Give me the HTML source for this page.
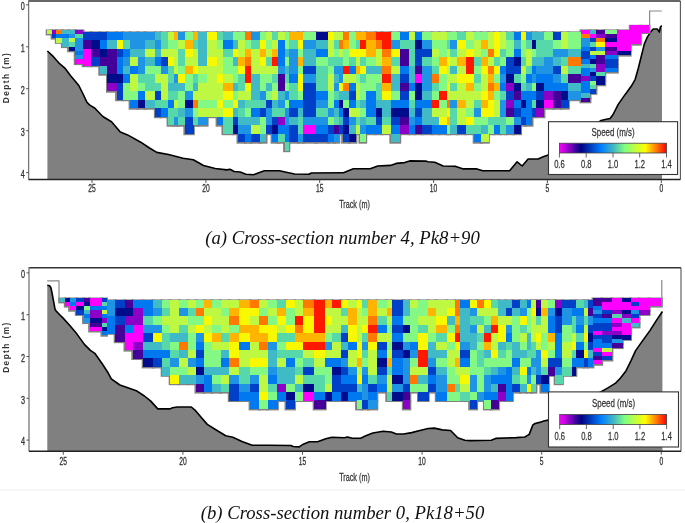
<!DOCTYPE html>
<html><head><meta charset="utf-8"><style>
html,body{margin:0;padding:0;background:#fff;}
#w{position:relative;width:685px;height:523px;overflow:hidden;background:#fff;}
svg{position:absolute;left:0;top:0;filter:blur(0.45px);}
svg text{font-family:"Liberation Sans",Arial,sans-serif;}
.cap{position:absolute;left:0;width:685px;text-align:center;font-family:"Liberation Serif","Times New Roman",serif;font-style:italic;color:#111;white-space:nowrap;filter:blur(0.3px);}
</style></head><body><div id="w">
<svg width="685" height="523" viewBox="0 0 685 523">
<path d="M47.4,179.5 L47.4,51 L53.4,56.7 L58.7,62.8 L64.8,68.1 L70.8,76.1 L78.8,85.5 L82.8,93.5 L86.9,102.2 L89.5,104.9 L94.9,108.3 L102.8,116.5 L111.5,121.8 L120.3,132 L127.6,134.9 L140.7,142.2 L149.5,148 L156.8,152.4 L168.5,154.5 L183.1,158.2 L193.3,159.7 L203.5,165.5 L215.2,168.5 L226.9,169.9 L230,169.3 L234.2,171.5 L240.1,172 L245.9,174.3 L253.5,174.7 L260.2,172.2 L264.4,170.8 L279.5,170.8 L286.2,172.2 L294.6,174 L308.9,174.3 L311.4,173 L342.5,172.7 L343.4,172.7 L353.4,168.8 L370.2,168.8 L377.8,166 L390.4,165.4 L396.2,163.4 L404.6,162.6 L409.7,160.9 L425.6,161.1 L428.1,161.8 L434.8,162.3 L443.2,166 L452.5,166.3 L455.9,166.4 L463.4,168.9 L476.9,168.9 L482.7,170.7 L509.6,170.7 L517.1,161.8 L522.2,166 L528.1,159 L538.1,159 L543.2,156.8 L548.2,155.1 L575,140 L601.1,120.5 L605.1,119.5 L610.1,118.5 L613.1,114.5 L618.2,104.4 L625.2,94.4 L631.2,86.3 L635.2,79.3 L638.3,68.2 L641.3,56.2 L644.3,44.1 L647.3,37.1 L651.3,31.1 L653.3,29 L657.3,29 L659.4,32.1 L660.4,27 L661.4,26 L662,26 L662,179.5 Z" fill="#808080"/><path d="M47.4,51 L53.4,56.7 L58.7,62.8 L64.8,68.1 L70.8,76.1 L78.8,85.5 L82.8,93.5 L86.9,102.2 L89.5,104.9 L94.9,108.3 L102.8,116.5 L111.5,121.8 L120.3,132 L127.6,134.9 L140.7,142.2 L149.5,148 L156.8,152.4 L168.5,154.5 L183.1,158.2 L193.3,159.7 L203.5,165.5 L215.2,168.5 L226.9,169.9 L230,169.3 L234.2,171.5 L240.1,172 L245.9,174.3 L253.5,174.7 L260.2,172.2 L264.4,170.8 L279.5,170.8 L286.2,172.2 L294.6,174 L308.9,174.3 L311.4,173 L342.5,172.7 L343.4,172.7 L353.4,168.8 L370.2,168.8 L377.8,166 L390.4,165.4 L396.2,163.4 L404.6,162.6 L409.7,160.9 L425.6,161.1 L428.1,161.8 L434.8,162.3 L443.2,166 L452.5,166.3 L455.9,166.4 L463.4,168.9 L476.9,168.9 L482.7,170.7 L509.6,170.7 L517.1,161.8 L522.2,166 L528.1,159 L538.1,159 L543.2,156.8 L548.2,155.1 L575,140 L601.1,120.5 L605.1,119.5 L610.1,118.5 L613.1,114.5 L618.2,104.4 L625.2,94.4 L631.2,86.3 L635.2,79.3 L638.3,68.2 L641.3,56.2 L644.3,44.1 L647.3,37.1 L651.3,31.1 L653.3,29 L657.3,29 L659.4,32.1 L660.4,27 L661.4,26 L662,26" fill="none" stroke="#000" stroke-width="1.6" stroke-linejoin="round"/>
<g fill="#808080">
<rect x="81.7" y="31.4" width="10.8" height="10.3"/>
<rect x="81.7" y="39.9" width="10.8" height="10.3"/>
<rect x="81.7" y="48.4" width="10.8" height="10.3"/>
<rect x="81.7" y="56.9" width="10.8" height="10.3"/>
<rect x="89.7" y="31.4" width="11.4" height="10.3"/>
<rect x="89.7" y="39.9" width="11.4" height="10.3"/>
<rect x="89.7" y="48.4" width="11.4" height="10.3"/>
<rect x="89.7" y="56.9" width="11.4" height="10.3"/>
<rect x="98.3" y="31.4" width="10.5" height="10.3"/>
<rect x="98.3" y="39.9" width="10.5" height="10.3"/>
<rect x="98.3" y="48.4" width="10.5" height="10.3"/>
<rect x="98.3" y="56.9" width="10.5" height="10.3"/>
<rect x="98.3" y="65.4" width="10.5" height="10.3"/>
<rect x="106.0" y="31.4" width="11.9" height="10.3"/>
<rect x="106.0" y="39.9" width="11.9" height="10.3"/>
<rect x="106.0" y="48.4" width="11.9" height="10.3"/>
<rect x="106.0" y="56.9" width="11.9" height="10.3"/>
<rect x="106.0" y="65.4" width="11.9" height="10.3"/>
<rect x="106.0" y="73.9" width="11.9" height="10.3"/>
<rect x="106.0" y="82.4" width="11.9" height="10.3"/>
<rect x="115.1" y="31.4" width="9.1" height="10.3"/>
<rect x="115.1" y="39.9" width="9.1" height="10.3"/>
<rect x="115.1" y="48.4" width="9.1" height="10.3"/>
<rect x="115.1" y="56.9" width="9.1" height="10.3"/>
<rect x="115.1" y="65.4" width="9.1" height="10.3"/>
<rect x="115.1" y="73.9" width="9.1" height="10.3"/>
<rect x="115.1" y="82.4" width="9.1" height="10.3"/>
<rect x="115.1" y="90.9" width="9.1" height="10.3"/>
<rect x="121.4" y="31.4" width="10.0" height="10.3"/>
<rect x="121.4" y="39.9" width="10.0" height="10.3"/>
<rect x="121.4" y="48.4" width="10.0" height="10.3"/>
<rect x="121.4" y="56.9" width="10.0" height="10.3"/>
<rect x="121.4" y="65.4" width="10.0" height="10.3"/>
<rect x="121.4" y="73.9" width="10.0" height="10.3"/>
<rect x="121.4" y="82.4" width="10.0" height="10.3"/>
<rect x="121.4" y="90.9" width="10.0" height="10.3"/>
<rect x="128.6" y="31.4" width="10.6" height="10.3"/>
<rect x="128.6" y="39.9" width="10.6" height="10.3"/>
<rect x="128.6" y="48.4" width="10.6" height="10.3"/>
<rect x="128.6" y="56.9" width="10.6" height="10.3"/>
<rect x="128.6" y="65.4" width="10.6" height="10.3"/>
<rect x="128.6" y="73.9" width="10.6" height="10.3"/>
<rect x="128.6" y="82.4" width="10.6" height="10.3"/>
<rect x="128.6" y="90.9" width="10.6" height="10.3"/>
<rect x="128.6" y="99.4" width="10.6" height="10.3"/>
<rect x="136.4" y="31.4" width="10.0" height="10.3"/>
<rect x="136.4" y="39.9" width="10.0" height="10.3"/>
<rect x="136.4" y="48.4" width="10.0" height="10.3"/>
<rect x="136.4" y="56.9" width="10.0" height="10.3"/>
<rect x="136.4" y="65.4" width="10.0" height="10.3"/>
<rect x="136.4" y="73.9" width="10.0" height="10.3"/>
<rect x="136.4" y="82.4" width="10.0" height="10.3"/>
<rect x="136.4" y="90.9" width="10.0" height="10.3"/>
<rect x="136.4" y="99.4" width="10.0" height="10.3"/>
<rect x="143.6" y="31.4" width="13.1" height="10.3"/>
<rect x="143.6" y="39.9" width="13.1" height="10.3"/>
<rect x="143.6" y="48.4" width="13.1" height="10.3"/>
<rect x="143.6" y="56.9" width="13.1" height="10.3"/>
<rect x="143.6" y="65.4" width="13.1" height="10.3"/>
<rect x="143.6" y="73.9" width="13.1" height="10.3"/>
<rect x="143.6" y="82.4" width="13.1" height="10.3"/>
<rect x="143.6" y="90.9" width="13.1" height="10.3"/>
<rect x="143.6" y="99.4" width="13.1" height="10.3"/>
<rect x="153.9" y="31.4" width="8.3" height="10.3"/>
<rect x="153.9" y="39.9" width="8.3" height="10.3"/>
<rect x="153.9" y="48.4" width="8.3" height="10.3"/>
<rect x="153.9" y="56.9" width="8.3" height="10.3"/>
<rect x="153.9" y="65.4" width="8.3" height="10.3"/>
<rect x="153.9" y="73.9" width="8.3" height="10.3"/>
<rect x="153.9" y="82.4" width="8.3" height="10.3"/>
<rect x="153.9" y="90.9" width="8.3" height="10.3"/>
<rect x="153.9" y="99.4" width="8.3" height="10.3"/>
<rect x="153.9" y="107.9" width="8.3" height="10.3"/>
<rect x="159.4" y="31.4" width="10.0" height="10.3"/>
<rect x="159.4" y="39.9" width="10.0" height="10.3"/>
<rect x="159.4" y="48.4" width="10.0" height="10.3"/>
<rect x="159.4" y="56.9" width="10.0" height="10.3"/>
<rect x="159.4" y="65.4" width="10.0" height="10.3"/>
<rect x="159.4" y="73.9" width="10.0" height="10.3"/>
<rect x="159.4" y="82.4" width="10.0" height="10.3"/>
<rect x="159.4" y="90.9" width="10.0" height="10.3"/>
<rect x="159.4" y="99.4" width="10.0" height="10.3"/>
<rect x="159.4" y="107.9" width="10.0" height="10.3"/>
<rect x="166.6" y="31.4" width="8.8" height="10.3"/>
<rect x="166.6" y="39.9" width="8.8" height="10.3"/>
<rect x="166.6" y="48.4" width="8.8" height="10.3"/>
<rect x="166.6" y="56.9" width="8.8" height="10.3"/>
<rect x="166.6" y="65.4" width="8.8" height="10.3"/>
<rect x="166.6" y="73.9" width="8.8" height="10.3"/>
<rect x="166.6" y="82.4" width="8.8" height="10.3"/>
<rect x="166.6" y="90.9" width="8.8" height="10.3"/>
<rect x="166.6" y="99.4" width="8.8" height="10.3"/>
<rect x="166.6" y="107.9" width="8.8" height="10.3"/>
<rect x="166.6" y="116.4" width="8.8" height="10.3"/>
<rect x="172.6" y="31.4" width="6.4" height="10.3"/>
<rect x="172.6" y="39.9" width="6.4" height="10.3"/>
<rect x="172.6" y="48.4" width="6.4" height="10.3"/>
<rect x="172.6" y="56.9" width="6.4" height="10.3"/>
<rect x="172.6" y="65.4" width="6.4" height="10.3"/>
<rect x="172.6" y="73.9" width="6.4" height="10.3"/>
<rect x="172.6" y="82.4" width="6.4" height="10.3"/>
<rect x="172.6" y="90.9" width="6.4" height="10.3"/>
<rect x="172.6" y="99.4" width="6.4" height="10.3"/>
<rect x="172.6" y="107.9" width="6.4" height="10.3"/>
<rect x="172.6" y="116.4" width="6.4" height="10.3"/>
<rect x="176.2" y="31.4" width="10.0" height="10.3"/>
<rect x="176.2" y="39.9" width="10.0" height="10.3"/>
<rect x="176.2" y="48.4" width="10.0" height="10.3"/>
<rect x="176.2" y="56.9" width="10.0" height="10.3"/>
<rect x="176.2" y="65.4" width="10.0" height="10.3"/>
<rect x="176.2" y="73.9" width="10.0" height="10.3"/>
<rect x="176.2" y="82.4" width="10.0" height="10.3"/>
<rect x="176.2" y="90.9" width="10.0" height="10.3"/>
<rect x="176.2" y="99.4" width="10.0" height="10.3"/>
<rect x="176.2" y="107.9" width="10.0" height="10.3"/>
<rect x="176.2" y="116.4" width="10.0" height="10.3"/>
<rect x="183.4" y="31.4" width="11.4" height="10.3"/>
<rect x="183.4" y="39.9" width="11.4" height="10.3"/>
<rect x="183.4" y="48.4" width="11.4" height="10.3"/>
<rect x="183.4" y="56.9" width="11.4" height="10.3"/>
<rect x="183.4" y="65.4" width="11.4" height="10.3"/>
<rect x="183.4" y="73.9" width="11.4" height="10.3"/>
<rect x="183.4" y="82.4" width="11.4" height="10.3"/>
<rect x="183.4" y="90.9" width="11.4" height="10.3"/>
<rect x="183.4" y="99.4" width="11.4" height="10.3"/>
<rect x="183.4" y="107.9" width="11.4" height="10.3"/>
<rect x="183.4" y="116.4" width="11.4" height="10.3"/>
<rect x="183.4" y="124.9" width="11.4" height="10.3"/>
<rect x="192.0" y="31.4" width="7.4" height="10.3"/>
<rect x="192.0" y="39.9" width="7.4" height="10.3"/>
<rect x="192.0" y="48.4" width="7.4" height="10.3"/>
<rect x="192.0" y="56.9" width="7.4" height="10.3"/>
<rect x="192.0" y="65.4" width="7.4" height="10.3"/>
<rect x="192.0" y="73.9" width="7.4" height="10.3"/>
<rect x="192.0" y="82.4" width="7.4" height="10.3"/>
<rect x="192.0" y="90.9" width="7.4" height="10.3"/>
<rect x="192.0" y="99.4" width="7.4" height="10.3"/>
<rect x="192.0" y="107.9" width="7.4" height="10.3"/>
<rect x="192.0" y="116.4" width="7.4" height="10.3"/>
<rect x="196.6" y="31.4" width="12.0" height="10.3"/>
<rect x="196.6" y="39.9" width="12.0" height="10.3"/>
<rect x="196.6" y="48.4" width="12.0" height="10.3"/>
<rect x="196.6" y="56.9" width="12.0" height="10.3"/>
<rect x="196.6" y="65.4" width="12.0" height="10.3"/>
<rect x="196.6" y="73.9" width="12.0" height="10.3"/>
<rect x="196.6" y="82.4" width="12.0" height="10.3"/>
<rect x="196.6" y="90.9" width="12.0" height="10.3"/>
<rect x="196.6" y="99.4" width="12.0" height="10.3"/>
<rect x="196.6" y="107.9" width="12.0" height="10.3"/>
<rect x="196.6" y="116.4" width="12.0" height="10.3"/>
<rect x="205.8" y="31.4" width="12.6" height="10.3"/>
<rect x="205.8" y="39.9" width="12.6" height="10.3"/>
<rect x="205.8" y="48.4" width="12.6" height="10.3"/>
<rect x="205.8" y="56.9" width="12.6" height="10.3"/>
<rect x="205.8" y="65.4" width="12.6" height="10.3"/>
<rect x="205.8" y="73.9" width="12.6" height="10.3"/>
<rect x="205.8" y="82.4" width="12.6" height="10.3"/>
<rect x="205.8" y="90.9" width="12.6" height="10.3"/>
<rect x="205.8" y="99.4" width="12.6" height="10.3"/>
<rect x="205.8" y="107.9" width="12.6" height="10.3"/>
<rect x="215.6" y="31.4" width="8.7" height="10.3"/>
<rect x="215.6" y="39.9" width="8.7" height="10.3"/>
<rect x="215.6" y="48.4" width="8.7" height="10.3"/>
<rect x="215.6" y="56.9" width="8.7" height="10.3"/>
<rect x="215.6" y="65.4" width="8.7" height="10.3"/>
<rect x="215.6" y="73.9" width="8.7" height="10.3"/>
<rect x="215.6" y="82.4" width="8.7" height="10.3"/>
<rect x="215.6" y="90.9" width="8.7" height="10.3"/>
<rect x="215.6" y="99.4" width="8.7" height="10.3"/>
<rect x="215.6" y="107.9" width="8.7" height="10.3"/>
<rect x="215.6" y="116.4" width="8.7" height="10.3"/>
<rect x="221.5" y="31.4" width="12.9" height="10.3"/>
<rect x="221.5" y="39.9" width="12.9" height="10.3"/>
<rect x="221.5" y="48.4" width="12.9" height="10.3"/>
<rect x="221.5" y="56.9" width="12.9" height="10.3"/>
<rect x="221.5" y="65.4" width="12.9" height="10.3"/>
<rect x="221.5" y="73.9" width="12.9" height="10.3"/>
<rect x="221.5" y="82.4" width="12.9" height="10.3"/>
<rect x="221.5" y="90.9" width="12.9" height="10.3"/>
<rect x="221.5" y="99.4" width="12.9" height="10.3"/>
<rect x="221.5" y="107.9" width="12.9" height="10.3"/>
<rect x="221.5" y="116.4" width="12.9" height="10.3"/>
<rect x="221.5" y="124.9" width="12.9" height="10.3"/>
<rect x="231.6" y="31.4" width="7.7" height="10.3"/>
<rect x="231.6" y="39.9" width="7.7" height="10.3"/>
<rect x="231.6" y="48.4" width="7.7" height="10.3"/>
<rect x="231.6" y="56.9" width="7.7" height="10.3"/>
<rect x="231.6" y="65.4" width="7.7" height="10.3"/>
<rect x="231.6" y="73.9" width="7.7" height="10.3"/>
<rect x="231.6" y="82.4" width="7.7" height="10.3"/>
<rect x="231.6" y="90.9" width="7.7" height="10.3"/>
<rect x="231.6" y="99.4" width="7.7" height="10.3"/>
<rect x="231.6" y="107.9" width="7.7" height="10.3"/>
<rect x="231.6" y="116.4" width="7.7" height="10.3"/>
<rect x="231.6" y="124.9" width="7.7" height="10.3"/>
<rect x="236.5" y="31.4" width="10.0" height="10.3"/>
<rect x="236.5" y="39.9" width="10.0" height="10.3"/>
<rect x="236.5" y="48.4" width="10.0" height="10.3"/>
<rect x="236.5" y="56.9" width="10.0" height="10.3"/>
<rect x="236.5" y="65.4" width="10.0" height="10.3"/>
<rect x="236.5" y="73.9" width="10.0" height="10.3"/>
<rect x="236.5" y="82.4" width="10.0" height="10.3"/>
<rect x="236.5" y="90.9" width="10.0" height="10.3"/>
<rect x="236.5" y="99.4" width="10.0" height="10.3"/>
<rect x="236.5" y="107.9" width="10.0" height="10.3"/>
<rect x="236.5" y="116.4" width="10.0" height="10.3"/>
<rect x="236.5" y="124.9" width="10.0" height="10.3"/>
<rect x="236.5" y="133.4" width="10.0" height="10.3"/>
<rect x="243.7" y="31.4" width="8.7" height="10.3"/>
<rect x="243.7" y="39.9" width="8.7" height="10.3"/>
<rect x="243.7" y="48.4" width="8.7" height="10.3"/>
<rect x="243.7" y="56.9" width="8.7" height="10.3"/>
<rect x="243.7" y="65.4" width="8.7" height="10.3"/>
<rect x="243.7" y="73.9" width="8.7" height="10.3"/>
<rect x="243.7" y="82.4" width="8.7" height="10.3"/>
<rect x="243.7" y="90.9" width="8.7" height="10.3"/>
<rect x="243.7" y="99.4" width="8.7" height="10.3"/>
<rect x="243.7" y="107.9" width="8.7" height="10.3"/>
<rect x="243.7" y="116.4" width="8.7" height="10.3"/>
<rect x="243.7" y="124.9" width="8.7" height="10.3"/>
<rect x="243.7" y="133.4" width="8.7" height="10.3"/>
<rect x="249.6" y="31.4" width="11.8" height="10.3"/>
<rect x="249.6" y="39.9" width="11.8" height="10.3"/>
<rect x="249.6" y="48.4" width="11.8" height="10.3"/>
<rect x="249.6" y="56.9" width="11.8" height="10.3"/>
<rect x="249.6" y="65.4" width="11.8" height="10.3"/>
<rect x="249.6" y="73.9" width="11.8" height="10.3"/>
<rect x="249.6" y="82.4" width="11.8" height="10.3"/>
<rect x="249.6" y="90.9" width="11.8" height="10.3"/>
<rect x="249.6" y="99.4" width="11.8" height="10.3"/>
<rect x="249.6" y="107.9" width="11.8" height="10.3"/>
<rect x="249.6" y="116.4" width="11.8" height="10.3"/>
<rect x="249.6" y="124.9" width="11.8" height="10.3"/>
<rect x="249.6" y="133.4" width="11.8" height="10.3"/>
<rect x="258.6" y="31.4" width="8.9" height="10.3"/>
<rect x="258.6" y="39.9" width="8.9" height="10.3"/>
<rect x="258.6" y="48.4" width="8.9" height="10.3"/>
<rect x="258.6" y="56.9" width="8.9" height="10.3"/>
<rect x="258.6" y="65.4" width="8.9" height="10.3"/>
<rect x="258.6" y="73.9" width="8.9" height="10.3"/>
<rect x="258.6" y="82.4" width="8.9" height="10.3"/>
<rect x="258.6" y="90.9" width="8.9" height="10.3"/>
<rect x="258.6" y="99.4" width="8.9" height="10.3"/>
<rect x="258.6" y="107.9" width="8.9" height="10.3"/>
<rect x="258.6" y="116.4" width="8.9" height="10.3"/>
<rect x="258.6" y="124.9" width="8.9" height="10.3"/>
<rect x="258.6" y="133.4" width="8.9" height="10.3"/>
<rect x="264.7" y="31.4" width="8.7" height="10.3"/>
<rect x="264.7" y="39.9" width="8.7" height="10.3"/>
<rect x="264.7" y="48.4" width="8.7" height="10.3"/>
<rect x="264.7" y="56.9" width="8.7" height="10.3"/>
<rect x="264.7" y="65.4" width="8.7" height="10.3"/>
<rect x="264.7" y="73.9" width="8.7" height="10.3"/>
<rect x="264.7" y="82.4" width="8.7" height="10.3"/>
<rect x="264.7" y="90.9" width="8.7" height="10.3"/>
<rect x="264.7" y="99.4" width="8.7" height="10.3"/>
<rect x="264.7" y="107.9" width="8.7" height="10.3"/>
<rect x="264.7" y="116.4" width="8.7" height="10.3"/>
<rect x="264.7" y="124.9" width="8.7" height="10.3"/>
<rect x="270.6" y="31.4" width="8.8" height="10.3"/>
<rect x="270.6" y="39.9" width="8.8" height="10.3"/>
<rect x="270.6" y="48.4" width="8.8" height="10.3"/>
<rect x="270.6" y="56.9" width="8.8" height="10.3"/>
<rect x="270.6" y="65.4" width="8.8" height="10.3"/>
<rect x="270.6" y="73.9" width="8.8" height="10.3"/>
<rect x="270.6" y="82.4" width="8.8" height="10.3"/>
<rect x="270.6" y="90.9" width="8.8" height="10.3"/>
<rect x="270.6" y="99.4" width="8.8" height="10.3"/>
<rect x="270.6" y="107.9" width="8.8" height="10.3"/>
<rect x="270.6" y="116.4" width="8.8" height="10.3"/>
<rect x="270.6" y="124.9" width="8.8" height="10.3"/>
<rect x="270.6" y="133.4" width="8.8" height="10.3"/>
<rect x="276.6" y="31.4" width="9.3" height="10.3"/>
<rect x="276.6" y="39.9" width="9.3" height="10.3"/>
<rect x="276.6" y="48.4" width="9.3" height="10.3"/>
<rect x="276.6" y="56.9" width="9.3" height="10.3"/>
<rect x="276.6" y="65.4" width="9.3" height="10.3"/>
<rect x="276.6" y="73.9" width="9.3" height="10.3"/>
<rect x="276.6" y="82.4" width="9.3" height="10.3"/>
<rect x="276.6" y="90.9" width="9.3" height="10.3"/>
<rect x="276.6" y="99.4" width="9.3" height="10.3"/>
<rect x="276.6" y="107.9" width="9.3" height="10.3"/>
<rect x="276.6" y="116.4" width="9.3" height="10.3"/>
<rect x="276.6" y="124.9" width="9.3" height="10.3"/>
<rect x="276.6" y="133.4" width="9.3" height="10.3"/>
<rect x="283.1" y="31.4" width="7.2" height="10.3"/>
<rect x="283.1" y="39.9" width="7.2" height="10.3"/>
<rect x="283.1" y="48.4" width="7.2" height="10.3"/>
<rect x="283.1" y="56.9" width="7.2" height="10.3"/>
<rect x="283.1" y="65.4" width="7.2" height="10.3"/>
<rect x="283.1" y="73.9" width="7.2" height="10.3"/>
<rect x="283.1" y="82.4" width="7.2" height="10.3"/>
<rect x="283.1" y="90.9" width="7.2" height="10.3"/>
<rect x="283.1" y="99.4" width="7.2" height="10.3"/>
<rect x="283.1" y="107.9" width="7.2" height="10.3"/>
<rect x="283.1" y="116.4" width="7.2" height="10.3"/>
<rect x="283.1" y="124.9" width="7.2" height="10.3"/>
<rect x="283.1" y="133.4" width="7.2" height="10.3"/>
<rect x="283.1" y="141.9" width="7.2" height="10.3"/>
<rect x="287.5" y="31.4" width="12.2" height="10.3"/>
<rect x="287.5" y="39.9" width="12.2" height="10.3"/>
<rect x="287.5" y="48.4" width="12.2" height="10.3"/>
<rect x="287.5" y="56.9" width="12.2" height="10.3"/>
<rect x="287.5" y="65.4" width="12.2" height="10.3"/>
<rect x="287.5" y="73.9" width="12.2" height="10.3"/>
<rect x="287.5" y="82.4" width="12.2" height="10.3"/>
<rect x="287.5" y="90.9" width="12.2" height="10.3"/>
<rect x="287.5" y="99.4" width="12.2" height="10.3"/>
<rect x="287.5" y="107.9" width="12.2" height="10.3"/>
<rect x="287.5" y="116.4" width="12.2" height="10.3"/>
<rect x="287.5" y="124.9" width="12.2" height="10.3"/>
<rect x="287.5" y="133.4" width="12.2" height="10.3"/>
<rect x="296.9" y="31.4" width="7.8" height="10.3"/>
<rect x="296.9" y="39.9" width="7.8" height="10.3"/>
<rect x="296.9" y="48.4" width="7.8" height="10.3"/>
<rect x="296.9" y="56.9" width="7.8" height="10.3"/>
<rect x="296.9" y="65.4" width="7.8" height="10.3"/>
<rect x="296.9" y="73.9" width="7.8" height="10.3"/>
<rect x="296.9" y="82.4" width="7.8" height="10.3"/>
<rect x="296.9" y="90.9" width="7.8" height="10.3"/>
<rect x="296.9" y="99.4" width="7.8" height="10.3"/>
<rect x="296.9" y="107.9" width="7.8" height="10.3"/>
<rect x="296.9" y="116.4" width="7.8" height="10.3"/>
<rect x="296.9" y="124.9" width="7.8" height="10.3"/>
<rect x="296.9" y="133.4" width="7.8" height="10.3"/>
<rect x="301.9" y="31.4" width="15.6" height="10.3"/>
<rect x="301.9" y="39.9" width="15.6" height="10.3"/>
<rect x="301.9" y="48.4" width="15.6" height="10.3"/>
<rect x="301.9" y="56.9" width="15.6" height="10.3"/>
<rect x="301.9" y="65.4" width="15.6" height="10.3"/>
<rect x="301.9" y="73.9" width="15.6" height="10.3"/>
<rect x="301.9" y="82.4" width="15.6" height="10.3"/>
<rect x="301.9" y="90.9" width="15.6" height="10.3"/>
<rect x="301.9" y="99.4" width="15.6" height="10.3"/>
<rect x="301.9" y="107.9" width="15.6" height="10.3"/>
<rect x="301.9" y="116.4" width="15.6" height="10.3"/>
<rect x="301.9" y="124.9" width="15.6" height="10.3"/>
<rect x="301.9" y="133.4" width="15.6" height="10.3"/>
<rect x="314.7" y="31.4" width="15.1" height="10.3"/>
<rect x="314.7" y="39.9" width="15.1" height="10.3"/>
<rect x="314.7" y="48.4" width="15.1" height="10.3"/>
<rect x="314.7" y="56.9" width="15.1" height="10.3"/>
<rect x="314.7" y="65.4" width="15.1" height="10.3"/>
<rect x="314.7" y="73.9" width="15.1" height="10.3"/>
<rect x="314.7" y="82.4" width="15.1" height="10.3"/>
<rect x="314.7" y="90.9" width="15.1" height="10.3"/>
<rect x="314.7" y="99.4" width="15.1" height="10.3"/>
<rect x="314.7" y="107.9" width="15.1" height="10.3"/>
<rect x="314.7" y="116.4" width="15.1" height="10.3"/>
<rect x="314.7" y="124.9" width="15.1" height="10.3"/>
<rect x="314.7" y="133.4" width="15.1" height="10.3"/>
<rect x="327.0" y="31.4" width="8.7" height="10.3"/>
<rect x="327.0" y="39.9" width="8.7" height="10.3"/>
<rect x="327.0" y="48.4" width="8.7" height="10.3"/>
<rect x="327.0" y="56.9" width="8.7" height="10.3"/>
<rect x="327.0" y="65.4" width="8.7" height="10.3"/>
<rect x="327.0" y="73.9" width="8.7" height="10.3"/>
<rect x="327.0" y="82.4" width="8.7" height="10.3"/>
<rect x="327.0" y="90.9" width="8.7" height="10.3"/>
<rect x="327.0" y="99.4" width="8.7" height="10.3"/>
<rect x="327.0" y="107.9" width="8.7" height="10.3"/>
<rect x="327.0" y="116.4" width="8.7" height="10.3"/>
<rect x="327.0" y="124.9" width="8.7" height="10.3"/>
<rect x="327.0" y="133.4" width="8.7" height="10.3"/>
<rect x="332.9" y="31.4" width="7.4" height="10.3"/>
<rect x="332.9" y="39.9" width="7.4" height="10.3"/>
<rect x="332.9" y="48.4" width="7.4" height="10.3"/>
<rect x="332.9" y="56.9" width="7.4" height="10.3"/>
<rect x="332.9" y="65.4" width="7.4" height="10.3"/>
<rect x="332.9" y="73.9" width="7.4" height="10.3"/>
<rect x="332.9" y="82.4" width="7.4" height="10.3"/>
<rect x="332.9" y="90.9" width="7.4" height="10.3"/>
<rect x="332.9" y="99.4" width="7.4" height="10.3"/>
<rect x="332.9" y="107.9" width="7.4" height="10.3"/>
<rect x="332.9" y="116.4" width="7.4" height="10.3"/>
<rect x="332.9" y="124.9" width="7.4" height="10.3"/>
<rect x="332.9" y="133.4" width="7.4" height="10.3"/>
<rect x="337.5" y="31.4" width="6.5" height="10.3"/>
<rect x="337.5" y="39.9" width="6.5" height="10.3"/>
<rect x="337.5" y="48.4" width="6.5" height="10.3"/>
<rect x="337.5" y="56.9" width="6.5" height="10.3"/>
<rect x="337.5" y="65.4" width="6.5" height="10.3"/>
<rect x="337.5" y="73.9" width="6.5" height="10.3"/>
<rect x="337.5" y="82.4" width="6.5" height="10.3"/>
<rect x="337.5" y="90.9" width="6.5" height="10.3"/>
<rect x="337.5" y="99.4" width="6.5" height="10.3"/>
<rect x="337.5" y="107.9" width="6.5" height="10.3"/>
<rect x="337.5" y="116.4" width="6.5" height="10.3"/>
<rect x="337.5" y="124.9" width="6.5" height="10.3"/>
<rect x="341.2" y="31.4" width="9.4" height="10.3"/>
<rect x="341.2" y="39.9" width="9.4" height="10.3"/>
<rect x="341.2" y="48.4" width="9.4" height="10.3"/>
<rect x="341.2" y="56.9" width="9.4" height="10.3"/>
<rect x="341.2" y="65.4" width="9.4" height="10.3"/>
<rect x="341.2" y="73.9" width="9.4" height="10.3"/>
<rect x="341.2" y="82.4" width="9.4" height="10.3"/>
<rect x="341.2" y="90.9" width="9.4" height="10.3"/>
<rect x="341.2" y="99.4" width="9.4" height="10.3"/>
<rect x="341.2" y="107.9" width="9.4" height="10.3"/>
<rect x="341.2" y="116.4" width="9.4" height="10.3"/>
<rect x="341.2" y="124.9" width="9.4" height="10.3"/>
<rect x="341.2" y="133.4" width="9.4" height="10.3"/>
<rect x="347.8" y="31.4" width="9.6" height="10.3"/>
<rect x="347.8" y="39.9" width="9.6" height="10.3"/>
<rect x="347.8" y="48.4" width="9.6" height="10.3"/>
<rect x="347.8" y="56.9" width="9.6" height="10.3"/>
<rect x="347.8" y="65.4" width="9.6" height="10.3"/>
<rect x="347.8" y="73.9" width="9.6" height="10.3"/>
<rect x="347.8" y="82.4" width="9.6" height="10.3"/>
<rect x="347.8" y="90.9" width="9.6" height="10.3"/>
<rect x="347.8" y="99.4" width="9.6" height="10.3"/>
<rect x="347.8" y="107.9" width="9.6" height="10.3"/>
<rect x="347.8" y="116.4" width="9.6" height="10.3"/>
<rect x="347.8" y="124.9" width="9.6" height="10.3"/>
<rect x="347.8" y="133.4" width="9.6" height="10.3"/>
<rect x="354.6" y="31.4" width="6.7" height="10.3"/>
<rect x="354.6" y="39.9" width="6.7" height="10.3"/>
<rect x="354.6" y="48.4" width="6.7" height="10.3"/>
<rect x="354.6" y="56.9" width="6.7" height="10.3"/>
<rect x="354.6" y="65.4" width="6.7" height="10.3"/>
<rect x="354.6" y="73.9" width="6.7" height="10.3"/>
<rect x="354.6" y="82.4" width="6.7" height="10.3"/>
<rect x="354.6" y="90.9" width="6.7" height="10.3"/>
<rect x="354.6" y="99.4" width="6.7" height="10.3"/>
<rect x="354.6" y="107.9" width="6.7" height="10.3"/>
<rect x="354.6" y="116.4" width="6.7" height="10.3"/>
<rect x="354.6" y="124.9" width="6.7" height="10.3"/>
<rect x="358.5" y="31.4" width="8.7" height="10.3"/>
<rect x="358.5" y="39.9" width="8.7" height="10.3"/>
<rect x="358.5" y="48.4" width="8.7" height="10.3"/>
<rect x="358.5" y="56.9" width="8.7" height="10.3"/>
<rect x="358.5" y="65.4" width="8.7" height="10.3"/>
<rect x="358.5" y="73.9" width="8.7" height="10.3"/>
<rect x="358.5" y="82.4" width="8.7" height="10.3"/>
<rect x="358.5" y="90.9" width="8.7" height="10.3"/>
<rect x="358.5" y="99.4" width="8.7" height="10.3"/>
<rect x="358.5" y="107.9" width="8.7" height="10.3"/>
<rect x="358.5" y="116.4" width="8.7" height="10.3"/>
<rect x="358.5" y="124.9" width="8.7" height="10.3"/>
<rect x="358.5" y="133.4" width="8.7" height="10.3"/>
<rect x="364.4" y="31.4" width="12.7" height="10.3"/>
<rect x="364.4" y="39.9" width="12.7" height="10.3"/>
<rect x="364.4" y="48.4" width="12.7" height="10.3"/>
<rect x="364.4" y="56.9" width="12.7" height="10.3"/>
<rect x="364.4" y="65.4" width="12.7" height="10.3"/>
<rect x="364.4" y="73.9" width="12.7" height="10.3"/>
<rect x="364.4" y="82.4" width="12.7" height="10.3"/>
<rect x="364.4" y="90.9" width="12.7" height="10.3"/>
<rect x="364.4" y="99.4" width="12.7" height="10.3"/>
<rect x="364.4" y="107.9" width="12.7" height="10.3"/>
<rect x="364.4" y="116.4" width="12.7" height="10.3"/>
<rect x="364.4" y="124.9" width="12.7" height="10.3"/>
<rect x="374.3" y="31.4" width="9.1" height="10.3"/>
<rect x="374.3" y="39.9" width="9.1" height="10.3"/>
<rect x="374.3" y="48.4" width="9.1" height="10.3"/>
<rect x="374.3" y="56.9" width="9.1" height="10.3"/>
<rect x="374.3" y="65.4" width="9.1" height="10.3"/>
<rect x="374.3" y="73.9" width="9.1" height="10.3"/>
<rect x="374.3" y="82.4" width="9.1" height="10.3"/>
<rect x="374.3" y="90.9" width="9.1" height="10.3"/>
<rect x="374.3" y="99.4" width="9.1" height="10.3"/>
<rect x="374.3" y="107.9" width="9.1" height="10.3"/>
<rect x="374.3" y="116.4" width="9.1" height="10.3"/>
<rect x="374.3" y="124.9" width="9.1" height="10.3"/>
<rect x="380.6" y="31.4" width="11.6" height="10.3"/>
<rect x="380.6" y="39.9" width="11.6" height="10.3"/>
<rect x="380.6" y="48.4" width="11.6" height="10.3"/>
<rect x="380.6" y="56.9" width="11.6" height="10.3"/>
<rect x="380.6" y="65.4" width="11.6" height="10.3"/>
<rect x="380.6" y="73.9" width="11.6" height="10.3"/>
<rect x="380.6" y="82.4" width="11.6" height="10.3"/>
<rect x="380.6" y="90.9" width="11.6" height="10.3"/>
<rect x="380.6" y="99.4" width="11.6" height="10.3"/>
<rect x="380.6" y="107.9" width="11.6" height="10.3"/>
<rect x="380.6" y="116.4" width="11.6" height="10.3"/>
<rect x="380.6" y="124.9" width="11.6" height="10.3"/>
<rect x="389.4" y="31.4" width="11.8" height="10.3"/>
<rect x="389.4" y="39.9" width="11.8" height="10.3"/>
<rect x="389.4" y="48.4" width="11.8" height="10.3"/>
<rect x="389.4" y="56.9" width="11.8" height="10.3"/>
<rect x="389.4" y="65.4" width="11.8" height="10.3"/>
<rect x="389.4" y="73.9" width="11.8" height="10.3"/>
<rect x="389.4" y="82.4" width="11.8" height="10.3"/>
<rect x="389.4" y="90.9" width="11.8" height="10.3"/>
<rect x="389.4" y="99.4" width="11.8" height="10.3"/>
<rect x="389.4" y="107.9" width="11.8" height="10.3"/>
<rect x="389.4" y="116.4" width="11.8" height="10.3"/>
<rect x="389.4" y="124.9" width="11.8" height="10.3"/>
<rect x="389.4" y="133.4" width="11.8" height="10.3"/>
<rect x="398.4" y="31.4" width="12.3" height="10.3"/>
<rect x="398.4" y="39.9" width="12.3" height="10.3"/>
<rect x="398.4" y="48.4" width="12.3" height="10.3"/>
<rect x="398.4" y="56.9" width="12.3" height="10.3"/>
<rect x="398.4" y="65.4" width="12.3" height="10.3"/>
<rect x="398.4" y="73.9" width="12.3" height="10.3"/>
<rect x="398.4" y="82.4" width="12.3" height="10.3"/>
<rect x="398.4" y="90.9" width="12.3" height="10.3"/>
<rect x="398.4" y="99.4" width="12.3" height="10.3"/>
<rect x="398.4" y="107.9" width="12.3" height="10.3"/>
<rect x="398.4" y="116.4" width="12.3" height="10.3"/>
<rect x="398.4" y="124.9" width="12.3" height="10.3"/>
<rect x="407.9" y="31.4" width="8.4" height="10.3"/>
<rect x="407.9" y="39.9" width="8.4" height="10.3"/>
<rect x="407.9" y="48.4" width="8.4" height="10.3"/>
<rect x="407.9" y="56.9" width="8.4" height="10.3"/>
<rect x="407.9" y="65.4" width="8.4" height="10.3"/>
<rect x="407.9" y="73.9" width="8.4" height="10.3"/>
<rect x="407.9" y="82.4" width="8.4" height="10.3"/>
<rect x="407.9" y="90.9" width="8.4" height="10.3"/>
<rect x="407.9" y="99.4" width="8.4" height="10.3"/>
<rect x="407.9" y="107.9" width="8.4" height="10.3"/>
<rect x="407.9" y="116.4" width="8.4" height="10.3"/>
<rect x="407.9" y="124.9" width="8.4" height="10.3"/>
<rect x="413.5" y="31.4" width="10.1" height="10.3"/>
<rect x="413.5" y="39.9" width="10.1" height="10.3"/>
<rect x="413.5" y="48.4" width="10.1" height="10.3"/>
<rect x="413.5" y="56.9" width="10.1" height="10.3"/>
<rect x="413.5" y="65.4" width="10.1" height="10.3"/>
<rect x="413.5" y="73.9" width="10.1" height="10.3"/>
<rect x="413.5" y="82.4" width="10.1" height="10.3"/>
<rect x="413.5" y="90.9" width="10.1" height="10.3"/>
<rect x="413.5" y="99.4" width="10.1" height="10.3"/>
<rect x="413.5" y="107.9" width="10.1" height="10.3"/>
<rect x="413.5" y="116.4" width="10.1" height="10.3"/>
<rect x="413.5" y="124.9" width="10.1" height="10.3"/>
<rect x="420.8" y="31.4" width="12.6" height="10.3"/>
<rect x="420.8" y="39.9" width="12.6" height="10.3"/>
<rect x="420.8" y="48.4" width="12.6" height="10.3"/>
<rect x="420.8" y="56.9" width="12.6" height="10.3"/>
<rect x="420.8" y="65.4" width="12.6" height="10.3"/>
<rect x="420.8" y="73.9" width="12.6" height="10.3"/>
<rect x="420.8" y="82.4" width="12.6" height="10.3"/>
<rect x="420.8" y="90.9" width="12.6" height="10.3"/>
<rect x="420.8" y="99.4" width="12.6" height="10.3"/>
<rect x="420.8" y="107.9" width="12.6" height="10.3"/>
<rect x="420.8" y="116.4" width="12.6" height="10.3"/>
<rect x="420.8" y="124.9" width="12.6" height="10.3"/>
<rect x="430.6" y="31.4" width="10.0" height="10.3"/>
<rect x="430.6" y="39.9" width="10.0" height="10.3"/>
<rect x="430.6" y="48.4" width="10.0" height="10.3"/>
<rect x="430.6" y="56.9" width="10.0" height="10.3"/>
<rect x="430.6" y="65.4" width="10.0" height="10.3"/>
<rect x="430.6" y="73.9" width="10.0" height="10.3"/>
<rect x="430.6" y="82.4" width="10.0" height="10.3"/>
<rect x="430.6" y="90.9" width="10.0" height="10.3"/>
<rect x="430.6" y="99.4" width="10.0" height="10.3"/>
<rect x="430.6" y="107.9" width="10.0" height="10.3"/>
<rect x="430.6" y="116.4" width="10.0" height="10.3"/>
<rect x="430.6" y="124.9" width="10.0" height="10.3"/>
<rect x="437.8" y="31.4" width="10.5" height="10.3"/>
<rect x="437.8" y="39.9" width="10.5" height="10.3"/>
<rect x="437.8" y="48.4" width="10.5" height="10.3"/>
<rect x="437.8" y="56.9" width="10.5" height="10.3"/>
<rect x="437.8" y="65.4" width="10.5" height="10.3"/>
<rect x="437.8" y="73.9" width="10.5" height="10.3"/>
<rect x="437.8" y="82.4" width="10.5" height="10.3"/>
<rect x="437.8" y="90.9" width="10.5" height="10.3"/>
<rect x="437.8" y="99.4" width="10.5" height="10.3"/>
<rect x="437.8" y="107.9" width="10.5" height="10.3"/>
<rect x="437.8" y="116.4" width="10.5" height="10.3"/>
<rect x="437.8" y="124.9" width="10.5" height="10.3"/>
<rect x="445.5" y="31.4" width="5.7" height="10.3"/>
<rect x="445.5" y="39.9" width="5.7" height="10.3"/>
<rect x="445.5" y="48.4" width="5.7" height="10.3"/>
<rect x="445.5" y="56.9" width="5.7" height="10.3"/>
<rect x="445.5" y="65.4" width="5.7" height="10.3"/>
<rect x="445.5" y="73.9" width="5.7" height="10.3"/>
<rect x="445.5" y="82.4" width="5.7" height="10.3"/>
<rect x="445.5" y="90.9" width="5.7" height="10.3"/>
<rect x="445.5" y="99.4" width="5.7" height="10.3"/>
<rect x="445.5" y="107.9" width="5.7" height="10.3"/>
<rect x="445.5" y="116.4" width="5.7" height="10.3"/>
<rect x="445.5" y="124.9" width="5.7" height="10.3"/>
<rect x="448.4" y="31.4" width="10.4" height="10.3"/>
<rect x="448.4" y="39.9" width="10.4" height="10.3"/>
<rect x="448.4" y="48.4" width="10.4" height="10.3"/>
<rect x="448.4" y="56.9" width="10.4" height="10.3"/>
<rect x="448.4" y="65.4" width="10.4" height="10.3"/>
<rect x="448.4" y="73.9" width="10.4" height="10.3"/>
<rect x="448.4" y="82.4" width="10.4" height="10.3"/>
<rect x="448.4" y="90.9" width="10.4" height="10.3"/>
<rect x="448.4" y="99.4" width="10.4" height="10.3"/>
<rect x="448.4" y="107.9" width="10.4" height="10.3"/>
<rect x="448.4" y="116.4" width="10.4" height="10.3"/>
<rect x="448.4" y="124.9" width="10.4" height="10.3"/>
<rect x="456.0" y="31.4" width="10.9" height="10.3"/>
<rect x="456.0" y="39.9" width="10.9" height="10.3"/>
<rect x="456.0" y="48.4" width="10.9" height="10.3"/>
<rect x="456.0" y="56.9" width="10.9" height="10.3"/>
<rect x="456.0" y="65.4" width="10.9" height="10.3"/>
<rect x="456.0" y="73.9" width="10.9" height="10.3"/>
<rect x="456.0" y="82.4" width="10.9" height="10.3"/>
<rect x="456.0" y="90.9" width="10.9" height="10.3"/>
<rect x="456.0" y="99.4" width="10.9" height="10.3"/>
<rect x="456.0" y="107.9" width="10.9" height="10.3"/>
<rect x="456.0" y="116.4" width="10.9" height="10.3"/>
<rect x="456.0" y="124.9" width="10.9" height="10.3"/>
<rect x="464.1" y="31.4" width="11.4" height="10.3"/>
<rect x="464.1" y="39.9" width="11.4" height="10.3"/>
<rect x="464.1" y="48.4" width="11.4" height="10.3"/>
<rect x="464.1" y="56.9" width="11.4" height="10.3"/>
<rect x="464.1" y="65.4" width="11.4" height="10.3"/>
<rect x="464.1" y="73.9" width="11.4" height="10.3"/>
<rect x="464.1" y="82.4" width="11.4" height="10.3"/>
<rect x="464.1" y="90.9" width="11.4" height="10.3"/>
<rect x="464.1" y="99.4" width="11.4" height="10.3"/>
<rect x="464.1" y="107.9" width="11.4" height="10.3"/>
<rect x="464.1" y="116.4" width="11.4" height="10.3"/>
<rect x="464.1" y="124.9" width="11.4" height="10.3"/>
<rect x="472.7" y="31.4" width="9.8" height="10.3"/>
<rect x="472.7" y="39.9" width="9.8" height="10.3"/>
<rect x="472.7" y="48.4" width="9.8" height="10.3"/>
<rect x="472.7" y="56.9" width="9.8" height="10.3"/>
<rect x="472.7" y="65.4" width="9.8" height="10.3"/>
<rect x="472.7" y="73.9" width="9.8" height="10.3"/>
<rect x="472.7" y="82.4" width="9.8" height="10.3"/>
<rect x="472.7" y="90.9" width="9.8" height="10.3"/>
<rect x="472.7" y="99.4" width="9.8" height="10.3"/>
<rect x="472.7" y="107.9" width="9.8" height="10.3"/>
<rect x="472.7" y="116.4" width="9.8" height="10.3"/>
<rect x="472.7" y="124.9" width="9.8" height="10.3"/>
<rect x="472.7" y="133.4" width="9.8" height="10.3"/>
<rect x="479.7" y="31.4" width="10.1" height="10.3"/>
<rect x="479.7" y="39.9" width="10.1" height="10.3"/>
<rect x="479.7" y="48.4" width="10.1" height="10.3"/>
<rect x="479.7" y="56.9" width="10.1" height="10.3"/>
<rect x="479.7" y="65.4" width="10.1" height="10.3"/>
<rect x="479.7" y="73.9" width="10.1" height="10.3"/>
<rect x="479.7" y="82.4" width="10.1" height="10.3"/>
<rect x="479.7" y="90.9" width="10.1" height="10.3"/>
<rect x="479.7" y="99.4" width="10.1" height="10.3"/>
<rect x="479.7" y="107.9" width="10.1" height="10.3"/>
<rect x="479.7" y="116.4" width="10.1" height="10.3"/>
<rect x="479.7" y="124.9" width="10.1" height="10.3"/>
<rect x="479.7" y="133.4" width="10.1" height="10.3"/>
<rect x="487.0" y="31.4" width="8.4" height="10.3"/>
<rect x="487.0" y="39.9" width="8.4" height="10.3"/>
<rect x="487.0" y="48.4" width="8.4" height="10.3"/>
<rect x="487.0" y="56.9" width="8.4" height="10.3"/>
<rect x="487.0" y="65.4" width="8.4" height="10.3"/>
<rect x="487.0" y="73.9" width="8.4" height="10.3"/>
<rect x="487.0" y="82.4" width="8.4" height="10.3"/>
<rect x="487.0" y="90.9" width="8.4" height="10.3"/>
<rect x="487.0" y="99.4" width="8.4" height="10.3"/>
<rect x="487.0" y="107.9" width="8.4" height="10.3"/>
<rect x="487.0" y="116.4" width="8.4" height="10.3"/>
<rect x="487.0" y="124.9" width="8.4" height="10.3"/>
<rect x="492.6" y="31.4" width="9.0" height="10.3"/>
<rect x="492.6" y="39.9" width="9.0" height="10.3"/>
<rect x="492.6" y="48.4" width="9.0" height="10.3"/>
<rect x="492.6" y="56.9" width="9.0" height="10.3"/>
<rect x="492.6" y="65.4" width="9.0" height="10.3"/>
<rect x="492.6" y="73.9" width="9.0" height="10.3"/>
<rect x="492.6" y="82.4" width="9.0" height="10.3"/>
<rect x="492.6" y="90.9" width="9.0" height="10.3"/>
<rect x="492.6" y="99.4" width="9.0" height="10.3"/>
<rect x="492.6" y="107.9" width="9.0" height="10.3"/>
<rect x="492.6" y="116.4" width="9.0" height="10.3"/>
<rect x="492.6" y="124.9" width="9.0" height="10.3"/>
<rect x="498.8" y="31.4" width="8.7" height="10.3"/>
<rect x="498.8" y="39.9" width="8.7" height="10.3"/>
<rect x="498.8" y="48.4" width="8.7" height="10.3"/>
<rect x="498.8" y="56.9" width="8.7" height="10.3"/>
<rect x="498.8" y="65.4" width="8.7" height="10.3"/>
<rect x="498.8" y="73.9" width="8.7" height="10.3"/>
<rect x="498.8" y="82.4" width="8.7" height="10.3"/>
<rect x="498.8" y="90.9" width="8.7" height="10.3"/>
<rect x="498.8" y="99.4" width="8.7" height="10.3"/>
<rect x="498.8" y="107.9" width="8.7" height="10.3"/>
<rect x="498.8" y="116.4" width="8.7" height="10.3"/>
<rect x="498.8" y="124.9" width="8.7" height="10.3"/>
<rect x="504.7" y="31.4" width="10.4" height="10.3"/>
<rect x="504.7" y="39.9" width="10.4" height="10.3"/>
<rect x="504.7" y="48.4" width="10.4" height="10.3"/>
<rect x="504.7" y="56.9" width="10.4" height="10.3"/>
<rect x="504.7" y="65.4" width="10.4" height="10.3"/>
<rect x="504.7" y="73.9" width="10.4" height="10.3"/>
<rect x="504.7" y="82.4" width="10.4" height="10.3"/>
<rect x="504.7" y="90.9" width="10.4" height="10.3"/>
<rect x="504.7" y="99.4" width="10.4" height="10.3"/>
<rect x="504.7" y="107.9" width="10.4" height="10.3"/>
<rect x="504.7" y="116.4" width="10.4" height="10.3"/>
<rect x="504.7" y="124.9" width="10.4" height="10.3"/>
<rect x="512.3" y="31.4" width="9.7" height="10.3"/>
<rect x="512.3" y="39.9" width="9.7" height="10.3"/>
<rect x="512.3" y="48.4" width="9.7" height="10.3"/>
<rect x="512.3" y="56.9" width="9.7" height="10.3"/>
<rect x="512.3" y="65.4" width="9.7" height="10.3"/>
<rect x="512.3" y="73.9" width="9.7" height="10.3"/>
<rect x="512.3" y="82.4" width="9.7" height="10.3"/>
<rect x="512.3" y="90.9" width="9.7" height="10.3"/>
<rect x="512.3" y="99.4" width="9.7" height="10.3"/>
<rect x="512.3" y="107.9" width="9.7" height="10.3"/>
<rect x="512.3" y="116.4" width="9.7" height="10.3"/>
<rect x="512.3" y="124.9" width="9.7" height="10.3"/>
<rect x="519.2" y="31.4" width="7.8" height="10.3"/>
<rect x="519.2" y="39.9" width="7.8" height="10.3"/>
<rect x="519.2" y="48.4" width="7.8" height="10.3"/>
<rect x="519.2" y="56.9" width="7.8" height="10.3"/>
<rect x="519.2" y="65.4" width="7.8" height="10.3"/>
<rect x="519.2" y="73.9" width="7.8" height="10.3"/>
<rect x="519.2" y="82.4" width="7.8" height="10.3"/>
<rect x="519.2" y="90.9" width="7.8" height="10.3"/>
<rect x="519.2" y="99.4" width="7.8" height="10.3"/>
<rect x="519.2" y="107.9" width="7.8" height="10.3"/>
<rect x="519.2" y="116.4" width="7.8" height="10.3"/>
<rect x="524.2" y="31.4" width="9.3" height="10.3"/>
<rect x="524.2" y="39.9" width="9.3" height="10.3"/>
<rect x="524.2" y="48.4" width="9.3" height="10.3"/>
<rect x="524.2" y="56.9" width="9.3" height="10.3"/>
<rect x="524.2" y="65.4" width="9.3" height="10.3"/>
<rect x="524.2" y="73.9" width="9.3" height="10.3"/>
<rect x="524.2" y="82.4" width="9.3" height="10.3"/>
<rect x="524.2" y="90.9" width="9.3" height="10.3"/>
<rect x="524.2" y="99.4" width="9.3" height="10.3"/>
<rect x="524.2" y="107.9" width="9.3" height="10.3"/>
<rect x="524.2" y="116.4" width="9.3" height="10.3"/>
<rect x="530.7" y="31.4" width="6.8" height="10.3"/>
<rect x="530.7" y="39.9" width="6.8" height="10.3"/>
<rect x="530.7" y="48.4" width="6.8" height="10.3"/>
<rect x="530.7" y="56.9" width="6.8" height="10.3"/>
<rect x="530.7" y="65.4" width="6.8" height="10.3"/>
<rect x="530.7" y="73.9" width="6.8" height="10.3"/>
<rect x="530.7" y="82.4" width="6.8" height="10.3"/>
<rect x="530.7" y="90.9" width="6.8" height="10.3"/>
<rect x="530.7" y="99.4" width="6.8" height="10.3"/>
<rect x="530.7" y="107.9" width="6.8" height="10.3"/>
<rect x="534.7" y="31.4" width="10.7" height="10.3"/>
<rect x="534.7" y="39.9" width="10.7" height="10.3"/>
<rect x="534.7" y="48.4" width="10.7" height="10.3"/>
<rect x="534.7" y="56.9" width="10.7" height="10.3"/>
<rect x="534.7" y="65.4" width="10.7" height="10.3"/>
<rect x="534.7" y="73.9" width="10.7" height="10.3"/>
<rect x="534.7" y="82.4" width="10.7" height="10.3"/>
<rect x="534.7" y="90.9" width="10.7" height="10.3"/>
<rect x="534.7" y="99.4" width="10.7" height="10.3"/>
<rect x="534.7" y="107.9" width="10.7" height="10.3"/>
<rect x="542.6" y="31.4" width="12.2" height="10.3"/>
<rect x="542.6" y="39.9" width="12.2" height="10.3"/>
<rect x="542.6" y="48.4" width="12.2" height="10.3"/>
<rect x="542.6" y="56.9" width="12.2" height="10.3"/>
<rect x="542.6" y="65.4" width="12.2" height="10.3"/>
<rect x="542.6" y="73.9" width="12.2" height="10.3"/>
<rect x="542.6" y="82.4" width="12.2" height="10.3"/>
<rect x="542.6" y="90.9" width="12.2" height="10.3"/>
<rect x="542.6" y="99.4" width="12.2" height="10.3"/>
<rect x="552.0" y="31.4" width="10.5" height="10.3"/>
<rect x="552.0" y="39.9" width="10.5" height="10.3"/>
<rect x="552.0" y="48.4" width="10.5" height="10.3"/>
<rect x="552.0" y="56.9" width="10.5" height="10.3"/>
<rect x="552.0" y="65.4" width="10.5" height="10.3"/>
<rect x="552.0" y="73.9" width="10.5" height="10.3"/>
<rect x="552.0" y="82.4" width="10.5" height="10.3"/>
<rect x="552.0" y="90.9" width="10.5" height="10.3"/>
<rect x="552.0" y="99.4" width="10.5" height="10.3"/>
<rect x="559.7" y="31.4" width="10.1" height="10.3"/>
<rect x="559.7" y="39.9" width="10.1" height="10.3"/>
<rect x="559.7" y="48.4" width="10.1" height="10.3"/>
<rect x="559.7" y="56.9" width="10.1" height="10.3"/>
<rect x="559.7" y="65.4" width="10.1" height="10.3"/>
<rect x="559.7" y="73.9" width="10.1" height="10.3"/>
<rect x="559.7" y="82.4" width="10.1" height="10.3"/>
<rect x="559.7" y="90.9" width="10.1" height="10.3"/>
<rect x="559.7" y="99.4" width="10.1" height="10.3"/>
<rect x="567.0" y="31.4" width="15.3" height="10.3"/>
<rect x="567.0" y="39.9" width="15.3" height="10.3"/>
<rect x="567.0" y="48.4" width="15.3" height="10.3"/>
<rect x="567.0" y="56.9" width="15.3" height="10.3"/>
<rect x="567.0" y="65.4" width="15.3" height="10.3"/>
<rect x="567.0" y="73.9" width="15.3" height="10.3"/>
<rect x="567.0" y="82.4" width="15.3" height="10.3"/>
<rect x="567.0" y="90.9" width="15.3" height="10.3"/>
<rect x="45.7" y="29.4" width="7.7" height="6.0"/>
<rect x="50.6" y="29.4" width="7.0" height="6.0"/>
<rect x="50.6" y="33.6" width="7.0" height="6.0"/>
<rect x="54.8" y="29.4" width="8.9" height="6.0"/>
<rect x="54.8" y="33.6" width="8.9" height="6.0"/>
<rect x="54.8" y="37.8" width="8.9" height="6.0"/>
<rect x="60.9" y="29.4" width="9.0" height="6.0"/>
<rect x="60.9" y="33.6" width="9.0" height="6.0"/>
<rect x="60.9" y="37.8" width="9.0" height="6.0"/>
<rect x="60.9" y="42.1" width="9.0" height="6.0"/>
<rect x="67.1" y="29.4" width="9.5" height="6.0"/>
<rect x="67.1" y="33.6" width="9.5" height="6.0"/>
<rect x="67.1" y="37.8" width="9.5" height="6.0"/>
<rect x="67.1" y="42.1" width="9.5" height="6.0"/>
<rect x="67.1" y="46.3" width="9.5" height="6.0"/>
<rect x="73.8" y="29.4" width="10.7" height="6.0"/>
<rect x="73.8" y="33.6" width="10.7" height="6.0"/>
<rect x="73.8" y="37.8" width="10.7" height="6.0"/>
<rect x="73.8" y="42.1" width="10.7" height="6.0"/>
<rect x="73.8" y="46.3" width="10.7" height="6.0"/>
<rect x="73.8" y="50.6" width="10.7" height="6.0"/>
<rect x="73.8" y="54.8" width="10.7" height="6.0"/>
<rect x="73.8" y="59.1" width="10.7" height="6.0"/>
<rect x="579.5" y="29.4" width="11.9" height="6.0"/>
<rect x="579.5" y="33.6" width="11.9" height="6.0"/>
<rect x="579.5" y="37.8" width="11.9" height="6.0"/>
<rect x="579.5" y="42.1" width="11.9" height="6.0"/>
<rect x="579.5" y="46.3" width="11.9" height="6.0"/>
<rect x="579.5" y="50.6" width="11.9" height="6.0"/>
<rect x="579.5" y="54.8" width="11.9" height="6.0"/>
<rect x="579.5" y="59.1" width="11.9" height="6.0"/>
<rect x="579.5" y="63.3" width="11.9" height="6.0"/>
<rect x="579.5" y="67.6" width="11.9" height="6.0"/>
<rect x="579.5" y="71.8" width="11.9" height="6.0"/>
<rect x="579.5" y="76.1" width="11.9" height="6.0"/>
<rect x="579.5" y="80.3" width="11.9" height="6.0"/>
<rect x="579.5" y="84.6" width="11.9" height="6.0"/>
<rect x="579.5" y="88.8" width="11.9" height="6.0"/>
<rect x="579.5" y="93.1" width="11.9" height="6.0"/>
<rect x="579.5" y="97.3" width="11.9" height="6.0"/>
<rect x="588.6" y="29.4" width="8.8" height="6.0"/>
<rect x="588.6" y="33.6" width="8.8" height="6.0"/>
<rect x="588.6" y="37.8" width="8.8" height="6.0"/>
<rect x="588.6" y="42.1" width="8.8" height="6.0"/>
<rect x="588.6" y="46.3" width="8.8" height="6.0"/>
<rect x="588.6" y="50.6" width="8.8" height="6.0"/>
<rect x="588.6" y="54.8" width="8.8" height="6.0"/>
<rect x="588.6" y="59.1" width="8.8" height="6.0"/>
<rect x="588.6" y="63.3" width="8.8" height="6.0"/>
<rect x="588.6" y="67.6" width="8.8" height="6.0"/>
<rect x="588.6" y="71.8" width="8.8" height="6.0"/>
<rect x="588.6" y="76.1" width="8.8" height="6.0"/>
<rect x="588.6" y="80.3" width="8.8" height="6.0"/>
<rect x="588.6" y="84.6" width="8.8" height="6.0"/>
<rect x="588.6" y="88.8" width="8.8" height="6.0"/>
<rect x="594.6" y="29.4" width="11.6" height="6.0"/>
<rect x="594.6" y="33.6" width="11.6" height="6.0"/>
<rect x="594.6" y="37.8" width="11.6" height="6.0"/>
<rect x="594.6" y="42.1" width="11.6" height="6.0"/>
<rect x="594.6" y="46.3" width="11.6" height="6.0"/>
<rect x="594.6" y="50.6" width="11.6" height="6.0"/>
<rect x="594.6" y="54.8" width="11.6" height="6.0"/>
<rect x="594.6" y="59.1" width="11.6" height="6.0"/>
<rect x="594.6" y="63.3" width="11.6" height="6.0"/>
<rect x="594.6" y="67.6" width="11.6" height="6.0"/>
<rect x="594.6" y="71.8" width="11.6" height="6.0"/>
<rect x="594.6" y="76.1" width="11.6" height="6.0"/>
<rect x="594.6" y="80.3" width="11.6" height="6.0"/>
<rect x="603.4" y="29.4" width="15.4" height="6.0"/>
<rect x="603.4" y="33.6" width="15.4" height="6.0"/>
<rect x="603.4" y="37.8" width="15.4" height="6.0"/>
<rect x="603.4" y="42.1" width="15.4" height="6.0"/>
<rect x="603.4" y="46.3" width="15.4" height="6.0"/>
<rect x="603.4" y="50.6" width="15.4" height="6.0"/>
<rect x="603.4" y="54.8" width="15.4" height="6.0"/>
<rect x="603.4" y="59.1" width="15.4" height="6.0"/>
<rect x="603.4" y="63.3" width="15.4" height="6.0"/>
<rect x="603.4" y="67.6" width="15.4" height="6.0"/>
<rect x="616.0" y="29.4" width="15.6" height="6.0"/>
<rect x="616.0" y="33.6" width="15.6" height="6.0"/>
<rect x="616.0" y="37.8" width="15.6" height="6.0"/>
<rect x="616.0" y="42.1" width="15.6" height="6.0"/>
<rect x="616.0" y="46.3" width="15.6" height="6.0"/>
<rect x="616.0" y="50.6" width="15.6" height="6.0"/>
<rect x="628.8" y="24.8" width="13.0" height="20.9"/>
<rect x="639.0" y="24.8" width="11.5" height="9.2"/>
</g>
<g shape-rendering="crispEdges">
<rect x="83.1" y="31.6" width="8.3" height="8.8" fill="#0040c8"/>
<rect x="83.1" y="40.1" width="8.3" height="8.8" fill="#45009a"/>
<rect x="83.1" y="48.6" width="8.3" height="8.8" fill="#ff00ff"/>
<rect x="83.1" y="57.1" width="8.3" height="8.8" fill="#ff00ff"/>
<rect x="91.1" y="31.6" width="8.9" height="8.8" fill="#0040c8"/>
<rect x="91.1" y="40.1" width="8.9" height="8.8" fill="#000c8c"/>
<rect x="91.1" y="48.6" width="8.9" height="8.8" fill="#45009a"/>
<rect x="91.1" y="57.1" width="8.9" height="8.8" fill="#0040c8"/>
<rect x="99.7" y="31.6" width="8.0" height="8.8" fill="#0040c8"/>
<rect x="99.7" y="40.1" width="8.0" height="8.8" fill="#0078f0"/>
<rect x="99.7" y="48.6" width="8.0" height="8.8" fill="#000c8c"/>
<rect x="99.7" y="57.1" width="8.0" height="8.8" fill="#45009a"/>
<rect x="99.7" y="65.6" width="8.0" height="8.8" fill="#40bac6"/>
<rect x="107.4" y="31.6" width="9.4" height="8.8" fill="#0078f0"/>
<rect x="107.4" y="40.1" width="9.4" height="8.8" fill="#40bac6"/>
<rect x="107.4" y="48.6" width="9.4" height="8.8" fill="#45009a"/>
<rect x="107.4" y="57.1" width="9.4" height="8.8" fill="#45009a"/>
<rect x="107.4" y="65.6" width="9.4" height="8.8" fill="#45009a"/>
<rect x="107.4" y="74.1" width="9.4" height="8.8" fill="#000c8c"/>
<rect x="107.4" y="82.6" width="9.4" height="8.8" fill="#8c00c8"/>
<rect x="116.5" y="31.6" width="6.6" height="8.8" fill="#0078f0"/>
<rect x="116.5" y="40.1" width="6.6" height="8.8" fill="#f8f800"/>
<rect x="116.5" y="48.6" width="6.6" height="8.8" fill="#0040c8"/>
<rect x="116.5" y="57.1" width="6.6" height="8.8" fill="#0078f0"/>
<rect x="116.5" y="65.6" width="6.6" height="8.8" fill="#0078f0"/>
<rect x="116.5" y="74.1" width="6.6" height="8.8" fill="#000c8c"/>
<rect x="116.5" y="82.6" width="6.6" height="8.8" fill="#0040c8"/>
<rect x="116.5" y="91.1" width="6.6" height="8.8" fill="#0040c8"/>
<rect x="122.8" y="31.6" width="7.5" height="8.8" fill="#2094e4"/>
<rect x="122.8" y="40.1" width="7.5" height="8.8" fill="#56d8aa"/>
<rect x="122.8" y="48.6" width="7.5" height="8.8" fill="#0078f0"/>
<rect x="122.8" y="57.1" width="7.5" height="8.8" fill="#2094e4"/>
<rect x="122.8" y="65.6" width="7.5" height="8.8" fill="#40bac6"/>
<rect x="122.8" y="74.1" width="7.5" height="8.8" fill="#0078f0"/>
<rect x="122.8" y="82.6" width="7.5" height="8.8" fill="#84f884"/>
<rect x="122.8" y="91.1" width="7.5" height="8.8" fill="#84f884"/>
<rect x="130.0" y="31.6" width="8.1" height="8.8" fill="#2094e4"/>
<rect x="130.0" y="40.1" width="8.1" height="8.8" fill="#2094e4"/>
<rect x="130.0" y="48.6" width="8.1" height="8.8" fill="#40bac6"/>
<rect x="130.0" y="57.1" width="8.1" height="8.8" fill="#bef842"/>
<rect x="130.0" y="65.6" width="8.1" height="8.8" fill="#0078f0"/>
<rect x="130.0" y="74.1" width="8.1" height="8.8" fill="#bef842"/>
<rect x="130.0" y="82.6" width="8.1" height="8.8" fill="#bef842"/>
<rect x="130.0" y="91.1" width="8.1" height="8.8" fill="#84f884"/>
<rect x="130.0" y="99.6" width="8.1" height="8.8" fill="#0078f0"/>
<rect x="137.8" y="31.6" width="7.5" height="8.8" fill="#2094e4"/>
<rect x="137.8" y="40.1" width="7.5" height="8.8" fill="#2094e4"/>
<rect x="137.8" y="48.6" width="7.5" height="8.8" fill="#40bac6"/>
<rect x="137.8" y="57.1" width="7.5" height="8.8" fill="#2094e4"/>
<rect x="137.8" y="65.6" width="7.5" height="8.8" fill="#2094e4"/>
<rect x="137.8" y="74.1" width="7.5" height="8.8" fill="#56d8aa"/>
<rect x="137.8" y="82.6" width="7.5" height="8.8" fill="#84f884"/>
<rect x="137.8" y="91.1" width="7.5" height="8.8" fill="#0078f0"/>
<rect x="137.8" y="99.6" width="7.5" height="8.8" fill="#000c8c"/>
<rect x="145.0" y="31.6" width="10.6" height="8.8" fill="#2094e4"/>
<rect x="145.0" y="40.1" width="10.6" height="8.8" fill="#40bac6"/>
<rect x="145.0" y="48.6" width="10.6" height="8.8" fill="#bef842"/>
<rect x="145.0" y="57.1" width="10.6" height="8.8" fill="#40bac6"/>
<rect x="145.0" y="65.6" width="10.6" height="8.8" fill="#84f884"/>
<rect x="145.0" y="74.1" width="10.6" height="8.8" fill="#56d8aa"/>
<rect x="145.0" y="82.6" width="10.6" height="8.8" fill="#56d8aa"/>
<rect x="145.0" y="91.1" width="10.6" height="8.8" fill="#bef842"/>
<rect x="145.0" y="99.6" width="10.6" height="8.8" fill="#40bac6"/>
<rect x="155.3" y="31.6" width="5.8" height="8.8" fill="#40bac6"/>
<rect x="155.3" y="40.1" width="5.8" height="8.8" fill="#2094e4"/>
<rect x="155.3" y="48.6" width="5.8" height="8.8" fill="#40bac6"/>
<rect x="155.3" y="57.1" width="5.8" height="8.8" fill="#0078f0"/>
<rect x="155.3" y="65.6" width="5.8" height="8.8" fill="#84f884"/>
<rect x="155.3" y="74.1" width="5.8" height="8.8" fill="#bef842"/>
<rect x="155.3" y="82.6" width="5.8" height="8.8" fill="#56d8aa"/>
<rect x="155.3" y="91.1" width="5.8" height="8.8" fill="#0040c8"/>
<rect x="155.3" y="99.6" width="5.8" height="8.8" fill="#56d8aa"/>
<rect x="155.3" y="108.1" width="5.8" height="8.8" fill="#0040c8"/>
<rect x="160.8" y="31.6" width="7.5" height="8.8" fill="#56d8aa"/>
<rect x="160.8" y="40.1" width="7.5" height="8.8" fill="#56d8aa"/>
<rect x="160.8" y="48.6" width="7.5" height="8.8" fill="#bef842"/>
<rect x="160.8" y="57.1" width="7.5" height="8.8" fill="#0040c8"/>
<rect x="160.8" y="65.6" width="7.5" height="8.8" fill="#2094e4"/>
<rect x="160.8" y="74.1" width="7.5" height="8.8" fill="#bef842"/>
<rect x="160.8" y="82.6" width="7.5" height="8.8" fill="#bef842"/>
<rect x="160.8" y="91.1" width="7.5" height="8.8" fill="#bef842"/>
<rect x="160.8" y="99.6" width="7.5" height="8.8" fill="#56d8aa"/>
<rect x="160.8" y="108.1" width="7.5" height="8.8" fill="#0078f0"/>
<rect x="168.0" y="31.6" width="6.3" height="8.8" fill="#bef842"/>
<rect x="168.0" y="40.1" width="6.3" height="8.8" fill="#84f884"/>
<rect x="168.0" y="48.6" width="6.3" height="8.8" fill="#bef842"/>
<rect x="168.0" y="57.1" width="6.3" height="8.8" fill="#f8f800"/>
<rect x="168.0" y="65.6" width="6.3" height="8.8" fill="#56d8aa"/>
<rect x="168.0" y="74.1" width="6.3" height="8.8" fill="#56d8aa"/>
<rect x="168.0" y="82.6" width="6.3" height="8.8" fill="#40bac6"/>
<rect x="168.0" y="91.1" width="6.3" height="8.8" fill="#56d8aa"/>
<rect x="168.0" y="99.6" width="6.3" height="8.8" fill="#0078f0"/>
<rect x="168.0" y="108.1" width="6.3" height="8.8" fill="#56d8aa"/>
<rect x="168.0" y="116.6" width="6.3" height="8.8" fill="#56d8aa"/>
<rect x="174.0" y="31.6" width="3.9" height="8.8" fill="#ffb400"/>
<rect x="174.0" y="40.1" width="3.9" height="8.8" fill="#84f884"/>
<rect x="174.0" y="48.6" width="3.9" height="8.8" fill="#bef842"/>
<rect x="174.0" y="57.1" width="3.9" height="8.8" fill="#bef842"/>
<rect x="174.0" y="65.6" width="3.9" height="8.8" fill="#bef842"/>
<rect x="174.0" y="74.1" width="3.9" height="8.8" fill="#2094e4"/>
<rect x="174.0" y="82.6" width="3.9" height="8.8" fill="#40bac6"/>
<rect x="174.0" y="91.1" width="3.9" height="8.8" fill="#56d8aa"/>
<rect x="174.0" y="99.6" width="3.9" height="8.8" fill="#bef842"/>
<rect x="174.0" y="108.1" width="3.9" height="8.8" fill="#56d8aa"/>
<rect x="174.0" y="116.6" width="3.9" height="8.8" fill="#2094e4"/>
<rect x="177.6" y="31.6" width="7.5" height="8.8" fill="#2094e4"/>
<rect x="177.6" y="40.1" width="7.5" height="8.8" fill="#bef842"/>
<rect x="177.6" y="48.6" width="7.5" height="8.8" fill="#56d8aa"/>
<rect x="177.6" y="57.1" width="7.5" height="8.8" fill="#56d8aa"/>
<rect x="177.6" y="65.6" width="7.5" height="8.8" fill="#84f884"/>
<rect x="177.6" y="74.1" width="7.5" height="8.8" fill="#f8f800"/>
<rect x="177.6" y="82.6" width="7.5" height="8.8" fill="#40bac6"/>
<rect x="177.6" y="91.1" width="7.5" height="8.8" fill="#84f884"/>
<rect x="177.6" y="99.6" width="7.5" height="8.8" fill="#84f884"/>
<rect x="177.6" y="108.1" width="7.5" height="8.8" fill="#40bac6"/>
<rect x="177.6" y="116.6" width="7.5" height="8.8" fill="#56d8aa"/>
<rect x="184.8" y="31.6" width="8.9" height="8.8" fill="#84f884"/>
<rect x="184.8" y="40.1" width="8.9" height="8.8" fill="#ffb400"/>
<rect x="184.8" y="48.6" width="8.9" height="8.8" fill="#f8f800"/>
<rect x="184.8" y="57.1" width="8.9" height="8.8" fill="#bef842"/>
<rect x="184.8" y="65.6" width="8.9" height="8.8" fill="#ffb400"/>
<rect x="184.8" y="74.1" width="8.9" height="8.8" fill="#84f884"/>
<rect x="184.8" y="82.6" width="8.9" height="8.8" fill="#84f884"/>
<rect x="184.8" y="91.1" width="8.9" height="8.8" fill="#2094e4"/>
<rect x="184.8" y="99.6" width="8.9" height="8.8" fill="#000c8c"/>
<rect x="184.8" y="108.1" width="8.9" height="8.8" fill="#2094e4"/>
<rect x="184.8" y="116.6" width="8.9" height="8.8" fill="#0040c8"/>
<rect x="184.8" y="125.1" width="8.9" height="8.8" fill="#0040c8"/>
<rect x="193.4" y="31.6" width="4.9" height="8.8" fill="#ffb400"/>
<rect x="193.4" y="40.1" width="4.9" height="8.8" fill="#56d8aa"/>
<rect x="193.4" y="48.6" width="4.9" height="8.8" fill="#bef842"/>
<rect x="193.4" y="57.1" width="4.9" height="8.8" fill="#bef842"/>
<rect x="193.4" y="65.6" width="4.9" height="8.8" fill="#f8f800"/>
<rect x="193.4" y="74.1" width="4.9" height="8.8" fill="#56d8aa"/>
<rect x="193.4" y="82.6" width="4.9" height="8.8" fill="#40bac6"/>
<rect x="193.4" y="91.1" width="4.9" height="8.8" fill="#bef842"/>
<rect x="193.4" y="99.6" width="4.9" height="8.8" fill="#ff7800"/>
<rect x="193.4" y="108.1" width="4.9" height="8.8" fill="#84f884"/>
<rect x="193.4" y="116.6" width="4.9" height="8.8" fill="#56d8aa"/>
<rect x="198.0" y="31.6" width="9.5" height="8.8" fill="#40bac6"/>
<rect x="198.0" y="40.1" width="9.5" height="8.8" fill="#40bac6"/>
<rect x="198.0" y="48.6" width="9.5" height="8.8" fill="#40bac6"/>
<rect x="198.0" y="57.1" width="9.5" height="8.8" fill="#40bac6"/>
<rect x="198.0" y="65.6" width="9.5" height="8.8" fill="#bef842"/>
<rect x="198.0" y="74.1" width="9.5" height="8.8" fill="#84f884"/>
<rect x="198.0" y="82.6" width="9.5" height="8.8" fill="#bef842"/>
<rect x="198.0" y="91.1" width="9.5" height="8.8" fill="#bef842"/>
<rect x="198.0" y="99.6" width="9.5" height="8.8" fill="#84f884"/>
<rect x="198.0" y="108.1" width="9.5" height="8.8" fill="#bef842"/>
<rect x="198.0" y="116.6" width="9.5" height="8.8" fill="#2094e4"/>
<rect x="207.2" y="31.6" width="10.1" height="8.8" fill="#f8f800"/>
<rect x="207.2" y="40.1" width="10.1" height="8.8" fill="#bef842"/>
<rect x="207.2" y="48.6" width="10.1" height="8.8" fill="#bef842"/>
<rect x="207.2" y="57.1" width="10.1" height="8.8" fill="#f8f800"/>
<rect x="207.2" y="65.6" width="10.1" height="8.8" fill="#bef842"/>
<rect x="207.2" y="74.1" width="10.1" height="8.8" fill="#bef842"/>
<rect x="207.2" y="82.6" width="10.1" height="8.8" fill="#bef842"/>
<rect x="207.2" y="91.1" width="10.1" height="8.8" fill="#bef842"/>
<rect x="207.2" y="99.6" width="10.1" height="8.8" fill="#84f884"/>
<rect x="207.2" y="108.1" width="10.1" height="8.8" fill="#bef842"/>
<rect x="217.0" y="31.6" width="6.2" height="8.8" fill="#56d8aa"/>
<rect x="217.0" y="40.1" width="6.2" height="8.8" fill="#84f884"/>
<rect x="217.0" y="48.6" width="6.2" height="8.8" fill="#bef842"/>
<rect x="217.0" y="57.1" width="6.2" height="8.8" fill="#bef842"/>
<rect x="217.0" y="65.6" width="6.2" height="8.8" fill="#bef842"/>
<rect x="217.0" y="74.1" width="6.2" height="8.8" fill="#f8f800"/>
<rect x="217.0" y="82.6" width="6.2" height="8.8" fill="#bef842"/>
<rect x="217.0" y="91.1" width="6.2" height="8.8" fill="#bef842"/>
<rect x="217.0" y="99.6" width="6.2" height="8.8" fill="#f8f800"/>
<rect x="217.0" y="108.1" width="6.2" height="8.8" fill="#bef842"/>
<rect x="217.0" y="116.6" width="6.2" height="8.8" fill="#0078f0"/>
<rect x="222.9" y="31.6" width="10.4" height="8.8" fill="#40bac6"/>
<rect x="222.9" y="40.1" width="10.4" height="8.8" fill="#0078f0"/>
<rect x="222.9" y="48.6" width="10.4" height="8.8" fill="#56d8aa"/>
<rect x="222.9" y="57.1" width="10.4" height="8.8" fill="#84f884"/>
<rect x="222.9" y="65.6" width="10.4" height="8.8" fill="#84f884"/>
<rect x="222.9" y="74.1" width="10.4" height="8.8" fill="#bef842"/>
<rect x="222.9" y="82.6" width="10.4" height="8.8" fill="#ffb400"/>
<rect x="222.9" y="91.1" width="10.4" height="8.8" fill="#f8f800"/>
<rect x="222.9" y="99.6" width="10.4" height="8.8" fill="#84f884"/>
<rect x="222.9" y="108.1" width="10.4" height="8.8" fill="#f8f800"/>
<rect x="222.9" y="116.6" width="10.4" height="8.8" fill="#56d8aa"/>
<rect x="222.9" y="125.1" width="10.4" height="8.8" fill="#56d8aa"/>
<rect x="233.0" y="31.6" width="5.2" height="8.8" fill="#84f884"/>
<rect x="233.0" y="40.1" width="5.2" height="8.8" fill="#40bac6"/>
<rect x="233.0" y="48.6" width="5.2" height="8.8" fill="#f8f800"/>
<rect x="233.0" y="57.1" width="5.2" height="8.8" fill="#40bac6"/>
<rect x="233.0" y="65.6" width="5.2" height="8.8" fill="#84f884"/>
<rect x="233.0" y="74.1" width="5.2" height="8.8" fill="#84f884"/>
<rect x="233.0" y="82.6" width="5.2" height="8.8" fill="#40bac6"/>
<rect x="233.0" y="91.1" width="5.2" height="8.8" fill="#84f884"/>
<rect x="233.0" y="99.6" width="5.2" height="8.8" fill="#f8f800"/>
<rect x="233.0" y="108.1" width="5.2" height="8.8" fill="#40bac6"/>
<rect x="233.0" y="116.6" width="5.2" height="8.8" fill="#0040c8"/>
<rect x="233.0" y="125.1" width="5.2" height="8.8" fill="#000c8c"/>
<rect x="237.9" y="31.6" width="7.5" height="8.8" fill="#84f884"/>
<rect x="237.9" y="40.1" width="7.5" height="8.8" fill="#bef842"/>
<rect x="237.9" y="48.6" width="7.5" height="8.8" fill="#bef842"/>
<rect x="237.9" y="57.1" width="7.5" height="8.8" fill="#ffb400"/>
<rect x="237.9" y="65.6" width="7.5" height="8.8" fill="#f8f800"/>
<rect x="237.9" y="74.1" width="7.5" height="8.8" fill="#56d8aa"/>
<rect x="237.9" y="82.6" width="7.5" height="8.8" fill="#56d8aa"/>
<rect x="237.9" y="91.1" width="7.5" height="8.8" fill="#bef842"/>
<rect x="237.9" y="99.6" width="7.5" height="8.8" fill="#40bac6"/>
<rect x="237.9" y="108.1" width="7.5" height="8.8" fill="#56d8aa"/>
<rect x="237.9" y="116.6" width="7.5" height="8.8" fill="#40bac6"/>
<rect x="237.9" y="125.1" width="7.5" height="8.8" fill="#2094e4"/>
<rect x="237.9" y="133.6" width="7.5" height="8.8" fill="#0040c8"/>
<rect x="245.1" y="31.6" width="6.2" height="8.8" fill="#ff7800"/>
<rect x="245.1" y="40.1" width="6.2" height="8.8" fill="#84f884"/>
<rect x="245.1" y="48.6" width="6.2" height="8.8" fill="#ffb400"/>
<rect x="245.1" y="57.1" width="6.2" height="8.8" fill="#ff7800"/>
<rect x="245.1" y="65.6" width="6.2" height="8.8" fill="#ff1800"/>
<rect x="245.1" y="74.1" width="6.2" height="8.8" fill="#ff1800"/>
<rect x="245.1" y="82.6" width="6.2" height="8.8" fill="#f8f800"/>
<rect x="245.1" y="91.1" width="6.2" height="8.8" fill="#bef842"/>
<rect x="245.1" y="99.6" width="6.2" height="8.8" fill="#56d8aa"/>
<rect x="245.1" y="108.1" width="6.2" height="8.8" fill="#84f884"/>
<rect x="245.1" y="116.6" width="6.2" height="8.8" fill="#40bac6"/>
<rect x="245.1" y="125.1" width="6.2" height="8.8" fill="#2094e4"/>
<rect x="245.1" y="133.6" width="6.2" height="8.8" fill="#0078f0"/>
<rect x="251.0" y="31.6" width="9.3" height="8.8" fill="#2094e4"/>
<rect x="251.0" y="40.1" width="9.3" height="8.8" fill="#56d8aa"/>
<rect x="251.0" y="48.6" width="9.3" height="8.8" fill="#bef842"/>
<rect x="251.0" y="57.1" width="9.3" height="8.8" fill="#bef842"/>
<rect x="251.0" y="65.6" width="9.3" height="8.8" fill="#bef842"/>
<rect x="251.0" y="74.1" width="9.3" height="8.8" fill="#40bac6"/>
<rect x="251.0" y="82.6" width="9.3" height="8.8" fill="#40bac6"/>
<rect x="251.0" y="91.1" width="9.3" height="8.8" fill="#40bac6"/>
<rect x="251.0" y="99.6" width="9.3" height="8.8" fill="#56d8aa"/>
<rect x="251.0" y="108.1" width="9.3" height="8.8" fill="#0078f0"/>
<rect x="251.0" y="116.6" width="9.3" height="8.8" fill="#40bac6"/>
<rect x="251.0" y="125.1" width="9.3" height="8.8" fill="#bef842"/>
<rect x="251.0" y="133.6" width="9.3" height="8.8" fill="#0040c8"/>
<rect x="260.0" y="31.6" width="6.4" height="8.8" fill="#84f884"/>
<rect x="260.0" y="40.1" width="6.4" height="8.8" fill="#f8f800"/>
<rect x="260.0" y="48.6" width="6.4" height="8.8" fill="#ffb400"/>
<rect x="260.0" y="57.1" width="6.4" height="8.8" fill="#f8f800"/>
<rect x="260.0" y="65.6" width="6.4" height="8.8" fill="#bef842"/>
<rect x="260.0" y="74.1" width="6.4" height="8.8" fill="#84f884"/>
<rect x="260.0" y="82.6" width="6.4" height="8.8" fill="#84f884"/>
<rect x="260.0" y="91.1" width="6.4" height="8.8" fill="#2094e4"/>
<rect x="260.0" y="99.6" width="6.4" height="8.8" fill="#56d8aa"/>
<rect x="260.0" y="108.1" width="6.4" height="8.8" fill="#0040c8"/>
<rect x="260.0" y="116.6" width="6.4" height="8.8" fill="#84f884"/>
<rect x="260.0" y="125.1" width="6.4" height="8.8" fill="#84f884"/>
<rect x="260.0" y="133.6" width="6.4" height="8.8" fill="#40bac6"/>
<rect x="266.1" y="31.6" width="6.2" height="8.8" fill="#bef842"/>
<rect x="266.1" y="40.1" width="6.2" height="8.8" fill="#84f884"/>
<rect x="266.1" y="48.6" width="6.2" height="8.8" fill="#bef842"/>
<rect x="266.1" y="57.1" width="6.2" height="8.8" fill="#56d8aa"/>
<rect x="266.1" y="65.6" width="6.2" height="8.8" fill="#bef842"/>
<rect x="266.1" y="74.1" width="6.2" height="8.8" fill="#84f884"/>
<rect x="266.1" y="82.6" width="6.2" height="8.8" fill="#40bac6"/>
<rect x="266.1" y="91.1" width="6.2" height="8.8" fill="#84f884"/>
<rect x="266.1" y="99.6" width="6.2" height="8.8" fill="#0040c8"/>
<rect x="266.1" y="108.1" width="6.2" height="8.8" fill="#2094e4"/>
<rect x="266.1" y="116.6" width="6.2" height="8.8" fill="#2094e4"/>
<rect x="266.1" y="125.1" width="6.2" height="8.8" fill="#0040c8"/>
<rect x="272.0" y="31.6" width="6.3" height="8.8" fill="#56d8aa"/>
<rect x="272.0" y="40.1" width="6.3" height="8.8" fill="#bef842"/>
<rect x="272.0" y="48.6" width="6.3" height="8.8" fill="#ffb400"/>
<rect x="272.0" y="57.1" width="6.3" height="8.8" fill="#ff1800"/>
<rect x="272.0" y="65.6" width="6.3" height="8.8" fill="#bef842"/>
<rect x="272.0" y="74.1" width="6.3" height="8.8" fill="#56d8aa"/>
<rect x="272.0" y="82.6" width="6.3" height="8.8" fill="#84f884"/>
<rect x="272.0" y="91.1" width="6.3" height="8.8" fill="#bef842"/>
<rect x="272.0" y="99.6" width="6.3" height="8.8" fill="#40bac6"/>
<rect x="272.0" y="108.1" width="6.3" height="8.8" fill="#56d8aa"/>
<rect x="272.0" y="116.6" width="6.3" height="8.8" fill="#0040c8"/>
<rect x="272.0" y="125.1" width="6.3" height="8.8" fill="#000c8c"/>
<rect x="272.0" y="133.6" width="6.3" height="8.8" fill="#0078f0"/>
<rect x="278.0" y="31.6" width="6.8" height="8.8" fill="#bef842"/>
<rect x="278.0" y="40.1" width="6.8" height="8.8" fill="#0078f0"/>
<rect x="278.0" y="48.6" width="6.8" height="8.8" fill="#0078f0"/>
<rect x="278.0" y="57.1" width="6.8" height="8.8" fill="#0078f0"/>
<rect x="278.0" y="65.6" width="6.8" height="8.8" fill="#2094e4"/>
<rect x="278.0" y="74.1" width="6.8" height="8.8" fill="#45009a"/>
<rect x="278.0" y="82.6" width="6.8" height="8.8" fill="#45009a"/>
<rect x="278.0" y="91.1" width="6.8" height="8.8" fill="#40bac6"/>
<rect x="278.0" y="99.6" width="6.8" height="8.8" fill="#2094e4"/>
<rect x="278.0" y="108.1" width="6.8" height="8.8" fill="#56d8aa"/>
<rect x="278.0" y="116.6" width="6.8" height="8.8" fill="#8c00c8"/>
<rect x="278.0" y="125.1" width="6.8" height="8.8" fill="#0078f0"/>
<rect x="278.0" y="133.6" width="6.8" height="8.8" fill="#56d8aa"/>
<rect x="284.5" y="31.6" width="4.7" height="8.8" fill="#84f884"/>
<rect x="284.5" y="40.1" width="4.7" height="8.8" fill="#84f884"/>
<rect x="284.5" y="48.6" width="4.7" height="8.8" fill="#40bac6"/>
<rect x="284.5" y="57.1" width="4.7" height="8.8" fill="#84f884"/>
<rect x="284.5" y="65.6" width="4.7" height="8.8" fill="#40bac6"/>
<rect x="284.5" y="74.1" width="4.7" height="8.8" fill="#56d8aa"/>
<rect x="284.5" y="82.6" width="4.7" height="8.8" fill="#84f884"/>
<rect x="284.5" y="91.1" width="4.7" height="8.8" fill="#2094e4"/>
<rect x="284.5" y="99.6" width="4.7" height="8.8" fill="#84f884"/>
<rect x="284.5" y="108.1" width="4.7" height="8.8" fill="#2094e4"/>
<rect x="284.5" y="116.6" width="4.7" height="8.8" fill="#2094e4"/>
<rect x="284.5" y="125.1" width="4.7" height="8.8" fill="#0078f0"/>
<rect x="284.5" y="133.6" width="4.7" height="8.8" fill="#0078f0"/>
<rect x="284.5" y="142.1" width="4.7" height="8.8" fill="#56d8aa"/>
<rect x="288.9" y="31.6" width="9.7" height="8.8" fill="#ffb400"/>
<rect x="288.9" y="40.1" width="9.7" height="8.8" fill="#56d8aa"/>
<rect x="288.9" y="48.6" width="9.7" height="8.8" fill="#2094e4"/>
<rect x="288.9" y="57.1" width="9.7" height="8.8" fill="#2094e4"/>
<rect x="288.9" y="65.6" width="9.7" height="8.8" fill="#2094e4"/>
<rect x="288.9" y="74.1" width="9.7" height="8.8" fill="#0078f0"/>
<rect x="288.9" y="82.6" width="9.7" height="8.8" fill="#56d8aa"/>
<rect x="288.9" y="91.1" width="9.7" height="8.8" fill="#56d8aa"/>
<rect x="288.9" y="99.6" width="9.7" height="8.8" fill="#0078f0"/>
<rect x="288.9" y="108.1" width="9.7" height="8.8" fill="#0040c8"/>
<rect x="288.9" y="116.6" width="9.7" height="8.8" fill="#40bac6"/>
<rect x="288.9" y="125.1" width="9.7" height="8.8" fill="#0040c8"/>
<rect x="288.9" y="133.6" width="9.7" height="8.8" fill="#0040c8"/>
<rect x="298.3" y="31.6" width="5.3" height="8.8" fill="#ffb400"/>
<rect x="298.3" y="40.1" width="5.3" height="8.8" fill="#f8f800"/>
<rect x="298.3" y="48.6" width="5.3" height="8.8" fill="#84f884"/>
<rect x="298.3" y="57.1" width="5.3" height="8.8" fill="#ffb400"/>
<rect x="298.3" y="65.6" width="5.3" height="8.8" fill="#84f884"/>
<rect x="298.3" y="74.1" width="5.3" height="8.8" fill="#f8f800"/>
<rect x="298.3" y="82.6" width="5.3" height="8.8" fill="#f8f800"/>
<rect x="298.3" y="91.1" width="5.3" height="8.8" fill="#84f884"/>
<rect x="298.3" y="99.6" width="5.3" height="8.8" fill="#0078f0"/>
<rect x="298.3" y="108.1" width="5.3" height="8.8" fill="#40bac6"/>
<rect x="298.3" y="116.6" width="5.3" height="8.8" fill="#56d8aa"/>
<rect x="298.3" y="125.1" width="5.3" height="8.8" fill="#56d8aa"/>
<rect x="298.3" y="133.6" width="5.3" height="8.8" fill="#2094e4"/>
<rect x="303.3" y="31.6" width="13.1" height="8.8" fill="#84f884"/>
<rect x="303.3" y="40.1" width="13.1" height="8.8" fill="#2094e4"/>
<rect x="303.3" y="48.6" width="13.1" height="8.8" fill="#40bac6"/>
<rect x="303.3" y="57.1" width="13.1" height="8.8" fill="#40bac6"/>
<rect x="303.3" y="65.6" width="13.1" height="8.8" fill="#0040c8"/>
<rect x="303.3" y="74.1" width="13.1" height="8.8" fill="#2094e4"/>
<rect x="303.3" y="82.6" width="13.1" height="8.8" fill="#0040c8"/>
<rect x="303.3" y="91.1" width="13.1" height="8.8" fill="#0040c8"/>
<rect x="303.3" y="99.6" width="13.1" height="8.8" fill="#0040c8"/>
<rect x="303.3" y="108.1" width="13.1" height="8.8" fill="#0040c8"/>
<rect x="303.3" y="116.6" width="13.1" height="8.8" fill="#2094e4"/>
<rect x="303.3" y="125.1" width="13.1" height="8.8" fill="#ff00ff"/>
<rect x="303.3" y="133.6" width="13.1" height="8.8" fill="#0040c8"/>
<rect x="316.1" y="31.6" width="12.6" height="8.8" fill="#000c8c"/>
<rect x="316.1" y="40.1" width="12.6" height="8.8" fill="#40bac6"/>
<rect x="316.1" y="48.6" width="12.6" height="8.8" fill="#0078f0"/>
<rect x="316.1" y="57.1" width="12.6" height="8.8" fill="#84f884"/>
<rect x="316.1" y="65.6" width="12.6" height="8.8" fill="#56d8aa"/>
<rect x="316.1" y="74.1" width="12.6" height="8.8" fill="#56d8aa"/>
<rect x="316.1" y="82.6" width="12.6" height="8.8" fill="#56d8aa"/>
<rect x="316.1" y="91.1" width="12.6" height="8.8" fill="#0078f0"/>
<rect x="316.1" y="99.6" width="12.6" height="8.8" fill="#2094e4"/>
<rect x="316.1" y="108.1" width="12.6" height="8.8" fill="#56d8aa"/>
<rect x="316.1" y="116.6" width="12.6" height="8.8" fill="#2094e4"/>
<rect x="316.1" y="125.1" width="12.6" height="8.8" fill="#0078f0"/>
<rect x="316.1" y="133.6" width="12.6" height="8.8" fill="#0040c8"/>
<rect x="328.4" y="31.6" width="6.2" height="8.8" fill="#f8f800"/>
<rect x="328.4" y="40.1" width="6.2" height="8.8" fill="#bef842"/>
<rect x="328.4" y="48.6" width="6.2" height="8.8" fill="#bef842"/>
<rect x="328.4" y="57.1" width="6.2" height="8.8" fill="#56d8aa"/>
<rect x="328.4" y="65.6" width="6.2" height="8.8" fill="#84f884"/>
<rect x="328.4" y="74.1" width="6.2" height="8.8" fill="#bef842"/>
<rect x="328.4" y="82.6" width="6.2" height="8.8" fill="#bef842"/>
<rect x="328.4" y="91.1" width="6.2" height="8.8" fill="#84f884"/>
<rect x="328.4" y="99.6" width="6.2" height="8.8" fill="#84f884"/>
<rect x="328.4" y="108.1" width="6.2" height="8.8" fill="#2094e4"/>
<rect x="328.4" y="116.6" width="6.2" height="8.8" fill="#84f884"/>
<rect x="328.4" y="125.1" width="6.2" height="8.8" fill="#0040c8"/>
<rect x="328.4" y="133.6" width="6.2" height="8.8" fill="#0078f0"/>
<rect x="334.3" y="31.6" width="4.9" height="8.8" fill="#bef842"/>
<rect x="334.3" y="40.1" width="4.9" height="8.8" fill="#56d8aa"/>
<rect x="334.3" y="48.6" width="4.9" height="8.8" fill="#84f884"/>
<rect x="334.3" y="57.1" width="4.9" height="8.8" fill="#56d8aa"/>
<rect x="334.3" y="65.6" width="4.9" height="8.8" fill="#2094e4"/>
<rect x="334.3" y="74.1" width="4.9" height="8.8" fill="#40bac6"/>
<rect x="334.3" y="82.6" width="4.9" height="8.8" fill="#2094e4"/>
<rect x="334.3" y="91.1" width="4.9" height="8.8" fill="#56d8aa"/>
<rect x="334.3" y="99.6" width="4.9" height="8.8" fill="#0078f0"/>
<rect x="334.3" y="108.1" width="4.9" height="8.8" fill="#40bac6"/>
<rect x="334.3" y="116.6" width="4.9" height="8.8" fill="#56d8aa"/>
<rect x="334.3" y="125.1" width="4.9" height="8.8" fill="#45009a"/>
<rect x="334.3" y="133.6" width="4.9" height="8.8" fill="#2094e4"/>
<rect x="338.9" y="31.6" width="4.0" height="8.8" fill="#bef842"/>
<rect x="338.9" y="40.1" width="4.0" height="8.8" fill="#ff7800"/>
<rect x="338.9" y="48.6" width="4.0" height="8.8" fill="#bef842"/>
<rect x="338.9" y="57.1" width="4.0" height="8.8" fill="#56d8aa"/>
<rect x="338.9" y="65.6" width="4.0" height="8.8" fill="#2094e4"/>
<rect x="338.9" y="74.1" width="4.0" height="8.8" fill="#2094e4"/>
<rect x="338.9" y="82.6" width="4.0" height="8.8" fill="#f8f800"/>
<rect x="338.9" y="91.1" width="4.0" height="8.8" fill="#40bac6"/>
<rect x="338.9" y="99.6" width="4.0" height="8.8" fill="#000c8c"/>
<rect x="338.9" y="108.1" width="4.0" height="8.8" fill="#0078f0"/>
<rect x="338.9" y="116.6" width="4.0" height="8.8" fill="#40bac6"/>
<rect x="338.9" y="125.1" width="4.0" height="8.8" fill="#0040c8"/>
<rect x="342.6" y="31.6" width="6.9" height="8.8" fill="#ff7800"/>
<rect x="342.6" y="40.1" width="6.9" height="8.8" fill="#ffb400"/>
<rect x="342.6" y="48.6" width="6.9" height="8.8" fill="#84f884"/>
<rect x="342.6" y="57.1" width="6.9" height="8.8" fill="#84f884"/>
<rect x="342.6" y="65.6" width="6.9" height="8.8" fill="#ff1800"/>
<rect x="342.6" y="74.1" width="6.9" height="8.8" fill="#bef842"/>
<rect x="342.6" y="82.6" width="6.9" height="8.8" fill="#ff7800"/>
<rect x="342.6" y="91.1" width="6.9" height="8.8" fill="#40bac6"/>
<rect x="342.6" y="99.6" width="6.9" height="8.8" fill="#84f884"/>
<rect x="342.6" y="108.1" width="6.9" height="8.8" fill="#000c8c"/>
<rect x="342.6" y="116.6" width="6.9" height="8.8" fill="#0040c8"/>
<rect x="342.6" y="125.1" width="6.9" height="8.8" fill="#000c8c"/>
<rect x="342.6" y="133.6" width="6.9" height="8.8" fill="#0040c8"/>
<rect x="349.2" y="31.6" width="7.1" height="8.8" fill="#84f884"/>
<rect x="349.2" y="40.1" width="7.1" height="8.8" fill="#84f884"/>
<rect x="349.2" y="48.6" width="7.1" height="8.8" fill="#f8f800"/>
<rect x="349.2" y="57.1" width="7.1" height="8.8" fill="#56d8aa"/>
<rect x="349.2" y="65.6" width="7.1" height="8.8" fill="#0078f0"/>
<rect x="349.2" y="74.1" width="7.1" height="8.8" fill="#bef842"/>
<rect x="349.2" y="82.6" width="7.1" height="8.8" fill="#0078f0"/>
<rect x="349.2" y="91.1" width="7.1" height="8.8" fill="#0040c8"/>
<rect x="349.2" y="99.6" width="7.1" height="8.8" fill="#0078f0"/>
<rect x="349.2" y="108.1" width="7.1" height="8.8" fill="#bef842"/>
<rect x="349.2" y="116.6" width="7.1" height="8.8" fill="#2094e4"/>
<rect x="349.2" y="125.1" width="7.1" height="8.8" fill="#40bac6"/>
<rect x="349.2" y="133.6" width="7.1" height="8.8" fill="#000c8c"/>
<rect x="356.0" y="31.6" width="4.2" height="8.8" fill="#ffb400"/>
<rect x="356.0" y="40.1" width="4.2" height="8.8" fill="#56d8aa"/>
<rect x="356.0" y="48.6" width="4.2" height="8.8" fill="#f8f800"/>
<rect x="356.0" y="57.1" width="4.2" height="8.8" fill="#bef842"/>
<rect x="356.0" y="65.6" width="4.2" height="8.8" fill="#ffb400"/>
<rect x="356.0" y="74.1" width="4.2" height="8.8" fill="#84f884"/>
<rect x="356.0" y="82.6" width="4.2" height="8.8" fill="#bef842"/>
<rect x="356.0" y="91.1" width="4.2" height="8.8" fill="#bef842"/>
<rect x="356.0" y="99.6" width="4.2" height="8.8" fill="#56d8aa"/>
<rect x="356.0" y="108.1" width="4.2" height="8.8" fill="#bef842"/>
<rect x="356.0" y="116.6" width="4.2" height="8.8" fill="#56d8aa"/>
<rect x="356.0" y="125.1" width="4.2" height="8.8" fill="#bef842"/>
<rect x="359.9" y="31.6" width="6.2" height="8.8" fill="#ffb400"/>
<rect x="359.9" y="40.1" width="6.2" height="8.8" fill="#ff1800"/>
<rect x="359.9" y="48.6" width="6.2" height="8.8" fill="#f8f800"/>
<rect x="359.9" y="57.1" width="6.2" height="8.8" fill="#56d8aa"/>
<rect x="359.9" y="65.6" width="6.2" height="8.8" fill="#f8f800"/>
<rect x="359.9" y="74.1" width="6.2" height="8.8" fill="#56d8aa"/>
<rect x="359.9" y="82.6" width="6.2" height="8.8" fill="#84f884"/>
<rect x="359.9" y="91.1" width="6.2" height="8.8" fill="#84f884"/>
<rect x="359.9" y="99.6" width="6.2" height="8.8" fill="#40bac6"/>
<rect x="359.9" y="108.1" width="6.2" height="8.8" fill="#84f884"/>
<rect x="359.9" y="116.6" width="6.2" height="8.8" fill="#40bac6"/>
<rect x="359.9" y="125.1" width="6.2" height="8.8" fill="#2094e4"/>
<rect x="359.9" y="133.6" width="6.2" height="8.8" fill="#84f884"/>
<rect x="365.8" y="31.6" width="10.2" height="8.8" fill="#ff7800"/>
<rect x="365.8" y="40.1" width="10.2" height="8.8" fill="#ffb400"/>
<rect x="365.8" y="48.6" width="10.2" height="8.8" fill="#ffb400"/>
<rect x="365.8" y="57.1" width="10.2" height="8.8" fill="#84f884"/>
<rect x="365.8" y="65.6" width="10.2" height="8.8" fill="#40bac6"/>
<rect x="365.8" y="74.1" width="10.2" height="8.8" fill="#84f884"/>
<rect x="365.8" y="82.6" width="10.2" height="8.8" fill="#84f884"/>
<rect x="365.8" y="91.1" width="10.2" height="8.8" fill="#0078f0"/>
<rect x="365.8" y="99.6" width="10.2" height="8.8" fill="#0078f0"/>
<rect x="365.8" y="108.1" width="10.2" height="8.8" fill="#0078f0"/>
<rect x="365.8" y="116.6" width="10.2" height="8.8" fill="#56d8aa"/>
<rect x="365.8" y="125.1" width="10.2" height="8.8" fill="#0078f0"/>
<rect x="375.7" y="31.6" width="6.6" height="8.8" fill="#ff1800"/>
<rect x="375.7" y="40.1" width="6.6" height="8.8" fill="#ff7800"/>
<rect x="375.7" y="48.6" width="6.6" height="8.8" fill="#bef842"/>
<rect x="375.7" y="57.1" width="6.6" height="8.8" fill="#bef842"/>
<rect x="375.7" y="65.6" width="6.6" height="8.8" fill="#40bac6"/>
<rect x="375.7" y="74.1" width="6.6" height="8.8" fill="#84f884"/>
<rect x="375.7" y="82.6" width="6.6" height="8.8" fill="#56d8aa"/>
<rect x="375.7" y="91.1" width="6.6" height="8.8" fill="#56d8aa"/>
<rect x="375.7" y="99.6" width="6.6" height="8.8" fill="#40bac6"/>
<rect x="375.7" y="108.1" width="6.6" height="8.8" fill="#000c8c"/>
<rect x="375.7" y="116.6" width="6.6" height="8.8" fill="#0040c8"/>
<rect x="375.7" y="125.1" width="6.6" height="8.8" fill="#0078f0"/>
<rect x="382.0" y="31.6" width="9.1" height="8.8" fill="#ff1800"/>
<rect x="382.0" y="40.1" width="9.1" height="8.8" fill="#ff1800"/>
<rect x="382.0" y="48.6" width="9.1" height="8.8" fill="#ff7800"/>
<rect x="382.0" y="57.1" width="9.1" height="8.8" fill="#ffb400"/>
<rect x="382.0" y="65.6" width="9.1" height="8.8" fill="#ff7800"/>
<rect x="382.0" y="74.1" width="9.1" height="8.8" fill="#ff1800"/>
<rect x="382.0" y="82.6" width="9.1" height="8.8" fill="#ffb400"/>
<rect x="382.0" y="91.1" width="9.1" height="8.8" fill="#f8f800"/>
<rect x="382.0" y="99.6" width="9.1" height="8.8" fill="#40bac6"/>
<rect x="382.0" y="108.1" width="9.1" height="8.8" fill="#40bac6"/>
<rect x="382.0" y="116.6" width="9.1" height="8.8" fill="#56d8aa"/>
<rect x="382.0" y="125.1" width="9.1" height="8.8" fill="#bef842"/>
<rect x="390.8" y="31.6" width="9.3" height="8.8" fill="#84f884"/>
<rect x="390.8" y="40.1" width="9.3" height="8.8" fill="#2094e4"/>
<rect x="390.8" y="48.6" width="9.3" height="8.8" fill="#f8f800"/>
<rect x="390.8" y="57.1" width="9.3" height="8.8" fill="#56d8aa"/>
<rect x="390.8" y="65.6" width="9.3" height="8.8" fill="#bef842"/>
<rect x="390.8" y="74.1" width="9.3" height="8.8" fill="#40bac6"/>
<rect x="390.8" y="82.6" width="9.3" height="8.8" fill="#40bac6"/>
<rect x="390.8" y="91.1" width="9.3" height="8.8" fill="#84f884"/>
<rect x="390.8" y="99.6" width="9.3" height="8.8" fill="#0078f0"/>
<rect x="390.8" y="108.1" width="9.3" height="8.8" fill="#000c8c"/>
<rect x="390.8" y="116.6" width="9.3" height="8.8" fill="#0040c8"/>
<rect x="390.8" y="125.1" width="9.3" height="8.8" fill="#0078f0"/>
<rect x="390.8" y="133.6" width="9.3" height="8.8" fill="#40bac6"/>
<rect x="399.8" y="31.6" width="9.8" height="8.8" fill="#0078f0"/>
<rect x="399.8" y="40.1" width="9.8" height="8.8" fill="#56d8aa"/>
<rect x="399.8" y="48.6" width="9.8" height="8.8" fill="#45009a"/>
<rect x="399.8" y="57.1" width="9.8" height="8.8" fill="#45009a"/>
<rect x="399.8" y="65.6" width="9.8" height="8.8" fill="#0078f0"/>
<rect x="399.8" y="74.1" width="9.8" height="8.8" fill="#0040c8"/>
<rect x="399.8" y="82.6" width="9.8" height="8.8" fill="#45009a"/>
<rect x="399.8" y="91.1" width="9.8" height="8.8" fill="#0040c8"/>
<rect x="399.8" y="99.6" width="9.8" height="8.8" fill="#0078f0"/>
<rect x="399.8" y="108.1" width="9.8" height="8.8" fill="#000c8c"/>
<rect x="399.8" y="116.6" width="9.8" height="8.8" fill="#45009a"/>
<rect x="399.8" y="125.1" width="9.8" height="8.8" fill="#8c00c8"/>
<rect x="409.3" y="31.6" width="5.9" height="8.8" fill="#bef842"/>
<rect x="409.3" y="40.1" width="5.9" height="8.8" fill="#56d8aa"/>
<rect x="409.3" y="48.6" width="5.9" height="8.8" fill="#56d8aa"/>
<rect x="409.3" y="57.1" width="5.9" height="8.8" fill="#56d8aa"/>
<rect x="409.3" y="65.6" width="5.9" height="8.8" fill="#40bac6"/>
<rect x="409.3" y="74.1" width="5.9" height="8.8" fill="#40bac6"/>
<rect x="409.3" y="82.6" width="5.9" height="8.8" fill="#0078f0"/>
<rect x="409.3" y="91.1" width="5.9" height="8.8" fill="#84f884"/>
<rect x="409.3" y="99.6" width="5.9" height="8.8" fill="#56d8aa"/>
<rect x="409.3" y="108.1" width="5.9" height="8.8" fill="#40bac6"/>
<rect x="409.3" y="116.6" width="5.9" height="8.8" fill="#2094e4"/>
<rect x="409.3" y="125.1" width="5.9" height="8.8" fill="#0078f0"/>
<rect x="414.9" y="31.6" width="7.6" height="8.8" fill="#0078f0"/>
<rect x="414.9" y="40.1" width="7.6" height="8.8" fill="#000c8c"/>
<rect x="414.9" y="48.6" width="7.6" height="8.8" fill="#0040c8"/>
<rect x="414.9" y="57.1" width="7.6" height="8.8" fill="#0040c8"/>
<rect x="414.9" y="65.6" width="7.6" height="8.8" fill="#45009a"/>
<rect x="414.9" y="74.1" width="7.6" height="8.8" fill="#ff00ff"/>
<rect x="414.9" y="82.6" width="7.6" height="8.8" fill="#000c8c"/>
<rect x="414.9" y="91.1" width="7.6" height="8.8" fill="#000c8c"/>
<rect x="414.9" y="99.6" width="7.6" height="8.8" fill="#0078f0"/>
<rect x="414.9" y="108.1" width="7.6" height="8.8" fill="#0040c8"/>
<rect x="414.9" y="116.6" width="7.6" height="8.8" fill="#0078f0"/>
<rect x="414.9" y="125.1" width="7.6" height="8.8" fill="#45009a"/>
<rect x="422.2" y="31.6" width="10.1" height="8.8" fill="#84f884"/>
<rect x="422.2" y="40.1" width="10.1" height="8.8" fill="#2094e4"/>
<rect x="422.2" y="48.6" width="10.1" height="8.8" fill="#0040c8"/>
<rect x="422.2" y="57.1" width="10.1" height="8.8" fill="#56d8aa"/>
<rect x="422.2" y="65.6" width="10.1" height="8.8" fill="#2094e4"/>
<rect x="422.2" y="74.1" width="10.1" height="8.8" fill="#2094e4"/>
<rect x="422.2" y="82.6" width="10.1" height="8.8" fill="#2094e4"/>
<rect x="422.2" y="91.1" width="10.1" height="8.8" fill="#40bac6"/>
<rect x="422.2" y="99.6" width="10.1" height="8.8" fill="#0078f0"/>
<rect x="422.2" y="108.1" width="10.1" height="8.8" fill="#40bac6"/>
<rect x="422.2" y="116.6" width="10.1" height="8.8" fill="#40bac6"/>
<rect x="422.2" y="125.1" width="10.1" height="8.8" fill="#0040c8"/>
<rect x="432.0" y="31.6" width="7.5" height="8.8" fill="#bef842"/>
<rect x="432.0" y="40.1" width="7.5" height="8.8" fill="#84f884"/>
<rect x="432.0" y="48.6" width="7.5" height="8.8" fill="#bef842"/>
<rect x="432.0" y="57.1" width="7.5" height="8.8" fill="#84f884"/>
<rect x="432.0" y="65.6" width="7.5" height="8.8" fill="#56d8aa"/>
<rect x="432.0" y="74.1" width="7.5" height="8.8" fill="#ff7800"/>
<rect x="432.0" y="82.6" width="7.5" height="8.8" fill="#56d8aa"/>
<rect x="432.0" y="91.1" width="7.5" height="8.8" fill="#84f884"/>
<rect x="432.0" y="99.6" width="7.5" height="8.8" fill="#ff1800"/>
<rect x="432.0" y="108.1" width="7.5" height="8.8" fill="#bef842"/>
<rect x="432.0" y="116.6" width="7.5" height="8.8" fill="#40bac6"/>
<rect x="432.0" y="125.1" width="7.5" height="8.8" fill="#0078f0"/>
<rect x="439.2" y="31.6" width="8.0" height="8.8" fill="#bef842"/>
<rect x="439.2" y="40.1" width="8.0" height="8.8" fill="#84f884"/>
<rect x="439.2" y="48.6" width="8.0" height="8.8" fill="#84f884"/>
<rect x="439.2" y="57.1" width="8.0" height="8.8" fill="#ffb400"/>
<rect x="439.2" y="65.6" width="8.0" height="8.8" fill="#f8f800"/>
<rect x="439.2" y="74.1" width="8.0" height="8.8" fill="#84f884"/>
<rect x="439.2" y="82.6" width="8.0" height="8.8" fill="#84f884"/>
<rect x="439.2" y="91.1" width="8.0" height="8.8" fill="#ff1800"/>
<rect x="439.2" y="99.6" width="8.0" height="8.8" fill="#84f884"/>
<rect x="439.2" y="108.1" width="8.0" height="8.8" fill="#bef842"/>
<rect x="439.2" y="116.6" width="8.0" height="8.8" fill="#f8f800"/>
<rect x="439.2" y="125.1" width="8.0" height="8.8" fill="#0078f0"/>
<rect x="446.9" y="31.6" width="3.2" height="8.8" fill="#84f884"/>
<rect x="446.9" y="40.1" width="3.2" height="8.8" fill="#56d8aa"/>
<rect x="446.9" y="48.6" width="3.2" height="8.8" fill="#bef842"/>
<rect x="446.9" y="57.1" width="3.2" height="8.8" fill="#f8f800"/>
<rect x="446.9" y="65.6" width="3.2" height="8.8" fill="#bef842"/>
<rect x="446.9" y="74.1" width="3.2" height="8.8" fill="#bef842"/>
<rect x="446.9" y="82.6" width="3.2" height="8.8" fill="#f8f800"/>
<rect x="446.9" y="91.1" width="3.2" height="8.8" fill="#bef842"/>
<rect x="446.9" y="99.6" width="3.2" height="8.8" fill="#ff7800"/>
<rect x="446.9" y="108.1" width="3.2" height="8.8" fill="#f8f800"/>
<rect x="446.9" y="116.6" width="3.2" height="8.8" fill="#ffb400"/>
<rect x="446.9" y="125.1" width="3.2" height="8.8" fill="#84f884"/>
<rect x="449.8" y="31.6" width="7.9" height="8.8" fill="#84f884"/>
<rect x="449.8" y="40.1" width="7.9" height="8.8" fill="#2094e4"/>
<rect x="449.8" y="48.6" width="7.9" height="8.8" fill="#56d8aa"/>
<rect x="449.8" y="57.1" width="7.9" height="8.8" fill="#bef842"/>
<rect x="449.8" y="65.6" width="7.9" height="8.8" fill="#40bac6"/>
<rect x="449.8" y="74.1" width="7.9" height="8.8" fill="#bef842"/>
<rect x="449.8" y="82.6" width="7.9" height="8.8" fill="#56d8aa"/>
<rect x="449.8" y="91.1" width="7.9" height="8.8" fill="#bef842"/>
<rect x="449.8" y="99.6" width="7.9" height="8.8" fill="#2094e4"/>
<rect x="449.8" y="108.1" width="7.9" height="8.8" fill="#56d8aa"/>
<rect x="449.8" y="116.6" width="7.9" height="8.8" fill="#56d8aa"/>
<rect x="449.8" y="125.1" width="7.9" height="8.8" fill="#40bac6"/>
<rect x="457.4" y="31.6" width="8.4" height="8.8" fill="#56d8aa"/>
<rect x="457.4" y="40.1" width="8.4" height="8.8" fill="#f8f800"/>
<rect x="457.4" y="48.6" width="8.4" height="8.8" fill="#bef842"/>
<rect x="457.4" y="57.1" width="8.4" height="8.8" fill="#ffb400"/>
<rect x="457.4" y="65.6" width="8.4" height="8.8" fill="#bef842"/>
<rect x="457.4" y="74.1" width="8.4" height="8.8" fill="#f8f800"/>
<rect x="457.4" y="82.6" width="8.4" height="8.8" fill="#bef842"/>
<rect x="457.4" y="91.1" width="8.4" height="8.8" fill="#bef842"/>
<rect x="457.4" y="99.6" width="8.4" height="8.8" fill="#ffb400"/>
<rect x="457.4" y="108.1" width="8.4" height="8.8" fill="#bef842"/>
<rect x="457.4" y="116.6" width="8.4" height="8.8" fill="#bef842"/>
<rect x="457.4" y="125.1" width="8.4" height="8.8" fill="#0040c8"/>
<rect x="465.5" y="31.6" width="8.9" height="8.8" fill="#bef842"/>
<rect x="465.5" y="40.1" width="8.9" height="8.8" fill="#84f884"/>
<rect x="465.5" y="48.6" width="8.9" height="8.8" fill="#f8f800"/>
<rect x="465.5" y="57.1" width="8.9" height="8.8" fill="#ff1800"/>
<rect x="465.5" y="65.6" width="8.9" height="8.8" fill="#ff1800"/>
<rect x="465.5" y="74.1" width="8.9" height="8.8" fill="#f8f800"/>
<rect x="465.5" y="82.6" width="8.9" height="8.8" fill="#ffb400"/>
<rect x="465.5" y="91.1" width="8.9" height="8.8" fill="#bef842"/>
<rect x="465.5" y="99.6" width="8.9" height="8.8" fill="#bef842"/>
<rect x="465.5" y="108.1" width="8.9" height="8.8" fill="#84f884"/>
<rect x="465.5" y="116.6" width="8.9" height="8.8" fill="#f8f800"/>
<rect x="465.5" y="125.1" width="8.9" height="8.8" fill="#56d8aa"/>
<rect x="474.1" y="31.6" width="7.3" height="8.8" fill="#84f884"/>
<rect x="474.1" y="40.1" width="7.3" height="8.8" fill="#bef842"/>
<rect x="474.1" y="48.6" width="7.3" height="8.8" fill="#bef842"/>
<rect x="474.1" y="57.1" width="7.3" height="8.8" fill="#56d8aa"/>
<rect x="474.1" y="65.6" width="7.3" height="8.8" fill="#84f884"/>
<rect x="474.1" y="74.1" width="7.3" height="8.8" fill="#56d8aa"/>
<rect x="474.1" y="82.6" width="7.3" height="8.8" fill="#84f884"/>
<rect x="474.1" y="91.1" width="7.3" height="8.8" fill="#bef842"/>
<rect x="474.1" y="99.6" width="7.3" height="8.8" fill="#56d8aa"/>
<rect x="474.1" y="108.1" width="7.3" height="8.8" fill="#2094e4"/>
<rect x="474.1" y="116.6" width="7.3" height="8.8" fill="#84f884"/>
<rect x="474.1" y="125.1" width="7.3" height="8.8" fill="#56d8aa"/>
<rect x="474.1" y="133.6" width="7.3" height="8.8" fill="#0078f0"/>
<rect x="481.1" y="31.6" width="7.6" height="8.8" fill="#84f884"/>
<rect x="481.1" y="40.1" width="7.6" height="8.8" fill="#ffb400"/>
<rect x="481.1" y="48.6" width="7.6" height="8.8" fill="#84f884"/>
<rect x="481.1" y="57.1" width="7.6" height="8.8" fill="#ffb400"/>
<rect x="481.1" y="65.6" width="7.6" height="8.8" fill="#f8f800"/>
<rect x="481.1" y="74.1" width="7.6" height="8.8" fill="#bef842"/>
<rect x="481.1" y="82.6" width="7.6" height="8.8" fill="#bef842"/>
<rect x="481.1" y="91.1" width="7.6" height="8.8" fill="#f8f800"/>
<rect x="481.1" y="99.6" width="7.6" height="8.8" fill="#ffb400"/>
<rect x="481.1" y="108.1" width="7.6" height="8.8" fill="#f8f800"/>
<rect x="481.1" y="116.6" width="7.6" height="8.8" fill="#84f884"/>
<rect x="481.1" y="125.1" width="7.6" height="8.8" fill="#40bac6"/>
<rect x="481.1" y="133.6" width="7.6" height="8.8" fill="#bef842"/>
<rect x="488.4" y="31.6" width="5.9" height="8.8" fill="#bef842"/>
<rect x="488.4" y="40.1" width="5.9" height="8.8" fill="#bef842"/>
<rect x="488.4" y="48.6" width="5.9" height="8.8" fill="#ff7800"/>
<rect x="488.4" y="57.1" width="5.9" height="8.8" fill="#bef842"/>
<rect x="488.4" y="65.6" width="5.9" height="8.8" fill="#ff7800"/>
<rect x="488.4" y="74.1" width="5.9" height="8.8" fill="#ffb400"/>
<rect x="488.4" y="82.6" width="5.9" height="8.8" fill="#ff7800"/>
<rect x="488.4" y="91.1" width="5.9" height="8.8" fill="#ffb400"/>
<rect x="488.4" y="99.6" width="5.9" height="8.8" fill="#f8f800"/>
<rect x="488.4" y="108.1" width="5.9" height="8.8" fill="#f8f800"/>
<rect x="488.4" y="116.6" width="5.9" height="8.8" fill="#56d8aa"/>
<rect x="488.4" y="125.1" width="5.9" height="8.8" fill="#84f884"/>
<rect x="494.0" y="31.6" width="6.5" height="8.8" fill="#f8f800"/>
<rect x="494.0" y="40.1" width="6.5" height="8.8" fill="#f8f800"/>
<rect x="494.0" y="48.6" width="6.5" height="8.8" fill="#f8f800"/>
<rect x="494.0" y="57.1" width="6.5" height="8.8" fill="#56d8aa"/>
<rect x="494.0" y="65.6" width="6.5" height="8.8" fill="#f8f800"/>
<rect x="494.0" y="74.1" width="6.5" height="8.8" fill="#84f884"/>
<rect x="494.0" y="82.6" width="6.5" height="8.8" fill="#ffb400"/>
<rect x="494.0" y="91.1" width="6.5" height="8.8" fill="#84f884"/>
<rect x="494.0" y="99.6" width="6.5" height="8.8" fill="#bef842"/>
<rect x="494.0" y="108.1" width="6.5" height="8.8" fill="#bef842"/>
<rect x="494.0" y="116.6" width="6.5" height="8.8" fill="#56d8aa"/>
<rect x="494.0" y="125.1" width="6.5" height="8.8" fill="#0078f0"/>
<rect x="500.2" y="31.6" width="6.2" height="8.8" fill="#bef842"/>
<rect x="500.2" y="40.1" width="6.2" height="8.8" fill="#bef842"/>
<rect x="500.2" y="48.6" width="6.2" height="8.8" fill="#56d8aa"/>
<rect x="500.2" y="57.1" width="6.2" height="8.8" fill="#84f884"/>
<rect x="500.2" y="65.6" width="6.2" height="8.8" fill="#0078f0"/>
<rect x="500.2" y="74.1" width="6.2" height="8.8" fill="#2094e4"/>
<rect x="500.2" y="82.6" width="6.2" height="8.8" fill="#0078f0"/>
<rect x="500.2" y="91.1" width="6.2" height="8.8" fill="#56d8aa"/>
<rect x="500.2" y="99.6" width="6.2" height="8.8" fill="#2094e4"/>
<rect x="500.2" y="108.1" width="6.2" height="8.8" fill="#2094e4"/>
<rect x="500.2" y="116.6" width="6.2" height="8.8" fill="#56d8aa"/>
<rect x="500.2" y="125.1" width="6.2" height="8.8" fill="#56d8aa"/>
<rect x="506.1" y="31.6" width="7.9" height="8.8" fill="#56d8aa"/>
<rect x="506.1" y="40.1" width="7.9" height="8.8" fill="#84f884"/>
<rect x="506.1" y="48.6" width="7.9" height="8.8" fill="#84f884"/>
<rect x="506.1" y="57.1" width="7.9" height="8.8" fill="#0040c8"/>
<rect x="506.1" y="65.6" width="7.9" height="8.8" fill="#0040c8"/>
<rect x="506.1" y="74.1" width="7.9" height="8.8" fill="#000c8c"/>
<rect x="506.1" y="82.6" width="7.9" height="8.8" fill="#8c00c8"/>
<rect x="506.1" y="91.1" width="7.9" height="8.8" fill="#0040c8"/>
<rect x="506.1" y="99.6" width="7.9" height="8.8" fill="#8c00c8"/>
<rect x="506.1" y="108.1" width="7.9" height="8.8" fill="#45009a"/>
<rect x="506.1" y="116.6" width="7.9" height="8.8" fill="#84f884"/>
<rect x="506.1" y="125.1" width="7.9" height="8.8" fill="#2094e4"/>
<rect x="513.7" y="31.6" width="7.2" height="8.8" fill="#0078f0"/>
<rect x="513.7" y="40.1" width="7.2" height="8.8" fill="#40bac6"/>
<rect x="513.7" y="48.6" width="7.2" height="8.8" fill="#0078f0"/>
<rect x="513.7" y="57.1" width="7.2" height="8.8" fill="#000c8c"/>
<rect x="513.7" y="65.6" width="7.2" height="8.8" fill="#0040c8"/>
<rect x="513.7" y="74.1" width="7.2" height="8.8" fill="#56d8aa"/>
<rect x="513.7" y="82.6" width="7.2" height="8.8" fill="#000c8c"/>
<rect x="513.7" y="91.1" width="7.2" height="8.8" fill="#45009a"/>
<rect x="513.7" y="99.6" width="7.2" height="8.8" fill="#0078f0"/>
<rect x="513.7" y="108.1" width="7.2" height="8.8" fill="#0040c8"/>
<rect x="513.7" y="116.6" width="7.2" height="8.8" fill="#2094e4"/>
<rect x="513.7" y="125.1" width="7.2" height="8.8" fill="#000c8c"/>
<rect x="520.6" y="31.6" width="5.3" height="8.8" fill="#f8f800"/>
<rect x="520.6" y="40.1" width="5.3" height="8.8" fill="#84f884"/>
<rect x="520.6" y="48.6" width="5.3" height="8.8" fill="#84f884"/>
<rect x="520.6" y="57.1" width="5.3" height="8.8" fill="#56d8aa"/>
<rect x="520.6" y="65.6" width="5.3" height="8.8" fill="#bef842"/>
<rect x="520.6" y="74.1" width="5.3" height="8.8" fill="#84f884"/>
<rect x="520.6" y="82.6" width="5.3" height="8.8" fill="#56d8aa"/>
<rect x="520.6" y="91.1" width="5.3" height="8.8" fill="#0078f0"/>
<rect x="520.6" y="99.6" width="5.3" height="8.8" fill="#000c8c"/>
<rect x="520.6" y="108.1" width="5.3" height="8.8" fill="#0078f0"/>
<rect x="520.6" y="116.6" width="5.3" height="8.8" fill="#0040c8"/>
<rect x="525.6" y="31.6" width="6.8" height="8.8" fill="#2094e4"/>
<rect x="525.6" y="40.1" width="6.8" height="8.8" fill="#56d8aa"/>
<rect x="525.6" y="48.6" width="6.8" height="8.8" fill="#bef842"/>
<rect x="525.6" y="57.1" width="6.8" height="8.8" fill="#bef842"/>
<rect x="525.6" y="65.6" width="6.8" height="8.8" fill="#56d8aa"/>
<rect x="525.6" y="74.1" width="6.8" height="8.8" fill="#0078f0"/>
<rect x="525.6" y="82.6" width="6.8" height="8.8" fill="#40bac6"/>
<rect x="525.6" y="91.1" width="6.8" height="8.8" fill="#0078f0"/>
<rect x="525.6" y="99.6" width="6.8" height="8.8" fill="#0078f0"/>
<rect x="525.6" y="108.1" width="6.8" height="8.8" fill="#0078f0"/>
<rect x="525.6" y="116.6" width="6.8" height="8.8" fill="#0078f0"/>
<rect x="532.1" y="31.6" width="4.3" height="8.8" fill="#40bac6"/>
<rect x="532.1" y="40.1" width="4.3" height="8.8" fill="#000c8c"/>
<rect x="532.1" y="48.6" width="4.3" height="8.8" fill="#84f884"/>
<rect x="532.1" y="57.1" width="4.3" height="8.8" fill="#40bac6"/>
<rect x="532.1" y="65.6" width="4.3" height="8.8" fill="#0078f0"/>
<rect x="532.1" y="74.1" width="4.3" height="8.8" fill="#2094e4"/>
<rect x="532.1" y="82.6" width="4.3" height="8.8" fill="#84f884"/>
<rect x="532.1" y="91.1" width="4.3" height="8.8" fill="#0078f0"/>
<rect x="532.1" y="99.6" width="4.3" height="8.8" fill="#56d8aa"/>
<rect x="532.1" y="108.1" width="4.3" height="8.8" fill="#0040c8"/>
<rect x="536.1" y="31.6" width="8.2" height="8.8" fill="#40bac6"/>
<rect x="536.1" y="40.1" width="8.2" height="8.8" fill="#56d8aa"/>
<rect x="536.1" y="48.6" width="8.2" height="8.8" fill="#56d8aa"/>
<rect x="536.1" y="57.1" width="8.2" height="8.8" fill="#40bac6"/>
<rect x="536.1" y="65.6" width="8.2" height="8.8" fill="#2094e4"/>
<rect x="536.1" y="74.1" width="8.2" height="8.8" fill="#0078f0"/>
<rect x="536.1" y="82.6" width="8.2" height="8.8" fill="#000c8c"/>
<rect x="536.1" y="91.1" width="8.2" height="8.8" fill="#0040c8"/>
<rect x="536.1" y="99.6" width="8.2" height="8.8" fill="#000c8c"/>
<rect x="536.1" y="108.1" width="8.2" height="8.8" fill="#8c00c8"/>
<rect x="544.0" y="31.6" width="9.7" height="8.8" fill="#84f884"/>
<rect x="544.0" y="40.1" width="9.7" height="8.8" fill="#56d8aa"/>
<rect x="544.0" y="48.6" width="9.7" height="8.8" fill="#56d8aa"/>
<rect x="544.0" y="57.1" width="9.7" height="8.8" fill="#2094e4"/>
<rect x="544.0" y="65.6" width="9.7" height="8.8" fill="#2094e4"/>
<rect x="544.0" y="74.1" width="9.7" height="8.8" fill="#0078f0"/>
<rect x="544.0" y="82.6" width="9.7" height="8.8" fill="#0078f0"/>
<rect x="544.0" y="91.1" width="9.7" height="8.8" fill="#8c00c8"/>
<rect x="544.0" y="99.6" width="9.7" height="8.8" fill="#ff00ff"/>
<rect x="553.4" y="31.6" width="8.0" height="8.8" fill="#0040c8"/>
<rect x="553.4" y="40.1" width="8.0" height="8.8" fill="#84f884"/>
<rect x="553.4" y="48.6" width="8.0" height="8.8" fill="#2094e4"/>
<rect x="553.4" y="57.1" width="8.0" height="8.8" fill="#40bac6"/>
<rect x="553.4" y="65.6" width="8.0" height="8.8" fill="#0040c8"/>
<rect x="553.4" y="74.1" width="8.0" height="8.8" fill="#2094e4"/>
<rect x="553.4" y="82.6" width="8.0" height="8.8" fill="#0078f0"/>
<rect x="553.4" y="91.1" width="8.0" height="8.8" fill="#45009a"/>
<rect x="553.4" y="99.6" width="8.0" height="8.8" fill="#45009a"/>
<rect x="561.1" y="31.6" width="7.6" height="8.8" fill="#bef842"/>
<rect x="561.1" y="40.1" width="7.6" height="8.8" fill="#bef842"/>
<rect x="561.1" y="48.6" width="7.6" height="8.8" fill="#2094e4"/>
<rect x="561.1" y="57.1" width="7.6" height="8.8" fill="#56d8aa"/>
<rect x="561.1" y="65.6" width="7.6" height="8.8" fill="#bef842"/>
<rect x="561.1" y="74.1" width="7.6" height="8.8" fill="#56d8aa"/>
<rect x="561.1" y="82.6" width="7.6" height="8.8" fill="#0078f0"/>
<rect x="561.1" y="91.1" width="7.6" height="8.8" fill="#000c8c"/>
<rect x="561.1" y="99.6" width="7.6" height="8.8" fill="#0040c8"/>
<rect x="568.4" y="31.6" width="12.8" height="8.8" fill="#84f884"/>
<rect x="568.4" y="40.1" width="12.8" height="8.8" fill="#84f884"/>
<rect x="568.4" y="48.6" width="12.8" height="8.8" fill="#40bac6"/>
<rect x="568.4" y="57.1" width="12.8" height="8.8" fill="#ff7800"/>
<rect x="568.4" y="65.6" width="12.8" height="8.8" fill="#56d8aa"/>
<rect x="568.4" y="74.1" width="12.8" height="8.8" fill="#45009a"/>
<rect x="568.4" y="82.6" width="12.8" height="8.8" fill="#40bac6"/>
<rect x="568.4" y="91.1" width="12.8" height="8.8" fill="#2094e4"/>
<rect x="47.1" y="29.6" width="5.2" height="4.5" fill="#bef842"/>
<rect x="52.0" y="29.6" width="4.5" height="4.5" fill="#8c00c8"/>
<rect x="52.0" y="33.8" width="4.5" height="4.5" fill="#0040c8"/>
<rect x="56.2" y="29.6" width="6.4" height="4.5" fill="#ff7800"/>
<rect x="56.2" y="33.8" width="6.4" height="4.5" fill="#0078f0"/>
<rect x="56.2" y="38.0" width="6.4" height="4.5" fill="#bef842"/>
<rect x="62.3" y="29.6" width="6.5" height="4.5" fill="#40bac6"/>
<rect x="62.3" y="33.8" width="6.5" height="4.5" fill="#0078f0"/>
<rect x="62.3" y="38.0" width="6.5" height="4.5" fill="#40bac6"/>
<rect x="62.3" y="42.3" width="6.5" height="4.5" fill="#40bac6"/>
<rect x="68.5" y="29.6" width="7.0" height="4.5" fill="#40bac6"/>
<rect x="68.5" y="33.8" width="7.0" height="4.5" fill="#2094e4"/>
<rect x="68.5" y="38.0" width="7.0" height="4.5" fill="#bef842"/>
<rect x="68.5" y="42.3" width="7.0" height="4.5" fill="#56d8aa"/>
<rect x="68.5" y="46.5" width="7.0" height="4.5" fill="#000c8c"/>
<rect x="75.2" y="29.6" width="8.2" height="4.5" fill="#8c00c8"/>
<rect x="75.2" y="33.8" width="8.2" height="4.5" fill="#56d8aa"/>
<rect x="75.2" y="38.0" width="8.2" height="4.5" fill="#2094e4"/>
<rect x="75.2" y="42.3" width="8.2" height="4.5" fill="#2094e4"/>
<rect x="75.2" y="46.5" width="8.2" height="4.5" fill="#2094e4"/>
<rect x="75.2" y="50.8" width="8.2" height="4.5" fill="#0078f0"/>
<rect x="75.2" y="55.0" width="8.2" height="4.5" fill="#2094e4"/>
<rect x="75.2" y="59.3" width="8.2" height="4.5" fill="#ff00ff"/>
<rect x="580.9" y="29.6" width="9.4" height="4.5" fill="#ff00ff"/>
<rect x="580.9" y="33.8" width="9.4" height="4.5" fill="#ff7800"/>
<rect x="580.9" y="38.0" width="9.4" height="4.5" fill="#2094e4"/>
<rect x="580.9" y="42.3" width="9.4" height="4.5" fill="#2094e4"/>
<rect x="580.9" y="46.5" width="9.4" height="4.5" fill="#0078f0"/>
<rect x="580.9" y="50.8" width="9.4" height="4.5" fill="#0040c8"/>
<rect x="580.9" y="55.0" width="9.4" height="4.5" fill="#0040c8"/>
<rect x="580.9" y="59.3" width="9.4" height="4.5" fill="#0078f0"/>
<rect x="580.9" y="63.5" width="9.4" height="4.5" fill="#40bac6"/>
<rect x="580.9" y="67.8" width="9.4" height="4.5" fill="#0078f0"/>
<rect x="580.9" y="72.0" width="9.4" height="4.5" fill="#0078f0"/>
<rect x="580.9" y="76.3" width="9.4" height="4.5" fill="#8c00c8"/>
<rect x="580.9" y="80.5" width="9.4" height="4.5" fill="#0078f0"/>
<rect x="580.9" y="84.8" width="9.4" height="4.5" fill="#0078f0"/>
<rect x="580.9" y="89.0" width="9.4" height="4.5" fill="#0078f0"/>
<rect x="580.9" y="93.3" width="9.4" height="4.5" fill="#40bac6"/>
<rect x="580.9" y="97.5" width="9.4" height="4.5" fill="#45009a"/>
<rect x="590.0" y="29.6" width="6.3" height="4.5" fill="#40bac6"/>
<rect x="590.0" y="33.8" width="6.3" height="4.5" fill="#ff00ff"/>
<rect x="590.0" y="38.0" width="6.3" height="4.5" fill="#0040c8"/>
<rect x="590.0" y="42.3" width="6.3" height="4.5" fill="#56d8aa"/>
<rect x="590.0" y="46.5" width="6.3" height="4.5" fill="#0040c8"/>
<rect x="590.0" y="50.8" width="6.3" height="4.5" fill="#bef842"/>
<rect x="590.0" y="55.0" width="6.3" height="4.5" fill="#0078f0"/>
<rect x="590.0" y="59.3" width="6.3" height="4.5" fill="#000c8c"/>
<rect x="590.0" y="63.5" width="6.3" height="4.5" fill="#56d8aa"/>
<rect x="590.0" y="67.8" width="6.3" height="4.5" fill="#2094e4"/>
<rect x="590.0" y="72.0" width="6.3" height="4.5" fill="#000c8c"/>
<rect x="590.0" y="76.3" width="6.3" height="4.5" fill="#0040c8"/>
<rect x="590.0" y="80.5" width="6.3" height="4.5" fill="#84f884"/>
<rect x="590.0" y="84.8" width="6.3" height="4.5" fill="#56d8aa"/>
<rect x="590.0" y="89.0" width="6.3" height="4.5" fill="#0040c8"/>
<rect x="596.0" y="29.6" width="9.1" height="4.5" fill="#45009a"/>
<rect x="596.0" y="33.8" width="9.1" height="4.5" fill="#8c00c8"/>
<rect x="596.0" y="38.0" width="9.1" height="4.5" fill="#ff7800"/>
<rect x="596.0" y="42.3" width="9.1" height="4.5" fill="#f8f800"/>
<rect x="596.0" y="46.5" width="9.1" height="4.5" fill="#2094e4"/>
<rect x="596.0" y="50.8" width="9.1" height="4.5" fill="#bef842"/>
<rect x="596.0" y="55.0" width="9.1" height="4.5" fill="#45009a"/>
<rect x="596.0" y="59.3" width="9.1" height="4.5" fill="#45009a"/>
<rect x="596.0" y="63.5" width="9.1" height="4.5" fill="#8c00c8"/>
<rect x="596.0" y="67.8" width="9.1" height="4.5" fill="#8c00c8"/>
<rect x="596.0" y="72.0" width="9.1" height="4.5" fill="#56d8aa"/>
<rect x="596.0" y="76.3" width="9.1" height="4.5" fill="#000c8c"/>
<rect x="596.0" y="80.5" width="9.1" height="4.5" fill="#000c8c"/>
<rect x="604.8" y="29.6" width="12.9" height="4.5" fill="#84f884"/>
<rect x="604.8" y="33.8" width="12.9" height="4.5" fill="#45009a"/>
<rect x="604.8" y="38.0" width="12.9" height="4.5" fill="#000c8c"/>
<rect x="604.8" y="42.3" width="12.9" height="4.5" fill="#ff00ff"/>
<rect x="604.8" y="46.5" width="12.9" height="4.5" fill="#45009a"/>
<rect x="604.8" y="50.8" width="12.9" height="4.5" fill="#8c00c8"/>
<rect x="604.8" y="55.0" width="12.9" height="4.5" fill="#0078f0"/>
<rect x="604.8" y="59.3" width="12.9" height="4.5" fill="#0040c8"/>
<rect x="604.8" y="63.5" width="12.9" height="4.5" fill="#0040c8"/>
<rect x="604.8" y="67.8" width="12.9" height="4.5" fill="#0078f0"/>
<rect x="617.4" y="29.6" width="13.1" height="4.5" fill="#ff00ff"/>
<rect x="617.4" y="33.8" width="13.1" height="4.5" fill="#ff00ff"/>
<rect x="617.4" y="38.0" width="13.1" height="4.5" fill="#ff00ff"/>
<rect x="617.4" y="42.3" width="13.1" height="4.5" fill="#ff00ff"/>
<rect x="617.4" y="46.5" width="13.1" height="4.5" fill="#ff00ff"/>
<rect x="617.4" y="50.8" width="13.1" height="4.5" fill="#000c8c"/>
<rect x="630.2" y="25.0" width="10.5" height="19.4" fill="#ff00ff"/>
<rect x="640.4" y="25.0" width="9.0" height="7.7" fill="#ff00ff"/>
</g>
<path d="M649.6,29 L649.6,11 L661.7,11" fill="none" stroke="#888" stroke-width="1.2"/>
<line x1="28.6" y1="1.0" x2="680.4" y2="1.0" stroke="#333" stroke-width="1.4"/>
<line x1="680.4" y1="1.0" x2="680.4" y2="179.5" stroke="#555" stroke-width="1.1"/>
<line x1="28.6" y1="0.30000000000000004" x2="28.6" y2="179.5" stroke="#777" stroke-width="1.3"/>
<line x1="28.6" y1="179.5" x2="680.4" y2="179.5" stroke="#222" stroke-width="1.6"/>
<rect x="548.5" y="121.7" width="129.10000000000002" height="52.8" fill="#fff" stroke="#333" stroke-width="1.1"/>
<defs><linearGradient id="g1" x1="0" x2="1" y1="0" y2="0"><stop offset="0" stop-color="#ff00ff"/><stop offset="0.2" stop-color="#000080"/><stop offset="0.39" stop-color="#0080ff"/><stop offset="0.5" stop-color="#40b4c4"/><stop offset="0.61" stop-color="#80ff80"/><stop offset="0.8" stop-color="#ffff00"/><stop offset="1" stop-color="#ff0000"/></linearGradient></defs>
<rect x="559.4" y="143.2" width="107.10000000000002" height="9.800000000000011" fill="url(#g1)" stroke="#444" stroke-width="0.8"/>
<line x1="559.4" y1="153.0" x2="559.4" y2="157.5" stroke="#555" stroke-width="0.9"/>
<text x="0" y="0" transform="translate(559.4,167.6) scale(0.69,1)" text-anchor="middle" font-size="11" fill="#333" stroke="#333" stroke-width="0.25">0.6</text>
<line x1="586.2" y1="153.0" x2="586.2" y2="157.5" stroke="#555" stroke-width="0.9"/>
<text x="0" y="0" transform="translate(586.2,167.6) scale(0.69,1)" text-anchor="middle" font-size="11" fill="#333" stroke="#333" stroke-width="0.25">0.8</text>
<line x1="613.0" y1="153.0" x2="613.0" y2="157.5" stroke="#555" stroke-width="0.9"/>
<text x="0" y="0" transform="translate(613.0,167.6) scale(0.69,1)" text-anchor="middle" font-size="11" fill="#333" stroke="#333" stroke-width="0.25">1.0</text>
<line x1="639.7" y1="153.0" x2="639.7" y2="157.5" stroke="#555" stroke-width="0.9"/>
<text x="0" y="0" transform="translate(639.7,167.6) scale(0.69,1)" text-anchor="middle" font-size="11" fill="#333" stroke="#333" stroke-width="0.25">1.2</text>
<line x1="666.5" y1="153.0" x2="666.5" y2="157.5" stroke="#555" stroke-width="0.9"/>
<text x="0" y="0" transform="translate(666.5,167.6) scale(0.69,1)" text-anchor="middle" font-size="11" fill="#333" stroke="#333" stroke-width="0.25">1.4</text>
<text x="0" y="0" transform="translate(613.0,135.6) scale(0.69,1)" text-anchor="middle" font-size="11.5" fill="#333" stroke="#333" stroke-width="0.25">Speed (m/s)</text>
<line x1="26.1" y1="4.8" x2="28.6" y2="4.8" stroke="#444" stroke-width="0.9"/>
<text x="0" y="0" transform="translate(24.700000000000003,10.0) scale(0.7,1)" text-anchor="end" font-size="10.4" fill="#333" stroke="#333" stroke-width="0.3">0</text>
<line x1="26.1" y1="46.8" x2="28.6" y2="46.8" stroke="#444" stroke-width="0.9"/>
<text x="0" y="0" transform="translate(24.700000000000003,52.0) scale(0.7,1)" text-anchor="end" font-size="10.4" fill="#333" stroke="#333" stroke-width="0.3">1</text>
<line x1="26.1" y1="88.7" x2="28.6" y2="88.7" stroke="#444" stroke-width="0.9"/>
<text x="0" y="0" transform="translate(24.700000000000003,93.9) scale(0.7,1)" text-anchor="end" font-size="10.4" fill="#333" stroke="#333" stroke-width="0.3">2</text>
<line x1="26.1" y1="130.7" x2="28.6" y2="130.7" stroke="#444" stroke-width="0.9"/>
<text x="0" y="0" transform="translate(24.700000000000003,135.8) scale(0.7,1)" text-anchor="end" font-size="10.4" fill="#333" stroke="#333" stroke-width="0.3">3</text>
<line x1="26.1" y1="172.6" x2="28.6" y2="172.6" stroke="#444" stroke-width="0.9"/>
<text x="0" y="0" transform="translate(24.700000000000003,177.8) scale(0.7,1)" text-anchor="end" font-size="10.4" fill="#333" stroke="#333" stroke-width="0.3">4</text>
<line x1="661.3" y1="179.5" x2="661.3" y2="183.0" stroke="#444" stroke-width="0.9"/>
<text x="0" y="0" transform="translate(661.3,192.1) scale(0.67,1)" text-anchor="middle" font-size="10" fill="#333" stroke="#333" stroke-width="0.3">0</text>
<line x1="547.4" y1="179.5" x2="547.4" y2="183.0" stroke="#444" stroke-width="0.9"/>
<text x="0" y="0" transform="translate(547.4,192.1) scale(0.67,1)" text-anchor="middle" font-size="10" fill="#333" stroke="#333" stroke-width="0.3">5</text>
<line x1="433.6" y1="179.5" x2="433.6" y2="183.0" stroke="#444" stroke-width="0.9"/>
<text x="0" y="0" transform="translate(433.6,192.1) scale(0.67,1)" text-anchor="middle" font-size="10" fill="#333" stroke="#333" stroke-width="0.3">10</text>
<line x1="319.7" y1="179.5" x2="319.7" y2="183.0" stroke="#444" stroke-width="0.9"/>
<text x="0" y="0" transform="translate(319.7,192.1) scale(0.67,1)" text-anchor="middle" font-size="10" fill="#333" stroke="#333" stroke-width="0.3">15</text>
<line x1="205.9" y1="179.5" x2="205.9" y2="183.0" stroke="#444" stroke-width="0.9"/>
<text x="0" y="0" transform="translate(205.9,192.1) scale(0.67,1)" text-anchor="middle" font-size="10" fill="#333" stroke="#333" stroke-width="0.3">20</text>
<line x1="92.0" y1="179.5" x2="92.0" y2="183.0" stroke="#444" stroke-width="0.9"/>
<text x="0" y="0" transform="translate(92.0,192.1) scale(0.67,1)" text-anchor="middle" font-size="10" fill="#333" stroke="#333" stroke-width="0.3">25</text>
<text x="0" y="0" transform="translate(354.5,208.4) scale(0.69,1)" text-anchor="middle" font-size="10.5" fill="#333" stroke="#333" stroke-width="0.25">Track (m)</text>
<text x="0" y="0" transform="translate(8.6,78.2) rotate(-90)" text-anchor="middle" font-size="8.3" font-weight="bold" textLength="50" lengthAdjust="spacing" fill="#333">Depth (m)</text>
<path d="M47.3,451.2 L47.3,285.3 L49.6,285.8 L51,288 L52.4,295 L53.8,302.3 L55.1,309.6 L56.5,311.4 L59.7,314.7 L62.9,317.9 L69.6,325.2 L77,334.1 L84.4,344.4 L90.4,350.4 L94.8,353.3 L102.2,363.7 L107.7,372.2 L111.3,378.9 L119.9,385 L128.5,388.1 L137,391.1 L144.4,396 L150.5,400.9 L157.8,408.9 L170.1,408.9 L172.5,407.7 L177.4,407 L191.3,407 L195,410.1 L201.1,417.3 L207.3,424.4 L215.4,429.5 L225.7,435.7 L232.8,437.3 L242,441.4 L252.2,445.3 L268.6,445.3 L291,445.5 L293.1,446.5 L299.2,446.9 L303.3,444.2 L309.4,441.8 L317.6,441.8 L325.8,438.7 L331.9,437.3 L344.3,437.7 L347.4,436.9 L352.5,438.3 L360.7,438.3 L365.8,435.7 L372.9,433 L383.1,431.2 L391.3,432 L396.4,434 L403.6,434 L411.7,432.6 L419.9,430.5 L428.1,428.5 L434.2,428.1 L442.4,429.9 L450.6,430.5 L457.7,437.7 L464.9,440.2 L470,440.6 L491.3,440.3 L495.7,438.4 L516.1,437.6 L524.9,437 L529.2,434.4 L532.9,424.9 L535.1,423.5 L539.5,422.4 L543.8,421 L548.2,420.1 L575,405 L601.2,391.7 L607.9,387.9 L615.6,383.1 L620.3,378.3 L626.1,370.7 L630.8,361.1 L635.6,350.6 L642.3,341.1 L649.9,330.6 L656.6,320.1 L662.4,311.5 L662.4,451.2 Z" fill="#808080"/><path d="M47.3,285.3 L49.6,285.8 L51,288 L52.4,295 L53.8,302.3 L55.1,309.6 L56.5,311.4 L59.7,314.7 L62.9,317.9 L69.6,325.2 L77,334.1 L84.4,344.4 L90.4,350.4 L94.8,353.3 L102.2,363.7 L107.7,372.2 L111.3,378.9 L119.9,385 L128.5,388.1 L137,391.1 L144.4,396 L150.5,400.9 L157.8,408.9 L170.1,408.9 L172.5,407.7 L177.4,407 L191.3,407 L195,410.1 L201.1,417.3 L207.3,424.4 L215.4,429.5 L225.7,435.7 L232.8,437.3 L242,441.4 L252.2,445.3 L268.6,445.3 L291,445.5 L293.1,446.5 L299.2,446.9 L303.3,444.2 L309.4,441.8 L317.6,441.8 L325.8,438.7 L331.9,437.3 L344.3,437.7 L347.4,436.9 L352.5,438.3 L360.7,438.3 L365.8,435.7 L372.9,433 L383.1,431.2 L391.3,432 L396.4,434 L403.6,434 L411.7,432.6 L419.9,430.5 L428.1,428.5 L434.2,428.1 L442.4,429.9 L450.6,430.5 L457.7,437.7 L464.9,440.2 L470,440.6 L491.3,440.3 L495.7,438.4 L516.1,437.6 L524.9,437 L529.2,434.4 L532.9,424.9 L535.1,423.5 L539.5,422.4 L543.8,421 L548.2,420.1 L575,405 L601.2,391.7 L607.9,387.9 L615.6,383.1 L620.3,378.3 L626.1,370.7 L630.8,361.1 L635.6,350.6 L642.3,341.1 L649.9,330.6 L656.6,320.1 L662.4,311.5" fill="none" stroke="#000" stroke-width="1.6" stroke-linejoin="round"/>
<g fill="#808080">
<rect x="105.2" y="299.4" width="11.3" height="10.2"/>
<rect x="105.2" y="307.8" width="11.3" height="10.2"/>
<rect x="105.2" y="316.2" width="11.3" height="10.2"/>
<rect x="105.2" y="324.6" width="11.3" height="10.2"/>
<rect x="113.7" y="299.4" width="12.6" height="10.2"/>
<rect x="113.7" y="307.8" width="12.6" height="10.2"/>
<rect x="113.7" y="316.2" width="12.6" height="10.2"/>
<rect x="113.7" y="324.6" width="12.6" height="10.2"/>
<rect x="113.7" y="333.0" width="12.6" height="10.2"/>
<rect x="123.5" y="299.4" width="10.6" height="10.2"/>
<rect x="123.5" y="307.8" width="10.6" height="10.2"/>
<rect x="123.5" y="316.2" width="10.6" height="10.2"/>
<rect x="123.5" y="324.6" width="10.6" height="10.2"/>
<rect x="123.5" y="333.0" width="10.6" height="10.2"/>
<rect x="123.5" y="341.4" width="10.6" height="10.2"/>
<rect x="131.3" y="299.4" width="13.2" height="10.2"/>
<rect x="131.3" y="307.8" width="13.2" height="10.2"/>
<rect x="131.3" y="316.2" width="13.2" height="10.2"/>
<rect x="131.3" y="324.6" width="13.2" height="10.2"/>
<rect x="131.3" y="333.0" width="13.2" height="10.2"/>
<rect x="131.3" y="341.4" width="13.2" height="10.2"/>
<rect x="131.3" y="349.8" width="13.2" height="10.2"/>
<rect x="141.7" y="299.4" width="12.6" height="10.2"/>
<rect x="141.7" y="307.8" width="12.6" height="10.2"/>
<rect x="141.7" y="316.2" width="12.6" height="10.2"/>
<rect x="141.7" y="324.6" width="12.6" height="10.2"/>
<rect x="141.7" y="333.0" width="12.6" height="10.2"/>
<rect x="141.7" y="341.4" width="12.6" height="10.2"/>
<rect x="141.7" y="349.8" width="12.6" height="10.2"/>
<rect x="141.7" y="358.2" width="12.6" height="10.2"/>
<rect x="151.5" y="299.4" width="12.0" height="10.2"/>
<rect x="151.5" y="307.8" width="12.0" height="10.2"/>
<rect x="151.5" y="316.2" width="12.0" height="10.2"/>
<rect x="151.5" y="324.6" width="12.0" height="10.2"/>
<rect x="151.5" y="333.0" width="12.0" height="10.2"/>
<rect x="151.5" y="341.4" width="12.0" height="10.2"/>
<rect x="151.5" y="349.8" width="12.0" height="10.2"/>
<rect x="151.5" y="358.2" width="12.0" height="10.2"/>
<rect x="160.7" y="299.4" width="10.8" height="10.2"/>
<rect x="160.7" y="307.8" width="10.8" height="10.2"/>
<rect x="160.7" y="316.2" width="10.8" height="10.2"/>
<rect x="160.7" y="324.6" width="10.8" height="10.2"/>
<rect x="160.7" y="333.0" width="10.8" height="10.2"/>
<rect x="160.7" y="341.4" width="10.8" height="10.2"/>
<rect x="160.7" y="349.8" width="10.8" height="10.2"/>
<rect x="160.7" y="358.2" width="10.8" height="10.2"/>
<rect x="160.7" y="366.6" width="10.8" height="10.2"/>
<rect x="168.7" y="299.4" width="11.9" height="10.2"/>
<rect x="168.7" y="307.8" width="11.9" height="10.2"/>
<rect x="168.7" y="316.2" width="11.9" height="10.2"/>
<rect x="168.7" y="324.6" width="11.9" height="10.2"/>
<rect x="168.7" y="333.0" width="11.9" height="10.2"/>
<rect x="168.7" y="341.4" width="11.9" height="10.2"/>
<rect x="168.7" y="349.8" width="11.9" height="10.2"/>
<rect x="168.7" y="358.2" width="11.9" height="10.2"/>
<rect x="168.7" y="366.6" width="11.9" height="10.2"/>
<rect x="168.7" y="375.0" width="11.9" height="10.2"/>
<rect x="177.8" y="299.4" width="11.8" height="10.2"/>
<rect x="177.8" y="307.8" width="11.8" height="10.2"/>
<rect x="177.8" y="316.2" width="11.8" height="10.2"/>
<rect x="177.8" y="324.6" width="11.8" height="10.2"/>
<rect x="177.8" y="333.0" width="11.8" height="10.2"/>
<rect x="177.8" y="341.4" width="11.8" height="10.2"/>
<rect x="177.8" y="349.8" width="11.8" height="10.2"/>
<rect x="177.8" y="358.2" width="11.8" height="10.2"/>
<rect x="177.8" y="366.6" width="11.8" height="10.2"/>
<rect x="177.8" y="375.0" width="11.8" height="10.2"/>
<rect x="186.8" y="299.4" width="10.5" height="10.2"/>
<rect x="186.8" y="307.8" width="10.5" height="10.2"/>
<rect x="186.8" y="316.2" width="10.5" height="10.2"/>
<rect x="186.8" y="324.6" width="10.5" height="10.2"/>
<rect x="186.8" y="333.0" width="10.5" height="10.2"/>
<rect x="186.8" y="341.4" width="10.5" height="10.2"/>
<rect x="186.8" y="349.8" width="10.5" height="10.2"/>
<rect x="186.8" y="358.2" width="10.5" height="10.2"/>
<rect x="186.8" y="366.6" width="10.5" height="10.2"/>
<rect x="186.8" y="375.0" width="10.5" height="10.2"/>
<rect x="194.5" y="299.4" width="11.0" height="10.2"/>
<rect x="194.5" y="307.8" width="11.0" height="10.2"/>
<rect x="194.5" y="316.2" width="11.0" height="10.2"/>
<rect x="194.5" y="324.6" width="11.0" height="10.2"/>
<rect x="194.5" y="333.0" width="11.0" height="10.2"/>
<rect x="194.5" y="341.4" width="11.0" height="10.2"/>
<rect x="194.5" y="349.8" width="11.0" height="10.2"/>
<rect x="194.5" y="358.2" width="11.0" height="10.2"/>
<rect x="194.5" y="366.6" width="11.0" height="10.2"/>
<rect x="194.5" y="375.0" width="11.0" height="10.2"/>
<rect x="194.5" y="383.4" width="11.0" height="10.2"/>
<rect x="202.7" y="299.4" width="10.8" height="10.2"/>
<rect x="202.7" y="307.8" width="10.8" height="10.2"/>
<rect x="202.7" y="316.2" width="10.8" height="10.2"/>
<rect x="202.7" y="324.6" width="10.8" height="10.2"/>
<rect x="202.7" y="333.0" width="10.8" height="10.2"/>
<rect x="202.7" y="341.4" width="10.8" height="10.2"/>
<rect x="202.7" y="349.8" width="10.8" height="10.2"/>
<rect x="202.7" y="358.2" width="10.8" height="10.2"/>
<rect x="202.7" y="366.6" width="10.8" height="10.2"/>
<rect x="202.7" y="375.0" width="10.8" height="10.2"/>
<rect x="202.7" y="383.4" width="10.8" height="10.2"/>
<rect x="210.7" y="299.4" width="11.3" height="10.2"/>
<rect x="210.7" y="307.8" width="11.3" height="10.2"/>
<rect x="210.7" y="316.2" width="11.3" height="10.2"/>
<rect x="210.7" y="324.6" width="11.3" height="10.2"/>
<rect x="210.7" y="333.0" width="11.3" height="10.2"/>
<rect x="210.7" y="341.4" width="11.3" height="10.2"/>
<rect x="210.7" y="349.8" width="11.3" height="10.2"/>
<rect x="210.7" y="358.2" width="11.3" height="10.2"/>
<rect x="210.7" y="366.6" width="11.3" height="10.2"/>
<rect x="210.7" y="375.0" width="11.3" height="10.2"/>
<rect x="210.7" y="383.4" width="11.3" height="10.2"/>
<rect x="219.2" y="299.4" width="11.4" height="10.2"/>
<rect x="219.2" y="307.8" width="11.4" height="10.2"/>
<rect x="219.2" y="316.2" width="11.4" height="10.2"/>
<rect x="219.2" y="324.6" width="11.4" height="10.2"/>
<rect x="219.2" y="333.0" width="11.4" height="10.2"/>
<rect x="219.2" y="341.4" width="11.4" height="10.2"/>
<rect x="219.2" y="349.8" width="11.4" height="10.2"/>
<rect x="219.2" y="358.2" width="11.4" height="10.2"/>
<rect x="219.2" y="366.6" width="11.4" height="10.2"/>
<rect x="219.2" y="375.0" width="11.4" height="10.2"/>
<rect x="219.2" y="383.4" width="11.4" height="10.2"/>
<rect x="227.8" y="299.4" width="12.6" height="10.2"/>
<rect x="227.8" y="307.8" width="12.6" height="10.2"/>
<rect x="227.8" y="316.2" width="12.6" height="10.2"/>
<rect x="227.8" y="324.6" width="12.6" height="10.2"/>
<rect x="227.8" y="333.0" width="12.6" height="10.2"/>
<rect x="227.8" y="341.4" width="12.6" height="10.2"/>
<rect x="227.8" y="349.8" width="12.6" height="10.2"/>
<rect x="227.8" y="358.2" width="12.6" height="10.2"/>
<rect x="227.8" y="366.6" width="12.6" height="10.2"/>
<rect x="227.8" y="375.0" width="12.6" height="10.2"/>
<rect x="227.8" y="383.4" width="12.6" height="10.2"/>
<rect x="227.8" y="391.8" width="12.6" height="10.2"/>
<rect x="237.6" y="299.4" width="13.8" height="10.2"/>
<rect x="237.6" y="307.8" width="13.8" height="10.2"/>
<rect x="237.6" y="316.2" width="13.8" height="10.2"/>
<rect x="237.6" y="324.6" width="13.8" height="10.2"/>
<rect x="237.6" y="333.0" width="13.8" height="10.2"/>
<rect x="237.6" y="341.4" width="13.8" height="10.2"/>
<rect x="237.6" y="349.8" width="13.8" height="10.2"/>
<rect x="237.6" y="358.2" width="13.8" height="10.2"/>
<rect x="237.6" y="366.6" width="13.8" height="10.2"/>
<rect x="237.6" y="375.0" width="13.8" height="10.2"/>
<rect x="237.6" y="383.4" width="13.8" height="10.2"/>
<rect x="237.6" y="391.8" width="13.8" height="10.2"/>
<rect x="248.6" y="299.4" width="12.1" height="10.2"/>
<rect x="248.6" y="307.8" width="12.1" height="10.2"/>
<rect x="248.6" y="316.2" width="12.1" height="10.2"/>
<rect x="248.6" y="324.6" width="12.1" height="10.2"/>
<rect x="248.6" y="333.0" width="12.1" height="10.2"/>
<rect x="248.6" y="341.4" width="12.1" height="10.2"/>
<rect x="248.6" y="349.8" width="12.1" height="10.2"/>
<rect x="248.6" y="358.2" width="12.1" height="10.2"/>
<rect x="248.6" y="366.6" width="12.1" height="10.2"/>
<rect x="248.6" y="375.0" width="12.1" height="10.2"/>
<rect x="248.6" y="383.4" width="12.1" height="10.2"/>
<rect x="248.6" y="391.8" width="12.1" height="10.2"/>
<rect x="248.6" y="400.2" width="12.1" height="10.2"/>
<rect x="257.9" y="299.4" width="11.1" height="10.2"/>
<rect x="257.9" y="307.8" width="11.1" height="10.2"/>
<rect x="257.9" y="316.2" width="11.1" height="10.2"/>
<rect x="257.9" y="324.6" width="11.1" height="10.2"/>
<rect x="257.9" y="333.0" width="11.1" height="10.2"/>
<rect x="257.9" y="341.4" width="11.1" height="10.2"/>
<rect x="257.9" y="349.8" width="11.1" height="10.2"/>
<rect x="257.9" y="358.2" width="11.1" height="10.2"/>
<rect x="257.9" y="366.6" width="11.1" height="10.2"/>
<rect x="257.9" y="375.0" width="11.1" height="10.2"/>
<rect x="257.9" y="383.4" width="11.1" height="10.2"/>
<rect x="257.9" y="391.8" width="11.1" height="10.2"/>
<rect x="257.9" y="400.2" width="11.1" height="10.2"/>
<rect x="266.2" y="299.4" width="12.6" height="10.2"/>
<rect x="266.2" y="307.8" width="12.6" height="10.2"/>
<rect x="266.2" y="316.2" width="12.6" height="10.2"/>
<rect x="266.2" y="324.6" width="12.6" height="10.2"/>
<rect x="266.2" y="333.0" width="12.6" height="10.2"/>
<rect x="266.2" y="341.4" width="12.6" height="10.2"/>
<rect x="266.2" y="349.8" width="12.6" height="10.2"/>
<rect x="266.2" y="358.2" width="12.6" height="10.2"/>
<rect x="266.2" y="366.6" width="12.6" height="10.2"/>
<rect x="266.2" y="375.0" width="12.6" height="10.2"/>
<rect x="266.2" y="383.4" width="12.6" height="10.2"/>
<rect x="266.2" y="391.8" width="12.6" height="10.2"/>
<rect x="266.2" y="400.2" width="12.6" height="10.2"/>
<rect x="276.0" y="299.4" width="11.3" height="10.2"/>
<rect x="276.0" y="307.8" width="11.3" height="10.2"/>
<rect x="276.0" y="316.2" width="11.3" height="10.2"/>
<rect x="276.0" y="324.6" width="11.3" height="10.2"/>
<rect x="276.0" y="333.0" width="11.3" height="10.2"/>
<rect x="276.0" y="341.4" width="11.3" height="10.2"/>
<rect x="276.0" y="349.8" width="11.3" height="10.2"/>
<rect x="276.0" y="358.2" width="11.3" height="10.2"/>
<rect x="276.0" y="366.6" width="11.3" height="10.2"/>
<rect x="276.0" y="375.0" width="11.3" height="10.2"/>
<rect x="276.0" y="383.4" width="11.3" height="10.2"/>
<rect x="276.0" y="391.8" width="11.3" height="10.2"/>
<rect x="284.5" y="299.4" width="11.4" height="10.2"/>
<rect x="284.5" y="307.8" width="11.4" height="10.2"/>
<rect x="284.5" y="316.2" width="11.4" height="10.2"/>
<rect x="284.5" y="324.6" width="11.4" height="10.2"/>
<rect x="284.5" y="333.0" width="11.4" height="10.2"/>
<rect x="284.5" y="341.4" width="11.4" height="10.2"/>
<rect x="284.5" y="349.8" width="11.4" height="10.2"/>
<rect x="284.5" y="358.2" width="11.4" height="10.2"/>
<rect x="284.5" y="366.6" width="11.4" height="10.2"/>
<rect x="284.5" y="375.0" width="11.4" height="10.2"/>
<rect x="284.5" y="383.4" width="11.4" height="10.2"/>
<rect x="284.5" y="391.8" width="11.4" height="10.2"/>
<rect x="284.5" y="400.2" width="11.4" height="10.2"/>
<rect x="293.1" y="299.4" width="11.1" height="10.2"/>
<rect x="293.1" y="307.8" width="11.1" height="10.2"/>
<rect x="293.1" y="316.2" width="11.1" height="10.2"/>
<rect x="293.1" y="324.6" width="11.1" height="10.2"/>
<rect x="293.1" y="333.0" width="11.1" height="10.2"/>
<rect x="293.1" y="341.4" width="11.1" height="10.2"/>
<rect x="293.1" y="349.8" width="11.1" height="10.2"/>
<rect x="293.1" y="358.2" width="11.1" height="10.2"/>
<rect x="293.1" y="366.6" width="11.1" height="10.2"/>
<rect x="293.1" y="375.0" width="11.1" height="10.2"/>
<rect x="293.1" y="383.4" width="11.1" height="10.2"/>
<rect x="293.1" y="391.8" width="11.1" height="10.2"/>
<rect x="301.4" y="299.4" width="14.1" height="10.2"/>
<rect x="301.4" y="307.8" width="14.1" height="10.2"/>
<rect x="301.4" y="316.2" width="14.1" height="10.2"/>
<rect x="301.4" y="324.6" width="14.1" height="10.2"/>
<rect x="301.4" y="333.0" width="14.1" height="10.2"/>
<rect x="301.4" y="341.4" width="14.1" height="10.2"/>
<rect x="301.4" y="349.8" width="14.1" height="10.2"/>
<rect x="301.4" y="358.2" width="14.1" height="10.2"/>
<rect x="301.4" y="366.6" width="14.1" height="10.2"/>
<rect x="301.4" y="375.0" width="14.1" height="10.2"/>
<rect x="301.4" y="383.4" width="14.1" height="10.2"/>
<rect x="301.4" y="391.8" width="14.1" height="10.2"/>
<rect x="312.7" y="299.4" width="14.0" height="10.2"/>
<rect x="312.7" y="307.8" width="14.0" height="10.2"/>
<rect x="312.7" y="316.2" width="14.0" height="10.2"/>
<rect x="312.7" y="324.6" width="14.0" height="10.2"/>
<rect x="312.7" y="333.0" width="14.0" height="10.2"/>
<rect x="312.7" y="341.4" width="14.0" height="10.2"/>
<rect x="312.7" y="349.8" width="14.0" height="10.2"/>
<rect x="312.7" y="358.2" width="14.0" height="10.2"/>
<rect x="312.7" y="366.6" width="14.0" height="10.2"/>
<rect x="312.7" y="375.0" width="14.0" height="10.2"/>
<rect x="312.7" y="383.4" width="14.0" height="10.2"/>
<rect x="312.7" y="391.8" width="14.0" height="10.2"/>
<rect x="312.7" y="400.2" width="14.0" height="10.2"/>
<rect x="323.9" y="299.4" width="9.4" height="10.2"/>
<rect x="323.9" y="307.8" width="9.4" height="10.2"/>
<rect x="323.9" y="316.2" width="9.4" height="10.2"/>
<rect x="323.9" y="324.6" width="9.4" height="10.2"/>
<rect x="323.9" y="333.0" width="9.4" height="10.2"/>
<rect x="323.9" y="341.4" width="9.4" height="10.2"/>
<rect x="323.9" y="349.8" width="9.4" height="10.2"/>
<rect x="323.9" y="358.2" width="9.4" height="10.2"/>
<rect x="323.9" y="366.6" width="9.4" height="10.2"/>
<rect x="323.9" y="375.0" width="9.4" height="10.2"/>
<rect x="323.9" y="383.4" width="9.4" height="10.2"/>
<rect x="323.9" y="391.8" width="9.4" height="10.2"/>
<rect x="330.5" y="299.4" width="11.7" height="10.2"/>
<rect x="330.5" y="307.8" width="11.7" height="10.2"/>
<rect x="330.5" y="316.2" width="11.7" height="10.2"/>
<rect x="330.5" y="324.6" width="11.7" height="10.2"/>
<rect x="330.5" y="333.0" width="11.7" height="10.2"/>
<rect x="330.5" y="341.4" width="11.7" height="10.2"/>
<rect x="330.5" y="349.8" width="11.7" height="10.2"/>
<rect x="330.5" y="358.2" width="11.7" height="10.2"/>
<rect x="330.5" y="366.6" width="11.7" height="10.2"/>
<rect x="330.5" y="375.0" width="11.7" height="10.2"/>
<rect x="330.5" y="383.4" width="11.7" height="10.2"/>
<rect x="330.5" y="391.8" width="11.7" height="10.2"/>
<rect x="339.4" y="299.4" width="10.1" height="10.2"/>
<rect x="339.4" y="307.8" width="10.1" height="10.2"/>
<rect x="339.4" y="316.2" width="10.1" height="10.2"/>
<rect x="339.4" y="324.6" width="10.1" height="10.2"/>
<rect x="339.4" y="333.0" width="10.1" height="10.2"/>
<rect x="339.4" y="341.4" width="10.1" height="10.2"/>
<rect x="339.4" y="349.8" width="10.1" height="10.2"/>
<rect x="339.4" y="358.2" width="10.1" height="10.2"/>
<rect x="339.4" y="366.6" width="10.1" height="10.2"/>
<rect x="339.4" y="375.0" width="10.1" height="10.2"/>
<rect x="339.4" y="383.4" width="10.1" height="10.2"/>
<rect x="339.4" y="391.8" width="10.1" height="10.2"/>
<rect x="346.7" y="299.4" width="11.2" height="10.2"/>
<rect x="346.7" y="307.8" width="11.2" height="10.2"/>
<rect x="346.7" y="316.2" width="11.2" height="10.2"/>
<rect x="346.7" y="324.6" width="11.2" height="10.2"/>
<rect x="346.7" y="333.0" width="11.2" height="10.2"/>
<rect x="346.7" y="341.4" width="11.2" height="10.2"/>
<rect x="346.7" y="349.8" width="11.2" height="10.2"/>
<rect x="346.7" y="358.2" width="11.2" height="10.2"/>
<rect x="346.7" y="366.6" width="11.2" height="10.2"/>
<rect x="346.7" y="375.0" width="11.2" height="10.2"/>
<rect x="346.7" y="383.4" width="11.2" height="10.2"/>
<rect x="346.7" y="391.8" width="11.2" height="10.2"/>
<rect x="355.1" y="299.4" width="8.5" height="10.2"/>
<rect x="355.1" y="307.8" width="8.5" height="10.2"/>
<rect x="355.1" y="316.2" width="8.5" height="10.2"/>
<rect x="355.1" y="324.6" width="8.5" height="10.2"/>
<rect x="355.1" y="333.0" width="8.5" height="10.2"/>
<rect x="355.1" y="341.4" width="8.5" height="10.2"/>
<rect x="355.1" y="349.8" width="8.5" height="10.2"/>
<rect x="355.1" y="358.2" width="8.5" height="10.2"/>
<rect x="355.1" y="366.6" width="8.5" height="10.2"/>
<rect x="355.1" y="375.0" width="8.5" height="10.2"/>
<rect x="355.1" y="383.4" width="8.5" height="10.2"/>
<rect x="355.1" y="391.8" width="8.5" height="10.2"/>
<rect x="355.1" y="400.2" width="8.5" height="10.2"/>
<rect x="360.8" y="299.4" width="8.9" height="10.2"/>
<rect x="360.8" y="307.8" width="8.9" height="10.2"/>
<rect x="360.8" y="316.2" width="8.9" height="10.2"/>
<rect x="360.8" y="324.6" width="8.9" height="10.2"/>
<rect x="360.8" y="333.0" width="8.9" height="10.2"/>
<rect x="360.8" y="341.4" width="8.9" height="10.2"/>
<rect x="360.8" y="349.8" width="8.9" height="10.2"/>
<rect x="360.8" y="358.2" width="8.9" height="10.2"/>
<rect x="360.8" y="366.6" width="8.9" height="10.2"/>
<rect x="360.8" y="375.0" width="8.9" height="10.2"/>
<rect x="360.8" y="383.4" width="8.9" height="10.2"/>
<rect x="360.8" y="391.8" width="8.9" height="10.2"/>
<rect x="360.8" y="400.2" width="8.9" height="10.2"/>
<rect x="366.9" y="299.4" width="11.4" height="10.2"/>
<rect x="366.9" y="307.8" width="11.4" height="10.2"/>
<rect x="366.9" y="316.2" width="11.4" height="10.2"/>
<rect x="366.9" y="324.6" width="11.4" height="10.2"/>
<rect x="366.9" y="333.0" width="11.4" height="10.2"/>
<rect x="366.9" y="341.4" width="11.4" height="10.2"/>
<rect x="366.9" y="349.8" width="11.4" height="10.2"/>
<rect x="366.9" y="358.2" width="11.4" height="10.2"/>
<rect x="366.9" y="366.6" width="11.4" height="10.2"/>
<rect x="366.9" y="375.0" width="11.4" height="10.2"/>
<rect x="366.9" y="383.4" width="11.4" height="10.2"/>
<rect x="366.9" y="391.8" width="11.4" height="10.2"/>
<rect x="366.9" y="400.2" width="11.4" height="10.2"/>
<rect x="375.5" y="299.4" width="12.6" height="10.2"/>
<rect x="375.5" y="307.8" width="12.6" height="10.2"/>
<rect x="375.5" y="316.2" width="12.6" height="10.2"/>
<rect x="375.5" y="324.6" width="12.6" height="10.2"/>
<rect x="375.5" y="333.0" width="12.6" height="10.2"/>
<rect x="375.5" y="341.4" width="12.6" height="10.2"/>
<rect x="375.5" y="349.8" width="12.6" height="10.2"/>
<rect x="375.5" y="358.2" width="12.6" height="10.2"/>
<rect x="375.5" y="366.6" width="12.6" height="10.2"/>
<rect x="375.5" y="375.0" width="12.6" height="10.2"/>
<rect x="375.5" y="383.4" width="12.6" height="10.2"/>
<rect x="385.3" y="299.4" width="8.3" height="10.2"/>
<rect x="385.3" y="307.8" width="8.3" height="10.2"/>
<rect x="385.3" y="316.2" width="8.3" height="10.2"/>
<rect x="385.3" y="324.6" width="8.3" height="10.2"/>
<rect x="385.3" y="333.0" width="8.3" height="10.2"/>
<rect x="385.3" y="341.4" width="8.3" height="10.2"/>
<rect x="385.3" y="349.8" width="8.3" height="10.2"/>
<rect x="385.3" y="358.2" width="8.3" height="10.2"/>
<rect x="385.3" y="366.6" width="8.3" height="10.2"/>
<rect x="385.3" y="375.0" width="8.3" height="10.2"/>
<rect x="385.3" y="383.4" width="8.3" height="10.2"/>
<rect x="385.3" y="391.8" width="8.3" height="10.2"/>
<rect x="390.8" y="299.4" width="13.8" height="10.2"/>
<rect x="390.8" y="307.8" width="13.8" height="10.2"/>
<rect x="390.8" y="316.2" width="13.8" height="10.2"/>
<rect x="390.8" y="324.6" width="13.8" height="10.2"/>
<rect x="390.8" y="333.0" width="13.8" height="10.2"/>
<rect x="390.8" y="341.4" width="13.8" height="10.2"/>
<rect x="390.8" y="349.8" width="13.8" height="10.2"/>
<rect x="390.8" y="358.2" width="13.8" height="10.2"/>
<rect x="390.8" y="366.6" width="13.8" height="10.2"/>
<rect x="390.8" y="375.0" width="13.8" height="10.2"/>
<rect x="390.8" y="383.4" width="13.8" height="10.2"/>
<rect x="390.8" y="391.8" width="13.8" height="10.2"/>
<rect x="401.8" y="299.4" width="9.5" height="10.2"/>
<rect x="401.8" y="307.8" width="9.5" height="10.2"/>
<rect x="401.8" y="316.2" width="9.5" height="10.2"/>
<rect x="401.8" y="324.6" width="9.5" height="10.2"/>
<rect x="401.8" y="333.0" width="9.5" height="10.2"/>
<rect x="401.8" y="341.4" width="9.5" height="10.2"/>
<rect x="401.8" y="349.8" width="9.5" height="10.2"/>
<rect x="401.8" y="358.2" width="9.5" height="10.2"/>
<rect x="401.8" y="366.6" width="9.5" height="10.2"/>
<rect x="401.8" y="375.0" width="9.5" height="10.2"/>
<rect x="401.8" y="383.4" width="9.5" height="10.2"/>
<rect x="401.8" y="391.8" width="9.5" height="10.2"/>
<rect x="401.8" y="400.2" width="9.5" height="10.2"/>
<rect x="408.5" y="299.4" width="11.3" height="10.2"/>
<rect x="408.5" y="307.8" width="11.3" height="10.2"/>
<rect x="408.5" y="316.2" width="11.3" height="10.2"/>
<rect x="408.5" y="324.6" width="11.3" height="10.2"/>
<rect x="408.5" y="333.0" width="11.3" height="10.2"/>
<rect x="408.5" y="341.4" width="11.3" height="10.2"/>
<rect x="408.5" y="349.8" width="11.3" height="10.2"/>
<rect x="408.5" y="358.2" width="11.3" height="10.2"/>
<rect x="408.5" y="366.6" width="11.3" height="10.2"/>
<rect x="408.5" y="375.0" width="11.3" height="10.2"/>
<rect x="408.5" y="383.4" width="11.3" height="10.2"/>
<rect x="417.0" y="299.4" width="12.6" height="10.2"/>
<rect x="417.0" y="307.8" width="12.6" height="10.2"/>
<rect x="417.0" y="316.2" width="12.6" height="10.2"/>
<rect x="417.0" y="324.6" width="12.6" height="10.2"/>
<rect x="417.0" y="333.0" width="12.6" height="10.2"/>
<rect x="417.0" y="341.4" width="12.6" height="10.2"/>
<rect x="417.0" y="349.8" width="12.6" height="10.2"/>
<rect x="417.0" y="358.2" width="12.6" height="10.2"/>
<rect x="417.0" y="366.6" width="12.6" height="10.2"/>
<rect x="417.0" y="375.0" width="12.6" height="10.2"/>
<rect x="417.0" y="383.4" width="12.6" height="10.2"/>
<rect x="417.0" y="391.8" width="12.6" height="10.2"/>
<rect x="426.8" y="299.4" width="10.8" height="10.2"/>
<rect x="426.8" y="307.8" width="10.8" height="10.2"/>
<rect x="426.8" y="316.2" width="10.8" height="10.2"/>
<rect x="426.8" y="324.6" width="10.8" height="10.2"/>
<rect x="426.8" y="333.0" width="10.8" height="10.2"/>
<rect x="426.8" y="341.4" width="10.8" height="10.2"/>
<rect x="426.8" y="349.8" width="10.8" height="10.2"/>
<rect x="426.8" y="358.2" width="10.8" height="10.2"/>
<rect x="426.8" y="366.6" width="10.8" height="10.2"/>
<rect x="426.8" y="375.0" width="10.8" height="10.2"/>
<rect x="426.8" y="383.4" width="10.8" height="10.2"/>
<rect x="434.8" y="299.4" width="13.1" height="10.2"/>
<rect x="434.8" y="307.8" width="13.1" height="10.2"/>
<rect x="434.8" y="316.2" width="13.1" height="10.2"/>
<rect x="434.8" y="324.6" width="13.1" height="10.2"/>
<rect x="434.8" y="333.0" width="13.1" height="10.2"/>
<rect x="434.8" y="341.4" width="13.1" height="10.2"/>
<rect x="434.8" y="349.8" width="13.1" height="10.2"/>
<rect x="434.8" y="358.2" width="13.1" height="10.2"/>
<rect x="434.8" y="366.6" width="13.1" height="10.2"/>
<rect x="434.8" y="375.0" width="13.1" height="10.2"/>
<rect x="434.8" y="383.4" width="13.1" height="10.2"/>
<rect x="434.8" y="391.8" width="13.1" height="10.2"/>
<rect x="445.1" y="299.4" width="11.1" height="10.2"/>
<rect x="445.1" y="307.8" width="11.1" height="10.2"/>
<rect x="445.1" y="316.2" width="11.1" height="10.2"/>
<rect x="445.1" y="324.6" width="11.1" height="10.2"/>
<rect x="445.1" y="333.0" width="11.1" height="10.2"/>
<rect x="445.1" y="341.4" width="11.1" height="10.2"/>
<rect x="445.1" y="349.8" width="11.1" height="10.2"/>
<rect x="445.1" y="358.2" width="11.1" height="10.2"/>
<rect x="445.1" y="366.6" width="11.1" height="10.2"/>
<rect x="445.1" y="375.0" width="11.1" height="10.2"/>
<rect x="445.1" y="383.4" width="11.1" height="10.2"/>
<rect x="445.1" y="391.8" width="11.1" height="10.2"/>
<rect x="453.4" y="299.4" width="7.7" height="10.2"/>
<rect x="453.4" y="307.8" width="7.7" height="10.2"/>
<rect x="453.4" y="316.2" width="7.7" height="10.2"/>
<rect x="453.4" y="324.6" width="7.7" height="10.2"/>
<rect x="453.4" y="333.0" width="7.7" height="10.2"/>
<rect x="453.4" y="341.4" width="7.7" height="10.2"/>
<rect x="453.4" y="349.8" width="7.7" height="10.2"/>
<rect x="453.4" y="358.2" width="7.7" height="10.2"/>
<rect x="453.4" y="366.6" width="7.7" height="10.2"/>
<rect x="453.4" y="375.0" width="7.7" height="10.2"/>
<rect x="453.4" y="383.4" width="7.7" height="10.2"/>
<rect x="453.4" y="391.8" width="7.7" height="10.2"/>
<rect x="458.3" y="299.4" width="12.7" height="10.2"/>
<rect x="458.3" y="307.8" width="12.7" height="10.2"/>
<rect x="458.3" y="316.2" width="12.7" height="10.2"/>
<rect x="458.3" y="324.6" width="12.7" height="10.2"/>
<rect x="458.3" y="333.0" width="12.7" height="10.2"/>
<rect x="458.3" y="341.4" width="12.7" height="10.2"/>
<rect x="458.3" y="349.8" width="12.7" height="10.2"/>
<rect x="458.3" y="358.2" width="12.7" height="10.2"/>
<rect x="458.3" y="366.6" width="12.7" height="10.2"/>
<rect x="458.3" y="375.0" width="12.7" height="10.2"/>
<rect x="458.3" y="383.4" width="12.7" height="10.2"/>
<rect x="458.3" y="391.8" width="12.7" height="10.2"/>
<rect x="468.2" y="299.4" width="9.9" height="10.2"/>
<rect x="468.2" y="307.8" width="9.9" height="10.2"/>
<rect x="468.2" y="316.2" width="9.9" height="10.2"/>
<rect x="468.2" y="324.6" width="9.9" height="10.2"/>
<rect x="468.2" y="333.0" width="9.9" height="10.2"/>
<rect x="468.2" y="341.4" width="9.9" height="10.2"/>
<rect x="468.2" y="349.8" width="9.9" height="10.2"/>
<rect x="468.2" y="358.2" width="9.9" height="10.2"/>
<rect x="468.2" y="366.6" width="9.9" height="10.2"/>
<rect x="468.2" y="375.0" width="9.9" height="10.2"/>
<rect x="468.2" y="383.4" width="9.9" height="10.2"/>
<rect x="468.2" y="391.8" width="9.9" height="10.2"/>
<rect x="468.2" y="400.2" width="9.9" height="10.2"/>
<rect x="475.3" y="299.4" width="10.4" height="10.2"/>
<rect x="475.3" y="307.8" width="10.4" height="10.2"/>
<rect x="475.3" y="316.2" width="10.4" height="10.2"/>
<rect x="475.3" y="324.6" width="10.4" height="10.2"/>
<rect x="475.3" y="333.0" width="10.4" height="10.2"/>
<rect x="475.3" y="341.4" width="10.4" height="10.2"/>
<rect x="475.3" y="349.8" width="10.4" height="10.2"/>
<rect x="475.3" y="358.2" width="10.4" height="10.2"/>
<rect x="475.3" y="366.6" width="10.4" height="10.2"/>
<rect x="475.3" y="375.0" width="10.4" height="10.2"/>
<rect x="475.3" y="383.4" width="10.4" height="10.2"/>
<rect x="475.3" y="391.8" width="10.4" height="10.2"/>
<rect x="482.9" y="299.4" width="9.8" height="10.2"/>
<rect x="482.9" y="307.8" width="9.8" height="10.2"/>
<rect x="482.9" y="316.2" width="9.8" height="10.2"/>
<rect x="482.9" y="324.6" width="9.8" height="10.2"/>
<rect x="482.9" y="333.0" width="9.8" height="10.2"/>
<rect x="482.9" y="341.4" width="9.8" height="10.2"/>
<rect x="482.9" y="349.8" width="9.8" height="10.2"/>
<rect x="482.9" y="358.2" width="9.8" height="10.2"/>
<rect x="482.9" y="366.6" width="9.8" height="10.2"/>
<rect x="482.9" y="375.0" width="9.8" height="10.2"/>
<rect x="482.9" y="383.4" width="9.8" height="10.2"/>
<rect x="482.9" y="391.8" width="9.8" height="10.2"/>
<rect x="482.9" y="400.2" width="9.8" height="10.2"/>
<rect x="489.9" y="299.4" width="9.9" height="10.2"/>
<rect x="489.9" y="307.8" width="9.9" height="10.2"/>
<rect x="489.9" y="316.2" width="9.9" height="10.2"/>
<rect x="489.9" y="324.6" width="9.9" height="10.2"/>
<rect x="489.9" y="333.0" width="9.9" height="10.2"/>
<rect x="489.9" y="341.4" width="9.9" height="10.2"/>
<rect x="489.9" y="349.8" width="9.9" height="10.2"/>
<rect x="489.9" y="358.2" width="9.9" height="10.2"/>
<rect x="489.9" y="366.6" width="9.9" height="10.2"/>
<rect x="489.9" y="375.0" width="9.9" height="10.2"/>
<rect x="489.9" y="383.4" width="9.9" height="10.2"/>
<rect x="489.9" y="391.8" width="9.9" height="10.2"/>
<rect x="489.9" y="400.2" width="9.9" height="10.2"/>
<rect x="497.0" y="299.4" width="10.1" height="10.2"/>
<rect x="497.0" y="307.8" width="10.1" height="10.2"/>
<rect x="497.0" y="316.2" width="10.1" height="10.2"/>
<rect x="497.0" y="324.6" width="10.1" height="10.2"/>
<rect x="497.0" y="333.0" width="10.1" height="10.2"/>
<rect x="497.0" y="341.4" width="10.1" height="10.2"/>
<rect x="497.0" y="349.8" width="10.1" height="10.2"/>
<rect x="497.0" y="358.2" width="10.1" height="10.2"/>
<rect x="497.0" y="366.6" width="10.1" height="10.2"/>
<rect x="497.0" y="375.0" width="10.1" height="10.2"/>
<rect x="497.0" y="383.4" width="10.1" height="10.2"/>
<rect x="497.0" y="391.8" width="10.1" height="10.2"/>
<rect x="504.3" y="299.4" width="9.5" height="10.2"/>
<rect x="504.3" y="307.8" width="9.5" height="10.2"/>
<rect x="504.3" y="316.2" width="9.5" height="10.2"/>
<rect x="504.3" y="324.6" width="9.5" height="10.2"/>
<rect x="504.3" y="333.0" width="9.5" height="10.2"/>
<rect x="504.3" y="341.4" width="9.5" height="10.2"/>
<rect x="504.3" y="349.8" width="9.5" height="10.2"/>
<rect x="504.3" y="358.2" width="9.5" height="10.2"/>
<rect x="504.3" y="366.6" width="9.5" height="10.2"/>
<rect x="504.3" y="375.0" width="9.5" height="10.2"/>
<rect x="504.3" y="383.4" width="9.5" height="10.2"/>
<rect x="504.3" y="391.8" width="9.5" height="10.2"/>
<rect x="511.0" y="299.4" width="10.5" height="10.2"/>
<rect x="511.0" y="307.8" width="10.5" height="10.2"/>
<rect x="511.0" y="316.2" width="10.5" height="10.2"/>
<rect x="511.0" y="324.6" width="10.5" height="10.2"/>
<rect x="511.0" y="333.0" width="10.5" height="10.2"/>
<rect x="511.0" y="341.4" width="10.5" height="10.2"/>
<rect x="511.0" y="349.8" width="10.5" height="10.2"/>
<rect x="511.0" y="358.2" width="10.5" height="10.2"/>
<rect x="511.0" y="366.6" width="10.5" height="10.2"/>
<rect x="511.0" y="375.0" width="10.5" height="10.2"/>
<rect x="511.0" y="383.4" width="10.5" height="10.2"/>
<rect x="518.7" y="299.4" width="9.2" height="10.2"/>
<rect x="518.7" y="307.8" width="9.2" height="10.2"/>
<rect x="518.7" y="316.2" width="9.2" height="10.2"/>
<rect x="518.7" y="324.6" width="9.2" height="10.2"/>
<rect x="518.7" y="333.0" width="9.2" height="10.2"/>
<rect x="518.7" y="341.4" width="9.2" height="10.2"/>
<rect x="518.7" y="349.8" width="9.2" height="10.2"/>
<rect x="518.7" y="358.2" width="9.2" height="10.2"/>
<rect x="518.7" y="366.6" width="9.2" height="10.2"/>
<rect x="518.7" y="375.0" width="9.2" height="10.2"/>
<rect x="518.7" y="383.4" width="9.2" height="10.2"/>
<rect x="525.1" y="299.4" width="7.7" height="10.2"/>
<rect x="525.1" y="307.8" width="7.7" height="10.2"/>
<rect x="525.1" y="316.2" width="7.7" height="10.2"/>
<rect x="525.1" y="324.6" width="7.7" height="10.2"/>
<rect x="525.1" y="333.0" width="7.7" height="10.2"/>
<rect x="525.1" y="341.4" width="7.7" height="10.2"/>
<rect x="525.1" y="349.8" width="7.7" height="10.2"/>
<rect x="525.1" y="358.2" width="7.7" height="10.2"/>
<rect x="525.1" y="366.6" width="7.7" height="10.2"/>
<rect x="525.1" y="375.0" width="7.7" height="10.2"/>
<rect x="525.1" y="383.4" width="7.7" height="10.2"/>
<rect x="530.0" y="299.4" width="7.4" height="10.2"/>
<rect x="530.0" y="307.8" width="7.4" height="10.2"/>
<rect x="530.0" y="316.2" width="7.4" height="10.2"/>
<rect x="530.0" y="324.6" width="7.4" height="10.2"/>
<rect x="530.0" y="333.0" width="7.4" height="10.2"/>
<rect x="530.0" y="341.4" width="7.4" height="10.2"/>
<rect x="530.0" y="349.8" width="7.4" height="10.2"/>
<rect x="530.0" y="358.2" width="7.4" height="10.2"/>
<rect x="530.0" y="366.6" width="7.4" height="10.2"/>
<rect x="530.0" y="375.0" width="7.4" height="10.2"/>
<rect x="530.0" y="383.4" width="7.4" height="10.2"/>
<rect x="534.6" y="299.4" width="7.6" height="10.2"/>
<rect x="534.6" y="307.8" width="7.6" height="10.2"/>
<rect x="534.6" y="316.2" width="7.6" height="10.2"/>
<rect x="534.6" y="324.6" width="7.6" height="10.2"/>
<rect x="534.6" y="333.0" width="7.6" height="10.2"/>
<rect x="534.6" y="341.4" width="7.6" height="10.2"/>
<rect x="534.6" y="349.8" width="7.6" height="10.2"/>
<rect x="534.6" y="358.2" width="7.6" height="10.2"/>
<rect x="534.6" y="366.6" width="7.6" height="10.2"/>
<rect x="534.6" y="375.0" width="7.6" height="10.2"/>
<rect x="539.4" y="299.4" width="10.3" height="10.2"/>
<rect x="539.4" y="307.8" width="10.3" height="10.2"/>
<rect x="539.4" y="316.2" width="10.3" height="10.2"/>
<rect x="539.4" y="324.6" width="10.3" height="10.2"/>
<rect x="539.4" y="333.0" width="10.3" height="10.2"/>
<rect x="539.4" y="341.4" width="10.3" height="10.2"/>
<rect x="539.4" y="349.8" width="10.3" height="10.2"/>
<rect x="539.4" y="358.2" width="10.3" height="10.2"/>
<rect x="539.4" y="366.6" width="10.3" height="10.2"/>
<rect x="539.4" y="375.0" width="10.3" height="10.2"/>
<rect x="539.4" y="383.4" width="10.3" height="10.2"/>
<rect x="546.9" y="299.4" width="9.6" height="10.2"/>
<rect x="546.9" y="307.8" width="9.6" height="10.2"/>
<rect x="546.9" y="316.2" width="9.6" height="10.2"/>
<rect x="546.9" y="324.6" width="9.6" height="10.2"/>
<rect x="546.9" y="333.0" width="9.6" height="10.2"/>
<rect x="546.9" y="341.4" width="9.6" height="10.2"/>
<rect x="546.9" y="349.8" width="9.6" height="10.2"/>
<rect x="546.9" y="358.2" width="9.6" height="10.2"/>
<rect x="546.9" y="366.6" width="9.6" height="10.2"/>
<rect x="553.7" y="299.4" width="10.1" height="10.2"/>
<rect x="553.7" y="307.8" width="10.1" height="10.2"/>
<rect x="553.7" y="316.2" width="10.1" height="10.2"/>
<rect x="553.7" y="324.6" width="10.1" height="10.2"/>
<rect x="553.7" y="333.0" width="10.1" height="10.2"/>
<rect x="553.7" y="341.4" width="10.1" height="10.2"/>
<rect x="553.7" y="349.8" width="10.1" height="10.2"/>
<rect x="553.7" y="358.2" width="10.1" height="10.2"/>
<rect x="553.7" y="366.6" width="10.1" height="10.2"/>
<rect x="553.7" y="375.0" width="10.1" height="10.2"/>
<rect x="561.0" y="299.4" width="12.0" height="10.2"/>
<rect x="561.0" y="307.8" width="12.0" height="10.2"/>
<rect x="561.0" y="316.2" width="12.0" height="10.2"/>
<rect x="561.0" y="324.6" width="12.0" height="10.2"/>
<rect x="561.0" y="333.0" width="12.0" height="10.2"/>
<rect x="561.0" y="341.4" width="12.0" height="10.2"/>
<rect x="561.0" y="349.8" width="12.0" height="10.2"/>
<rect x="561.0" y="358.2" width="12.0" height="10.2"/>
<rect x="561.0" y="366.6" width="12.0" height="10.2"/>
<rect x="570.2" y="299.4" width="7.1" height="10.2"/>
<rect x="570.2" y="307.8" width="7.1" height="10.2"/>
<rect x="570.2" y="316.2" width="7.1" height="10.2"/>
<rect x="570.2" y="324.6" width="7.1" height="10.2"/>
<rect x="570.2" y="333.0" width="7.1" height="10.2"/>
<rect x="570.2" y="341.4" width="7.1" height="10.2"/>
<rect x="570.2" y="349.8" width="7.1" height="10.2"/>
<rect x="570.2" y="358.2" width="7.1" height="10.2"/>
<rect x="570.2" y="366.6" width="7.1" height="10.2"/>
<rect x="574.5" y="299.4" width="10.7" height="10.2"/>
<rect x="574.5" y="307.8" width="10.7" height="10.2"/>
<rect x="574.5" y="316.2" width="10.7" height="10.2"/>
<rect x="574.5" y="324.6" width="10.7" height="10.2"/>
<rect x="574.5" y="333.0" width="10.7" height="10.2"/>
<rect x="574.5" y="341.4" width="10.7" height="10.2"/>
<rect x="574.5" y="349.8" width="10.7" height="10.2"/>
<rect x="574.5" y="358.2" width="10.7" height="10.2"/>
<rect x="582.4" y="299.4" width="6.5" height="10.2"/>
<rect x="582.4" y="307.8" width="6.5" height="10.2"/>
<rect x="582.4" y="316.2" width="6.5" height="10.2"/>
<rect x="582.4" y="324.6" width="6.5" height="10.2"/>
<rect x="582.4" y="333.0" width="6.5" height="10.2"/>
<rect x="582.4" y="341.4" width="6.5" height="10.2"/>
<rect x="582.4" y="349.8" width="6.5" height="10.2"/>
<rect x="582.4" y="358.2" width="6.5" height="10.2"/>
<rect x="586.1" y="299.4" width="8.3" height="10.2"/>
<rect x="586.1" y="307.8" width="8.3" height="10.2"/>
<rect x="586.1" y="316.2" width="8.3" height="10.2"/>
<rect x="586.1" y="324.6" width="8.3" height="10.2"/>
<rect x="586.1" y="333.0" width="8.3" height="10.2"/>
<rect x="586.1" y="341.4" width="8.3" height="10.2"/>
<rect x="586.1" y="349.8" width="8.3" height="10.2"/>
<rect x="586.1" y="358.2" width="8.3" height="10.2"/>
<rect x="58.3" y="297.5" width="8.3" height="5.9"/>
<rect x="63.8" y="297.5" width="7.1" height="5.9"/>
<rect x="63.8" y="301.6" width="7.1" height="6.0"/>
<rect x="68.1" y="297.5" width="9.5" height="5.9"/>
<rect x="68.1" y="301.6" width="9.5" height="6.0"/>
<rect x="68.1" y="305.8" width="9.5" height="5.9"/>
<rect x="74.8" y="297.5" width="10.1" height="5.9"/>
<rect x="74.8" y="301.6" width="10.1" height="6.0"/>
<rect x="74.8" y="305.8" width="10.1" height="5.9"/>
<rect x="74.8" y="309.9" width="10.1" height="6.0"/>
<rect x="82.1" y="297.5" width="8.9" height="5.9"/>
<rect x="82.1" y="301.6" width="8.9" height="6.0"/>
<rect x="82.1" y="305.8" width="8.9" height="5.9"/>
<rect x="82.1" y="309.9" width="8.9" height="6.0"/>
<rect x="82.1" y="314.1" width="8.9" height="5.9"/>
<rect x="82.1" y="318.2" width="8.9" height="5.9"/>
<rect x="88.2" y="297.5" width="15.1" height="5.9"/>
<rect x="88.2" y="301.6" width="15.1" height="6.0"/>
<rect x="88.2" y="305.8" width="15.1" height="5.9"/>
<rect x="88.2" y="309.9" width="15.1" height="6.0"/>
<rect x="88.2" y="314.1" width="15.1" height="5.9"/>
<rect x="88.2" y="318.2" width="15.1" height="5.9"/>
<rect x="88.2" y="322.4" width="15.1" height="6.0"/>
<rect x="88.2" y="326.6" width="15.1" height="5.9"/>
<rect x="100.5" y="297.5" width="7.5" height="5.9"/>
<rect x="100.5" y="301.6" width="7.5" height="6.0"/>
<rect x="100.5" y="305.8" width="7.5" height="5.9"/>
<rect x="100.5" y="309.9" width="7.5" height="6.0"/>
<rect x="100.5" y="314.1" width="7.5" height="5.9"/>
<rect x="100.5" y="318.2" width="7.5" height="5.9"/>
<rect x="100.5" y="322.4" width="7.5" height="6.0"/>
<rect x="100.5" y="326.6" width="7.5" height="5.9"/>
<rect x="100.5" y="330.7" width="7.5" height="6.0"/>
<rect x="591.6" y="297.5" width="11.5" height="5.9"/>
<rect x="591.6" y="301.6" width="11.5" height="6.0"/>
<rect x="591.6" y="305.8" width="11.5" height="5.9"/>
<rect x="591.6" y="309.9" width="11.5" height="6.0"/>
<rect x="591.6" y="314.1" width="11.5" height="5.9"/>
<rect x="591.6" y="318.2" width="11.5" height="5.9"/>
<rect x="591.6" y="322.4" width="11.5" height="6.0"/>
<rect x="591.6" y="326.6" width="11.5" height="5.9"/>
<rect x="591.6" y="330.7" width="11.5" height="6.0"/>
<rect x="591.6" y="334.9" width="11.5" height="5.9"/>
<rect x="591.6" y="339.0" width="11.5" height="6.0"/>
<rect x="591.6" y="343.2" width="11.5" height="5.9"/>
<rect x="591.6" y="347.3" width="11.5" height="5.9"/>
<rect x="591.6" y="351.4" width="11.5" height="6.0"/>
<rect x="591.6" y="355.6" width="11.5" height="5.9"/>
<rect x="591.6" y="359.8" width="11.5" height="6.0"/>
<rect x="600.3" y="297.5" width="13.0" height="5.9"/>
<rect x="600.3" y="301.6" width="13.0" height="6.0"/>
<rect x="600.3" y="305.8" width="13.0" height="5.9"/>
<rect x="600.3" y="309.9" width="13.0" height="6.0"/>
<rect x="600.3" y="314.1" width="13.0" height="5.9"/>
<rect x="600.3" y="318.2" width="13.0" height="5.9"/>
<rect x="600.3" y="322.4" width="13.0" height="6.0"/>
<rect x="600.3" y="326.6" width="13.0" height="5.9"/>
<rect x="600.3" y="330.7" width="13.0" height="6.0"/>
<rect x="600.3" y="334.9" width="13.0" height="5.9"/>
<rect x="600.3" y="339.0" width="13.0" height="6.0"/>
<rect x="600.3" y="343.2" width="13.0" height="5.9"/>
<rect x="600.3" y="347.3" width="13.0" height="5.9"/>
<rect x="600.3" y="351.4" width="13.0" height="6.0"/>
<rect x="600.3" y="355.6" width="13.0" height="5.9"/>
<rect x="610.5" y="297.5" width="13.2" height="5.9"/>
<rect x="610.5" y="301.6" width="13.2" height="6.0"/>
<rect x="610.5" y="305.8" width="13.2" height="5.9"/>
<rect x="610.5" y="309.9" width="13.2" height="6.0"/>
<rect x="610.5" y="314.1" width="13.2" height="5.9"/>
<rect x="610.5" y="318.2" width="13.2" height="5.9"/>
<rect x="610.5" y="322.4" width="13.2" height="6.0"/>
<rect x="610.5" y="326.6" width="13.2" height="5.9"/>
<rect x="610.5" y="330.7" width="13.2" height="6.0"/>
<rect x="610.5" y="334.9" width="13.2" height="5.9"/>
<rect x="610.5" y="339.0" width="13.2" height="6.0"/>
<rect x="610.5" y="343.2" width="13.2" height="5.9"/>
<rect x="620.9" y="297.5" width="11.1" height="5.9"/>
<rect x="620.9" y="301.6" width="11.1" height="6.0"/>
<rect x="620.9" y="305.8" width="11.1" height="5.9"/>
<rect x="620.9" y="309.9" width="11.1" height="6.0"/>
<rect x="620.9" y="314.1" width="11.1" height="5.9"/>
<rect x="620.9" y="318.2" width="11.1" height="5.9"/>
<rect x="620.9" y="322.4" width="11.1" height="6.0"/>
<rect x="620.9" y="326.6" width="11.1" height="5.9"/>
<rect x="620.9" y="330.7" width="11.1" height="6.0"/>
<rect x="620.9" y="334.9" width="11.1" height="5.9"/>
<rect x="629.2" y="297.5" width="11.3" height="5.9"/>
<rect x="629.2" y="301.6" width="11.3" height="6.0"/>
<rect x="629.2" y="305.8" width="11.3" height="5.9"/>
<rect x="629.2" y="309.9" width="11.3" height="6.0"/>
<rect x="629.2" y="314.1" width="11.3" height="5.9"/>
<rect x="629.2" y="318.2" width="11.3" height="5.9"/>
<rect x="629.2" y="322.4" width="11.3" height="6.0"/>
<rect x="637.7" y="297.5" width="12.9" height="5.9"/>
<rect x="637.7" y="301.6" width="12.9" height="6.0"/>
<rect x="637.7" y="305.8" width="12.9" height="5.9"/>
<rect x="637.7" y="309.9" width="12.9" height="6.0"/>
<rect x="647.8" y="297.5" width="15.0" height="5.9"/>
<rect x="647.8" y="301.6" width="15.0" height="6.0"/>
</g>
<g shape-rendering="crispEdges">
<rect x="106.6" y="299.6" width="8.8" height="8.7" fill="#2094e4"/>
<rect x="106.6" y="308.0" width="8.8" height="8.7" fill="#2094e4"/>
<rect x="106.6" y="316.4" width="8.8" height="8.7" fill="#0078f0"/>
<rect x="106.6" y="324.8" width="8.8" height="8.7" fill="#0078f0"/>
<rect x="115.1" y="299.6" width="10.1" height="8.7" fill="#0040c8"/>
<rect x="115.1" y="308.0" width="10.1" height="8.7" fill="#000c8c"/>
<rect x="115.1" y="316.4" width="10.1" height="8.7" fill="#0040c8"/>
<rect x="115.1" y="324.8" width="10.1" height="8.7" fill="#45009a"/>
<rect x="115.1" y="333.2" width="10.1" height="8.7" fill="#45009a"/>
<rect x="124.9" y="299.6" width="8.1" height="8.7" fill="#45009a"/>
<rect x="124.9" y="308.0" width="8.1" height="8.7" fill="#000c8c"/>
<rect x="124.9" y="316.4" width="8.1" height="8.7" fill="#8c00c8"/>
<rect x="124.9" y="324.8" width="8.1" height="8.7" fill="#0078f0"/>
<rect x="124.9" y="333.2" width="8.1" height="8.7" fill="#ff00ff"/>
<rect x="124.9" y="341.6" width="8.1" height="8.7" fill="#ff00ff"/>
<rect x="132.7" y="299.6" width="10.7" height="8.7" fill="#0078f0"/>
<rect x="132.7" y="308.0" width="10.7" height="8.7" fill="#8c00c8"/>
<rect x="132.7" y="316.4" width="10.7" height="8.7" fill="#8c00c8"/>
<rect x="132.7" y="324.8" width="10.7" height="8.7" fill="#ff00ff"/>
<rect x="132.7" y="333.2" width="10.7" height="8.7" fill="#ff00ff"/>
<rect x="132.7" y="341.6" width="10.7" height="8.7" fill="#8c00c8"/>
<rect x="132.7" y="350.0" width="10.7" height="8.7" fill="#45009a"/>
<rect x="143.1" y="299.6" width="10.1" height="8.7" fill="#0078f0"/>
<rect x="143.1" y="308.0" width="10.1" height="8.7" fill="#0078f0"/>
<rect x="143.1" y="316.4" width="10.1" height="8.7" fill="#56d8aa"/>
<rect x="143.1" y="324.8" width="10.1" height="8.7" fill="#2094e4"/>
<rect x="143.1" y="333.2" width="10.1" height="8.7" fill="#0040c8"/>
<rect x="143.1" y="341.6" width="10.1" height="8.7" fill="#40bac6"/>
<rect x="143.1" y="350.0" width="10.1" height="8.7" fill="#0078f0"/>
<rect x="143.1" y="358.4" width="10.1" height="8.7" fill="#000c8c"/>
<rect x="152.9" y="299.6" width="9.5" height="8.7" fill="#40bac6"/>
<rect x="152.9" y="308.0" width="9.5" height="8.7" fill="#2094e4"/>
<rect x="152.9" y="316.4" width="9.5" height="8.7" fill="#84f884"/>
<rect x="152.9" y="324.8" width="9.5" height="8.7" fill="#2094e4"/>
<rect x="152.9" y="333.2" width="9.5" height="8.7" fill="#f8f800"/>
<rect x="152.9" y="341.6" width="9.5" height="8.7" fill="#40bac6"/>
<rect x="152.9" y="350.0" width="9.5" height="8.7" fill="#0078f0"/>
<rect x="152.9" y="358.4" width="9.5" height="8.7" fill="#0040c8"/>
<rect x="162.1" y="299.6" width="8.3" height="8.7" fill="#84f884"/>
<rect x="162.1" y="308.0" width="8.3" height="8.7" fill="#56d8aa"/>
<rect x="162.1" y="316.4" width="8.3" height="8.7" fill="#bef842"/>
<rect x="162.1" y="324.8" width="8.3" height="8.7" fill="#84f884"/>
<rect x="162.1" y="333.2" width="8.3" height="8.7" fill="#56d8aa"/>
<rect x="162.1" y="341.6" width="8.3" height="8.7" fill="#56d8aa"/>
<rect x="162.1" y="350.0" width="8.3" height="8.7" fill="#0078f0"/>
<rect x="162.1" y="358.4" width="8.3" height="8.7" fill="#56d8aa"/>
<rect x="162.1" y="366.8" width="8.3" height="8.7" fill="#40bac6"/>
<rect x="170.1" y="299.6" width="9.4" height="8.7" fill="#bef842"/>
<rect x="170.1" y="308.0" width="9.4" height="8.7" fill="#bef842"/>
<rect x="170.1" y="316.4" width="9.4" height="8.7" fill="#bef842"/>
<rect x="170.1" y="324.8" width="9.4" height="8.7" fill="#bef842"/>
<rect x="170.1" y="333.2" width="9.4" height="8.7" fill="#40bac6"/>
<rect x="170.1" y="341.6" width="9.4" height="8.7" fill="#84f884"/>
<rect x="170.1" y="350.0" width="9.4" height="8.7" fill="#56d8aa"/>
<rect x="170.1" y="358.4" width="9.4" height="8.7" fill="#2094e4"/>
<rect x="170.1" y="366.8" width="9.4" height="8.7" fill="#84f884"/>
<rect x="170.1" y="375.2" width="9.4" height="8.7" fill="#f8f800"/>
<rect x="179.2" y="299.6" width="9.3" height="8.7" fill="#84f884"/>
<rect x="179.2" y="308.0" width="9.3" height="8.7" fill="#2094e4"/>
<rect x="179.2" y="316.4" width="9.3" height="8.7" fill="#bef842"/>
<rect x="179.2" y="324.8" width="9.3" height="8.7" fill="#56d8aa"/>
<rect x="179.2" y="333.2" width="9.3" height="8.7" fill="#40bac6"/>
<rect x="179.2" y="341.6" width="9.3" height="8.7" fill="#ff7800"/>
<rect x="179.2" y="350.0" width="9.3" height="8.7" fill="#40bac6"/>
<rect x="179.2" y="358.4" width="9.3" height="8.7" fill="#bef842"/>
<rect x="179.2" y="366.8" width="9.3" height="8.7" fill="#84f884"/>
<rect x="179.2" y="375.2" width="9.3" height="8.7" fill="#40bac6"/>
<rect x="188.2" y="299.6" width="8.0" height="8.7" fill="#bef842"/>
<rect x="188.2" y="308.0" width="8.0" height="8.7" fill="#56d8aa"/>
<rect x="188.2" y="316.4" width="8.0" height="8.7" fill="#84f884"/>
<rect x="188.2" y="324.8" width="8.0" height="8.7" fill="#bef842"/>
<rect x="188.2" y="333.2" width="8.0" height="8.7" fill="#84f884"/>
<rect x="188.2" y="341.6" width="8.0" height="8.7" fill="#84f884"/>
<rect x="188.2" y="350.0" width="8.0" height="8.7" fill="#bef842"/>
<rect x="188.2" y="358.4" width="8.0" height="8.7" fill="#2094e4"/>
<rect x="188.2" y="366.8" width="8.0" height="8.7" fill="#bef842"/>
<rect x="188.2" y="375.2" width="8.0" height="8.7" fill="#40bac6"/>
<rect x="195.9" y="299.6" width="8.5" height="8.7" fill="#84f884"/>
<rect x="195.9" y="308.0" width="8.5" height="8.7" fill="#ff7800"/>
<rect x="195.9" y="316.4" width="8.5" height="8.7" fill="#84f884"/>
<rect x="195.9" y="324.8" width="8.5" height="8.7" fill="#f8f800"/>
<rect x="195.9" y="333.2" width="8.5" height="8.7" fill="#2094e4"/>
<rect x="195.9" y="341.6" width="8.5" height="8.7" fill="#0078f0"/>
<rect x="195.9" y="350.0" width="8.5" height="8.7" fill="#0040c8"/>
<rect x="195.9" y="358.4" width="8.5" height="8.7" fill="#0078f0"/>
<rect x="195.9" y="366.8" width="8.5" height="8.7" fill="#000c8c"/>
<rect x="195.9" y="375.2" width="8.5" height="8.7" fill="#2094e4"/>
<rect x="195.9" y="383.6" width="8.5" height="8.7" fill="#45009a"/>
<rect x="204.1" y="299.6" width="8.3" height="8.7" fill="#ffb400"/>
<rect x="204.1" y="308.0" width="8.3" height="8.7" fill="#bef842"/>
<rect x="204.1" y="316.4" width="8.3" height="8.7" fill="#f8f800"/>
<rect x="204.1" y="324.8" width="8.3" height="8.7" fill="#bef842"/>
<rect x="204.1" y="333.2" width="8.3" height="8.7" fill="#f8f800"/>
<rect x="204.1" y="341.6" width="8.3" height="8.7" fill="#84f884"/>
<rect x="204.1" y="350.0" width="8.3" height="8.7" fill="#84f884"/>
<rect x="204.1" y="358.4" width="8.3" height="8.7" fill="#84f884"/>
<rect x="204.1" y="366.8" width="8.3" height="8.7" fill="#40bac6"/>
<rect x="204.1" y="375.2" width="8.3" height="8.7" fill="#0078f0"/>
<rect x="204.1" y="383.6" width="8.3" height="8.7" fill="#0078f0"/>
<rect x="212.1" y="299.6" width="8.8" height="8.7" fill="#84f884"/>
<rect x="212.1" y="308.0" width="8.8" height="8.7" fill="#bef842"/>
<rect x="212.1" y="316.4" width="8.8" height="8.7" fill="#bef842"/>
<rect x="212.1" y="324.8" width="8.8" height="8.7" fill="#84f884"/>
<rect x="212.1" y="333.2" width="8.8" height="8.7" fill="#ffb400"/>
<rect x="212.1" y="341.6" width="8.8" height="8.7" fill="#bef842"/>
<rect x="212.1" y="350.0" width="8.8" height="8.7" fill="#84f884"/>
<rect x="212.1" y="358.4" width="8.8" height="8.7" fill="#84f884"/>
<rect x="212.1" y="366.8" width="8.8" height="8.7" fill="#40bac6"/>
<rect x="212.1" y="375.2" width="8.8" height="8.7" fill="#84f884"/>
<rect x="212.1" y="383.6" width="8.8" height="8.7" fill="#40bac6"/>
<rect x="220.6" y="299.6" width="8.9" height="8.7" fill="#bef842"/>
<rect x="220.6" y="308.0" width="8.9" height="8.7" fill="#84f884"/>
<rect x="220.6" y="316.4" width="8.9" height="8.7" fill="#bef842"/>
<rect x="220.6" y="324.8" width="8.9" height="8.7" fill="#bef842"/>
<rect x="220.6" y="333.2" width="8.9" height="8.7" fill="#56d8aa"/>
<rect x="220.6" y="341.6" width="8.9" height="8.7" fill="#bef842"/>
<rect x="220.6" y="350.0" width="8.9" height="8.7" fill="#40bac6"/>
<rect x="220.6" y="358.4" width="8.9" height="8.7" fill="#0078f0"/>
<rect x="220.6" y="366.8" width="8.9" height="8.7" fill="#40bac6"/>
<rect x="220.6" y="375.2" width="8.9" height="8.7" fill="#bef842"/>
<rect x="220.6" y="383.6" width="8.9" height="8.7" fill="#56d8aa"/>
<rect x="229.2" y="299.6" width="10.1" height="8.7" fill="#bef842"/>
<rect x="229.2" y="308.0" width="10.1" height="8.7" fill="#ffb400"/>
<rect x="229.2" y="316.4" width="10.1" height="8.7" fill="#ff7800"/>
<rect x="229.2" y="324.8" width="10.1" height="8.7" fill="#84f884"/>
<rect x="229.2" y="333.2" width="10.1" height="8.7" fill="#ffb400"/>
<rect x="229.2" y="341.6" width="10.1" height="8.7" fill="#f8f800"/>
<rect x="229.2" y="350.0" width="10.1" height="8.7" fill="#f8f800"/>
<rect x="229.2" y="358.4" width="10.1" height="8.7" fill="#ff7800"/>
<rect x="229.2" y="366.8" width="10.1" height="8.7" fill="#bef842"/>
<rect x="229.2" y="375.2" width="10.1" height="8.7" fill="#2094e4"/>
<rect x="229.2" y="383.6" width="10.1" height="8.7" fill="#0040c8"/>
<rect x="229.2" y="392.0" width="10.1" height="8.7" fill="#0040c8"/>
<rect x="239.0" y="299.6" width="11.3" height="8.7" fill="#ffb400"/>
<rect x="239.0" y="308.0" width="11.3" height="8.7" fill="#f8f800"/>
<rect x="239.0" y="316.4" width="11.3" height="8.7" fill="#f8f800"/>
<rect x="239.0" y="324.8" width="11.3" height="8.7" fill="#ffb400"/>
<rect x="239.0" y="333.2" width="11.3" height="8.7" fill="#f8f800"/>
<rect x="239.0" y="341.6" width="11.3" height="8.7" fill="#0078f0"/>
<rect x="239.0" y="350.0" width="11.3" height="8.7" fill="#bef842"/>
<rect x="239.0" y="358.4" width="11.3" height="8.7" fill="#bef842"/>
<rect x="239.0" y="366.8" width="11.3" height="8.7" fill="#56d8aa"/>
<rect x="239.0" y="375.2" width="11.3" height="8.7" fill="#56d8aa"/>
<rect x="239.0" y="383.6" width="11.3" height="8.7" fill="#2094e4"/>
<rect x="239.0" y="392.0" width="11.3" height="8.7" fill="#0078f0"/>
<rect x="250.0" y="299.6" width="9.6" height="8.7" fill="#ff7800"/>
<rect x="250.0" y="308.0" width="9.6" height="8.7" fill="#f8f800"/>
<rect x="250.0" y="316.4" width="9.6" height="8.7" fill="#bef842"/>
<rect x="250.0" y="324.8" width="9.6" height="8.7" fill="#ffb400"/>
<rect x="250.0" y="333.2" width="9.6" height="8.7" fill="#ffb400"/>
<rect x="250.0" y="341.6" width="9.6" height="8.7" fill="#bef842"/>
<rect x="250.0" y="350.0" width="9.6" height="8.7" fill="#bef842"/>
<rect x="250.0" y="358.4" width="9.6" height="8.7" fill="#f8f800"/>
<rect x="250.0" y="366.8" width="9.6" height="8.7" fill="#84f884"/>
<rect x="250.0" y="375.2" width="9.6" height="8.7" fill="#2094e4"/>
<rect x="250.0" y="383.6" width="9.6" height="8.7" fill="#0040c8"/>
<rect x="250.0" y="392.0" width="9.6" height="8.7" fill="#0078f0"/>
<rect x="250.0" y="400.4" width="9.6" height="8.7" fill="#0078f0"/>
<rect x="259.3" y="299.6" width="8.6" height="8.7" fill="#bef842"/>
<rect x="259.3" y="308.0" width="8.6" height="8.7" fill="#84f884"/>
<rect x="259.3" y="316.4" width="8.6" height="8.7" fill="#ff7800"/>
<rect x="259.3" y="324.8" width="8.6" height="8.7" fill="#f8f800"/>
<rect x="259.3" y="333.2" width="8.6" height="8.7" fill="#ffb400"/>
<rect x="259.3" y="341.6" width="8.6" height="8.7" fill="#ff7800"/>
<rect x="259.3" y="350.0" width="8.6" height="8.7" fill="#bef842"/>
<rect x="259.3" y="358.4" width="8.6" height="8.7" fill="#f8f800"/>
<rect x="259.3" y="366.8" width="8.6" height="8.7" fill="#84f884"/>
<rect x="259.3" y="375.2" width="8.6" height="8.7" fill="#bef842"/>
<rect x="259.3" y="383.6" width="8.6" height="8.7" fill="#bef842"/>
<rect x="259.3" y="392.0" width="8.6" height="8.7" fill="#f8f800"/>
<rect x="259.3" y="400.4" width="8.6" height="8.7" fill="#84f884"/>
<rect x="267.6" y="299.6" width="10.1" height="8.7" fill="#84f884"/>
<rect x="267.6" y="308.0" width="10.1" height="8.7" fill="#bef842"/>
<rect x="267.6" y="316.4" width="10.1" height="8.7" fill="#84f884"/>
<rect x="267.6" y="324.8" width="10.1" height="8.7" fill="#f8f800"/>
<rect x="267.6" y="333.2" width="10.1" height="8.7" fill="#f8f800"/>
<rect x="267.6" y="341.6" width="10.1" height="8.7" fill="#2094e4"/>
<rect x="267.6" y="350.0" width="10.1" height="8.7" fill="#40bac6"/>
<rect x="267.6" y="358.4" width="10.1" height="8.7" fill="#40bac6"/>
<rect x="267.6" y="366.8" width="10.1" height="8.7" fill="#2094e4"/>
<rect x="267.6" y="375.2" width="10.1" height="8.7" fill="#0078f0"/>
<rect x="267.6" y="383.6" width="10.1" height="8.7" fill="#56d8aa"/>
<rect x="267.6" y="392.0" width="10.1" height="8.7" fill="#84f884"/>
<rect x="267.6" y="400.4" width="10.1" height="8.7" fill="#0078f0"/>
<rect x="277.4" y="299.6" width="8.8" height="8.7" fill="#56d8aa"/>
<rect x="277.4" y="308.0" width="8.8" height="8.7" fill="#ffb400"/>
<rect x="277.4" y="316.4" width="8.8" height="8.7" fill="#f8f800"/>
<rect x="277.4" y="324.8" width="8.8" height="8.7" fill="#bef842"/>
<rect x="277.4" y="333.2" width="8.8" height="8.7" fill="#56d8aa"/>
<rect x="277.4" y="341.6" width="8.8" height="8.7" fill="#84f884"/>
<rect x="277.4" y="350.0" width="8.8" height="8.7" fill="#56d8aa"/>
<rect x="277.4" y="358.4" width="8.8" height="8.7" fill="#bef842"/>
<rect x="277.4" y="366.8" width="8.8" height="8.7" fill="#40bac6"/>
<rect x="277.4" y="375.2" width="8.8" height="8.7" fill="#40bac6"/>
<rect x="277.4" y="383.6" width="8.8" height="8.7" fill="#8c00c8"/>
<rect x="277.4" y="392.0" width="8.8" height="8.7" fill="#0078f0"/>
<rect x="285.9" y="299.6" width="8.9" height="8.7" fill="#f8f800"/>
<rect x="285.9" y="308.0" width="8.9" height="8.7" fill="#84f884"/>
<rect x="285.9" y="316.4" width="8.9" height="8.7" fill="#84f884"/>
<rect x="285.9" y="324.8" width="8.9" height="8.7" fill="#f8f800"/>
<rect x="285.9" y="333.2" width="8.9" height="8.7" fill="#56d8aa"/>
<rect x="285.9" y="341.6" width="8.9" height="8.7" fill="#f8f800"/>
<rect x="285.9" y="350.0" width="8.9" height="8.7" fill="#56d8aa"/>
<rect x="285.9" y="358.4" width="8.9" height="8.7" fill="#0078f0"/>
<rect x="285.9" y="366.8" width="8.9" height="8.7" fill="#40bac6"/>
<rect x="285.9" y="375.2" width="8.9" height="8.7" fill="#40bac6"/>
<rect x="285.9" y="383.6" width="8.9" height="8.7" fill="#84f884"/>
<rect x="285.9" y="392.0" width="8.9" height="8.7" fill="#000c8c"/>
<rect x="285.9" y="400.4" width="8.9" height="8.7" fill="#0040c8"/>
<rect x="294.5" y="299.6" width="8.6" height="8.7" fill="#bef842"/>
<rect x="294.5" y="308.0" width="8.6" height="8.7" fill="#bef842"/>
<rect x="294.5" y="316.4" width="8.6" height="8.7" fill="#ff1800"/>
<rect x="294.5" y="324.8" width="8.6" height="8.7" fill="#ff7800"/>
<rect x="294.5" y="333.2" width="8.6" height="8.7" fill="#ffb400"/>
<rect x="294.5" y="341.6" width="8.6" height="8.7" fill="#f8f800"/>
<rect x="294.5" y="350.0" width="8.6" height="8.7" fill="#56d8aa"/>
<rect x="294.5" y="358.4" width="8.6" height="8.7" fill="#84f884"/>
<rect x="294.5" y="366.8" width="8.6" height="8.7" fill="#56d8aa"/>
<rect x="294.5" y="375.2" width="8.6" height="8.7" fill="#bef842"/>
<rect x="294.5" y="383.6" width="8.6" height="8.7" fill="#40bac6"/>
<rect x="294.5" y="392.0" width="8.6" height="8.7" fill="#84f884"/>
<rect x="302.8" y="299.6" width="11.6" height="8.7" fill="#ff7800"/>
<rect x="302.8" y="308.0" width="11.6" height="8.7" fill="#ffb400"/>
<rect x="302.8" y="316.4" width="11.6" height="8.7" fill="#f8f800"/>
<rect x="302.8" y="324.8" width="11.6" height="8.7" fill="#f8f800"/>
<rect x="302.8" y="333.2" width="11.6" height="8.7" fill="#ffb400"/>
<rect x="302.8" y="341.6" width="11.6" height="8.7" fill="#ff1800"/>
<rect x="302.8" y="350.0" width="11.6" height="8.7" fill="#bef842"/>
<rect x="302.8" y="358.4" width="11.6" height="8.7" fill="#56d8aa"/>
<rect x="302.8" y="366.8" width="11.6" height="8.7" fill="#0040c8"/>
<rect x="302.8" y="375.2" width="11.6" height="8.7" fill="#56d8aa"/>
<rect x="302.8" y="383.6" width="11.6" height="8.7" fill="#000c8c"/>
<rect x="302.8" y="392.0" width="11.6" height="8.7" fill="#ff00ff"/>
<rect x="314.1" y="299.6" width="11.5" height="8.7" fill="#ff1800"/>
<rect x="314.1" y="308.0" width="11.5" height="8.7" fill="#ff1800"/>
<rect x="314.1" y="316.4" width="11.5" height="8.7" fill="#ff1800"/>
<rect x="314.1" y="324.8" width="11.5" height="8.7" fill="#ff1800"/>
<rect x="314.1" y="333.2" width="11.5" height="8.7" fill="#ffb400"/>
<rect x="314.1" y="341.6" width="11.5" height="8.7" fill="#ff1800"/>
<rect x="314.1" y="350.0" width="11.5" height="8.7" fill="#f8f800"/>
<rect x="314.1" y="358.4" width="11.5" height="8.7" fill="#bef842"/>
<rect x="314.1" y="366.8" width="11.5" height="8.7" fill="#84f884"/>
<rect x="314.1" y="375.2" width="11.5" height="8.7" fill="#56d8aa"/>
<rect x="314.1" y="383.6" width="11.5" height="8.7" fill="#56d8aa"/>
<rect x="314.1" y="392.0" width="11.5" height="8.7" fill="#0078f0"/>
<rect x="314.1" y="400.4" width="11.5" height="8.7" fill="#45009a"/>
<rect x="325.3" y="299.6" width="6.9" height="8.7" fill="#ffb400"/>
<rect x="325.3" y="308.0" width="6.9" height="8.7" fill="#bef842"/>
<rect x="325.3" y="316.4" width="6.9" height="8.7" fill="#f8f800"/>
<rect x="325.3" y="324.8" width="6.9" height="8.7" fill="#bef842"/>
<rect x="325.3" y="333.2" width="6.9" height="8.7" fill="#84f884"/>
<rect x="325.3" y="341.6" width="6.9" height="8.7" fill="#2094e4"/>
<rect x="325.3" y="350.0" width="6.9" height="8.7" fill="#bef842"/>
<rect x="325.3" y="358.4" width="6.9" height="8.7" fill="#0078f0"/>
<rect x="325.3" y="366.8" width="6.9" height="8.7" fill="#84f884"/>
<rect x="325.3" y="375.2" width="6.9" height="8.7" fill="#84f884"/>
<rect x="325.3" y="383.6" width="6.9" height="8.7" fill="#bef842"/>
<rect x="325.3" y="392.0" width="6.9" height="8.7" fill="#000c8c"/>
<rect x="331.9" y="299.6" width="9.2" height="8.7" fill="#ff1800"/>
<rect x="331.9" y="308.0" width="9.2" height="8.7" fill="#bef842"/>
<rect x="331.9" y="316.4" width="9.2" height="8.7" fill="#bef842"/>
<rect x="331.9" y="324.8" width="9.2" height="8.7" fill="#bef842"/>
<rect x="331.9" y="333.2" width="9.2" height="8.7" fill="#56d8aa"/>
<rect x="331.9" y="341.6" width="9.2" height="8.7" fill="#bef842"/>
<rect x="331.9" y="350.0" width="9.2" height="8.7" fill="#bef842"/>
<rect x="331.9" y="358.4" width="9.2" height="8.7" fill="#0078f0"/>
<rect x="331.9" y="366.8" width="9.2" height="8.7" fill="#000c8c"/>
<rect x="331.9" y="375.2" width="9.2" height="8.7" fill="#0040c8"/>
<rect x="331.9" y="383.6" width="9.2" height="8.7" fill="#0040c8"/>
<rect x="331.9" y="392.0" width="9.2" height="8.7" fill="#0078f0"/>
<rect x="340.8" y="299.6" width="7.6" height="8.7" fill="#f8f800"/>
<rect x="340.8" y="308.0" width="7.6" height="8.7" fill="#56d8aa"/>
<rect x="340.8" y="316.4" width="7.6" height="8.7" fill="#bef842"/>
<rect x="340.8" y="324.8" width="7.6" height="8.7" fill="#40bac6"/>
<rect x="340.8" y="333.2" width="7.6" height="8.7" fill="#0040c8"/>
<rect x="340.8" y="341.6" width="7.6" height="8.7" fill="#40bac6"/>
<rect x="340.8" y="350.0" width="7.6" height="8.7" fill="#0040c8"/>
<rect x="340.8" y="358.4" width="7.6" height="8.7" fill="#2094e4"/>
<rect x="340.8" y="366.8" width="7.6" height="8.7" fill="#0040c8"/>
<rect x="340.8" y="375.2" width="7.6" height="8.7" fill="#0078f0"/>
<rect x="340.8" y="383.6" width="7.6" height="8.7" fill="#0040c8"/>
<rect x="340.8" y="392.0" width="7.6" height="8.7" fill="#000c8c"/>
<rect x="348.1" y="299.6" width="8.7" height="8.7" fill="#bef842"/>
<rect x="348.1" y="308.0" width="8.7" height="8.7" fill="#ffb400"/>
<rect x="348.1" y="316.4" width="8.7" height="8.7" fill="#ffb400"/>
<rect x="348.1" y="324.8" width="8.7" height="8.7" fill="#f8f800"/>
<rect x="348.1" y="333.2" width="8.7" height="8.7" fill="#f8f800"/>
<rect x="348.1" y="341.6" width="8.7" height="8.7" fill="#0078f0"/>
<rect x="348.1" y="350.0" width="8.7" height="8.7" fill="#bef842"/>
<rect x="348.1" y="358.4" width="8.7" height="8.7" fill="#bef842"/>
<rect x="348.1" y="366.8" width="8.7" height="8.7" fill="#2094e4"/>
<rect x="348.1" y="375.2" width="8.7" height="8.7" fill="#0078f0"/>
<rect x="348.1" y="383.6" width="8.7" height="8.7" fill="#0040c8"/>
<rect x="348.1" y="392.0" width="8.7" height="8.7" fill="#0078f0"/>
<rect x="356.5" y="299.6" width="6.0" height="8.7" fill="#f8f800"/>
<rect x="356.5" y="308.0" width="6.0" height="8.7" fill="#bef842"/>
<rect x="356.5" y="316.4" width="6.0" height="8.7" fill="#bef842"/>
<rect x="356.5" y="324.8" width="6.0" height="8.7" fill="#bef842"/>
<rect x="356.5" y="333.2" width="6.0" height="8.7" fill="#bef842"/>
<rect x="356.5" y="341.6" width="6.0" height="8.7" fill="#f8f800"/>
<rect x="356.5" y="350.0" width="6.0" height="8.7" fill="#f8f800"/>
<rect x="356.5" y="358.4" width="6.0" height="8.7" fill="#ffb400"/>
<rect x="356.5" y="366.8" width="6.0" height="8.7" fill="#bef842"/>
<rect x="356.5" y="375.2" width="6.0" height="8.7" fill="#f8f800"/>
<rect x="356.5" y="383.6" width="6.0" height="8.7" fill="#40bac6"/>
<rect x="356.5" y="392.0" width="6.0" height="8.7" fill="#0078f0"/>
<rect x="356.5" y="400.4" width="6.0" height="8.7" fill="#84f884"/>
<rect x="362.2" y="299.6" width="6.4" height="8.7" fill="#56d8aa"/>
<rect x="362.2" y="308.0" width="6.4" height="8.7" fill="#84f884"/>
<rect x="362.2" y="316.4" width="6.4" height="8.7" fill="#bef842"/>
<rect x="362.2" y="324.8" width="6.4" height="8.7" fill="#f8f800"/>
<rect x="362.2" y="333.2" width="6.4" height="8.7" fill="#56d8aa"/>
<rect x="362.2" y="341.6" width="6.4" height="8.7" fill="#2094e4"/>
<rect x="362.2" y="350.0" width="6.4" height="8.7" fill="#56d8aa"/>
<rect x="362.2" y="358.4" width="6.4" height="8.7" fill="#84f884"/>
<rect x="362.2" y="366.8" width="6.4" height="8.7" fill="#2094e4"/>
<rect x="362.2" y="375.2" width="6.4" height="8.7" fill="#0078f0"/>
<rect x="362.2" y="383.6" width="6.4" height="8.7" fill="#2094e4"/>
<rect x="362.2" y="392.0" width="6.4" height="8.7" fill="#2094e4"/>
<rect x="362.2" y="400.4" width="6.4" height="8.7" fill="#0040c8"/>
<rect x="368.3" y="299.6" width="8.9" height="8.7" fill="#ffb400"/>
<rect x="368.3" y="308.0" width="8.9" height="8.7" fill="#ffb400"/>
<rect x="368.3" y="316.4" width="8.9" height="8.7" fill="#ff7800"/>
<rect x="368.3" y="324.8" width="8.9" height="8.7" fill="#ff1800"/>
<rect x="368.3" y="333.2" width="8.9" height="8.7" fill="#ff7800"/>
<rect x="368.3" y="341.6" width="8.9" height="8.7" fill="#f8f800"/>
<rect x="368.3" y="350.0" width="8.9" height="8.7" fill="#bef842"/>
<rect x="368.3" y="358.4" width="8.9" height="8.7" fill="#bef842"/>
<rect x="368.3" y="366.8" width="8.9" height="8.7" fill="#bef842"/>
<rect x="368.3" y="375.2" width="8.9" height="8.7" fill="#56d8aa"/>
<rect x="368.3" y="383.6" width="8.9" height="8.7" fill="#0040c8"/>
<rect x="368.3" y="392.0" width="8.9" height="8.7" fill="#0078f0"/>
<rect x="368.3" y="400.4" width="8.9" height="8.7" fill="#2094e4"/>
<rect x="376.9" y="299.6" width="10.1" height="8.7" fill="#84f884"/>
<rect x="376.9" y="308.0" width="10.1" height="8.7" fill="#bef842"/>
<rect x="376.9" y="316.4" width="10.1" height="8.7" fill="#56d8aa"/>
<rect x="376.9" y="324.8" width="10.1" height="8.7" fill="#0078f0"/>
<rect x="376.9" y="333.2" width="10.1" height="8.7" fill="#bef842"/>
<rect x="376.9" y="341.6" width="10.1" height="8.7" fill="#0040c8"/>
<rect x="376.9" y="350.0" width="10.1" height="8.7" fill="#0078f0"/>
<rect x="376.9" y="358.4" width="10.1" height="8.7" fill="#000c8c"/>
<rect x="376.9" y="366.8" width="10.1" height="8.7" fill="#0040c8"/>
<rect x="376.9" y="375.2" width="10.1" height="8.7" fill="#2094e4"/>
<rect x="376.9" y="383.6" width="10.1" height="8.7" fill="#0078f0"/>
<rect x="386.7" y="299.6" width="5.8" height="8.7" fill="#bef842"/>
<rect x="386.7" y="308.0" width="5.8" height="8.7" fill="#ffb400"/>
<rect x="386.7" y="316.4" width="5.8" height="8.7" fill="#bef842"/>
<rect x="386.7" y="324.8" width="5.8" height="8.7" fill="#84f884"/>
<rect x="386.7" y="333.2" width="5.8" height="8.7" fill="#bef842"/>
<rect x="386.7" y="341.6" width="5.8" height="8.7" fill="#84f884"/>
<rect x="386.7" y="350.0" width="5.8" height="8.7" fill="#bef842"/>
<rect x="386.7" y="358.4" width="5.8" height="8.7" fill="#ffb400"/>
<rect x="386.7" y="366.8" width="5.8" height="8.7" fill="#56d8aa"/>
<rect x="386.7" y="375.2" width="5.8" height="8.7" fill="#bef842"/>
<rect x="386.7" y="383.6" width="5.8" height="8.7" fill="#bef842"/>
<rect x="386.7" y="392.0" width="5.8" height="8.7" fill="#56d8aa"/>
<rect x="392.2" y="299.6" width="11.3" height="8.7" fill="#0040c8"/>
<rect x="392.2" y="308.0" width="11.3" height="8.7" fill="#0040c8"/>
<rect x="392.2" y="316.4" width="11.3" height="8.7" fill="#0078f0"/>
<rect x="392.2" y="324.8" width="11.3" height="8.7" fill="#0040c8"/>
<rect x="392.2" y="333.2" width="11.3" height="8.7" fill="#0078f0"/>
<rect x="392.2" y="341.6" width="11.3" height="8.7" fill="#000c8c"/>
<rect x="392.2" y="350.0" width="11.3" height="8.7" fill="#0040c8"/>
<rect x="392.2" y="358.4" width="11.3" height="8.7" fill="#0078f0"/>
<rect x="392.2" y="366.8" width="11.3" height="8.7" fill="#0078f0"/>
<rect x="392.2" y="375.2" width="11.3" height="8.7" fill="#000c8c"/>
<rect x="392.2" y="383.6" width="11.3" height="8.7" fill="#2094e4"/>
<rect x="392.2" y="392.0" width="11.3" height="8.7" fill="#000c8c"/>
<rect x="403.2" y="299.6" width="7.0" height="8.7" fill="#40bac6"/>
<rect x="403.2" y="308.0" width="7.0" height="8.7" fill="#40bac6"/>
<rect x="403.2" y="316.4" width="7.0" height="8.7" fill="#84f884"/>
<rect x="403.2" y="324.8" width="7.0" height="8.7" fill="#000c8c"/>
<rect x="403.2" y="333.2" width="7.0" height="8.7" fill="#84f884"/>
<rect x="403.2" y="341.6" width="7.0" height="8.7" fill="#2094e4"/>
<rect x="403.2" y="350.0" width="7.0" height="8.7" fill="#000c8c"/>
<rect x="403.2" y="358.4" width="7.0" height="8.7" fill="#2094e4"/>
<rect x="403.2" y="366.8" width="7.0" height="8.7" fill="#2094e4"/>
<rect x="403.2" y="375.2" width="7.0" height="8.7" fill="#2094e4"/>
<rect x="403.2" y="383.6" width="7.0" height="8.7" fill="#0040c8"/>
<rect x="403.2" y="392.0" width="7.0" height="8.7" fill="#45009a"/>
<rect x="403.2" y="400.4" width="7.0" height="8.7" fill="#8c00c8"/>
<rect x="409.9" y="299.6" width="8.8" height="8.7" fill="#bef842"/>
<rect x="409.9" y="308.0" width="8.8" height="8.7" fill="#84f884"/>
<rect x="409.9" y="316.4" width="8.8" height="8.7" fill="#84f884"/>
<rect x="409.9" y="324.8" width="8.8" height="8.7" fill="#84f884"/>
<rect x="409.9" y="333.2" width="8.8" height="8.7" fill="#84f884"/>
<rect x="409.9" y="341.6" width="8.8" height="8.7" fill="#0078f0"/>
<rect x="409.9" y="350.0" width="8.8" height="8.7" fill="#2094e4"/>
<rect x="409.9" y="358.4" width="8.8" height="8.7" fill="#84f884"/>
<rect x="409.9" y="366.8" width="8.8" height="8.7" fill="#bef842"/>
<rect x="409.9" y="375.2" width="8.8" height="8.7" fill="#ff7800"/>
<rect x="409.9" y="383.6" width="8.8" height="8.7" fill="#84f884"/>
<rect x="418.4" y="299.6" width="10.1" height="8.7" fill="#84f884"/>
<rect x="418.4" y="308.0" width="10.1" height="8.7" fill="#84f884"/>
<rect x="418.4" y="316.4" width="10.1" height="8.7" fill="#bef842"/>
<rect x="418.4" y="324.8" width="10.1" height="8.7" fill="#56d8aa"/>
<rect x="418.4" y="333.2" width="10.1" height="8.7" fill="#f8f800"/>
<rect x="418.4" y="341.6" width="10.1" height="8.7" fill="#f8f800"/>
<rect x="418.4" y="350.0" width="10.1" height="8.7" fill="#ff1800"/>
<rect x="418.4" y="358.4" width="10.1" height="8.7" fill="#ff1800"/>
<rect x="418.4" y="366.8" width="10.1" height="8.7" fill="#bef842"/>
<rect x="418.4" y="375.2" width="10.1" height="8.7" fill="#40bac6"/>
<rect x="418.4" y="383.6" width="10.1" height="8.7" fill="#84f884"/>
<rect x="418.4" y="392.0" width="10.1" height="8.7" fill="#0040c8"/>
<rect x="428.2" y="299.6" width="8.3" height="8.7" fill="#bef842"/>
<rect x="428.2" y="308.0" width="8.3" height="8.7" fill="#ffb400"/>
<rect x="428.2" y="316.4" width="8.3" height="8.7" fill="#bef842"/>
<rect x="428.2" y="324.8" width="8.3" height="8.7" fill="#bef842"/>
<rect x="428.2" y="333.2" width="8.3" height="8.7" fill="#84f884"/>
<rect x="428.2" y="341.6" width="8.3" height="8.7" fill="#40bac6"/>
<rect x="428.2" y="350.0" width="8.3" height="8.7" fill="#40bac6"/>
<rect x="428.2" y="358.4" width="8.3" height="8.7" fill="#2094e4"/>
<rect x="428.2" y="366.8" width="8.3" height="8.7" fill="#0040c8"/>
<rect x="428.2" y="375.2" width="8.3" height="8.7" fill="#0078f0"/>
<rect x="428.2" y="383.6" width="8.3" height="8.7" fill="#0040c8"/>
<rect x="436.2" y="299.6" width="10.6" height="8.7" fill="#bef842"/>
<rect x="436.2" y="308.0" width="10.6" height="8.7" fill="#bef842"/>
<rect x="436.2" y="316.4" width="10.6" height="8.7" fill="#f8f800"/>
<rect x="436.2" y="324.8" width="10.6" height="8.7" fill="#ffb400"/>
<rect x="436.2" y="333.2" width="10.6" height="8.7" fill="#56d8aa"/>
<rect x="436.2" y="341.6" width="10.6" height="8.7" fill="#bef842"/>
<rect x="436.2" y="350.0" width="10.6" height="8.7" fill="#40bac6"/>
<rect x="436.2" y="358.4" width="10.6" height="8.7" fill="#84f884"/>
<rect x="436.2" y="366.8" width="10.6" height="8.7" fill="#40bac6"/>
<rect x="436.2" y="375.2" width="10.6" height="8.7" fill="#2094e4"/>
<rect x="436.2" y="383.6" width="10.6" height="8.7" fill="#2094e4"/>
<rect x="436.2" y="392.0" width="10.6" height="8.7" fill="#0078f0"/>
<rect x="446.5" y="299.6" width="8.6" height="8.7" fill="#bef842"/>
<rect x="446.5" y="308.0" width="8.6" height="8.7" fill="#f8f800"/>
<rect x="446.5" y="316.4" width="8.6" height="8.7" fill="#40bac6"/>
<rect x="446.5" y="324.8" width="8.6" height="8.7" fill="#84f884"/>
<rect x="446.5" y="333.2" width="8.6" height="8.7" fill="#f8f800"/>
<rect x="446.5" y="341.6" width="8.6" height="8.7" fill="#84f884"/>
<rect x="446.5" y="350.0" width="8.6" height="8.7" fill="#bef842"/>
<rect x="446.5" y="358.4" width="8.6" height="8.7" fill="#bef842"/>
<rect x="446.5" y="366.8" width="8.6" height="8.7" fill="#84f884"/>
<rect x="446.5" y="375.2" width="8.6" height="8.7" fill="#84f884"/>
<rect x="446.5" y="383.6" width="8.6" height="8.7" fill="#ff7800"/>
<rect x="446.5" y="392.0" width="8.6" height="8.7" fill="#84f884"/>
<rect x="454.8" y="299.6" width="5.2" height="8.7" fill="#ff7800"/>
<rect x="454.8" y="308.0" width="5.2" height="8.7" fill="#ff7800"/>
<rect x="454.8" y="316.4" width="5.2" height="8.7" fill="#ffb400"/>
<rect x="454.8" y="324.8" width="5.2" height="8.7" fill="#ff7800"/>
<rect x="454.8" y="333.2" width="5.2" height="8.7" fill="#ff1800"/>
<rect x="454.8" y="341.6" width="5.2" height="8.7" fill="#f8f800"/>
<rect x="454.8" y="350.0" width="5.2" height="8.7" fill="#bef842"/>
<rect x="454.8" y="358.4" width="5.2" height="8.7" fill="#ffb400"/>
<rect x="454.8" y="366.8" width="5.2" height="8.7" fill="#bef842"/>
<rect x="454.8" y="375.2" width="5.2" height="8.7" fill="#84f884"/>
<rect x="454.8" y="383.6" width="5.2" height="8.7" fill="#56d8aa"/>
<rect x="454.8" y="392.0" width="5.2" height="8.7" fill="#84f884"/>
<rect x="459.7" y="299.6" width="10.2" height="8.7" fill="#0078f0"/>
<rect x="459.7" y="308.0" width="10.2" height="8.7" fill="#40bac6"/>
<rect x="459.7" y="316.4" width="10.2" height="8.7" fill="#40bac6"/>
<rect x="459.7" y="324.8" width="10.2" height="8.7" fill="#40bac6"/>
<rect x="459.7" y="333.2" width="10.2" height="8.7" fill="#40bac6"/>
<rect x="459.7" y="341.6" width="10.2" height="8.7" fill="#2094e4"/>
<rect x="459.7" y="350.0" width="10.2" height="8.7" fill="#0040c8"/>
<rect x="459.7" y="358.4" width="10.2" height="8.7" fill="#0078f0"/>
<rect x="459.7" y="366.8" width="10.2" height="8.7" fill="#bef842"/>
<rect x="459.7" y="375.2" width="10.2" height="8.7" fill="#f8f800"/>
<rect x="459.7" y="383.6" width="10.2" height="8.7" fill="#bef842"/>
<rect x="459.7" y="392.0" width="10.2" height="8.7" fill="#56d8aa"/>
<rect x="469.6" y="299.6" width="7.4" height="8.7" fill="#f8f800"/>
<rect x="469.6" y="308.0" width="7.4" height="8.7" fill="#2094e4"/>
<rect x="469.6" y="316.4" width="7.4" height="8.7" fill="#56d8aa"/>
<rect x="469.6" y="324.8" width="7.4" height="8.7" fill="#2094e4"/>
<rect x="469.6" y="333.2" width="7.4" height="8.7" fill="#40bac6"/>
<rect x="469.6" y="341.6" width="7.4" height="8.7" fill="#40bac6"/>
<rect x="469.6" y="350.0" width="7.4" height="8.7" fill="#84f884"/>
<rect x="469.6" y="358.4" width="7.4" height="8.7" fill="#84f884"/>
<rect x="469.6" y="366.8" width="7.4" height="8.7" fill="#84f884"/>
<rect x="469.6" y="375.2" width="7.4" height="8.7" fill="#2094e4"/>
<rect x="469.6" y="383.6" width="7.4" height="8.7" fill="#2094e4"/>
<rect x="469.6" y="392.0" width="7.4" height="8.7" fill="#84f884"/>
<rect x="469.6" y="400.4" width="7.4" height="8.7" fill="#0040c8"/>
<rect x="476.7" y="299.6" width="7.9" height="8.7" fill="#ff7800"/>
<rect x="476.7" y="308.0" width="7.9" height="8.7" fill="#bef842"/>
<rect x="476.7" y="316.4" width="7.9" height="8.7" fill="#56d8aa"/>
<rect x="476.7" y="324.8" width="7.9" height="8.7" fill="#bef842"/>
<rect x="476.7" y="333.2" width="7.9" height="8.7" fill="#56d8aa"/>
<rect x="476.7" y="341.6" width="7.9" height="8.7" fill="#84f884"/>
<rect x="476.7" y="350.0" width="7.9" height="8.7" fill="#56d8aa"/>
<rect x="476.7" y="358.4" width="7.9" height="8.7" fill="#56d8aa"/>
<rect x="476.7" y="366.8" width="7.9" height="8.7" fill="#84f884"/>
<rect x="476.7" y="375.2" width="7.9" height="8.7" fill="#84f884"/>
<rect x="476.7" y="383.6" width="7.9" height="8.7" fill="#84f884"/>
<rect x="476.7" y="392.0" width="7.9" height="8.7" fill="#2094e4"/>
<rect x="484.3" y="299.6" width="7.3" height="8.7" fill="#f8f800"/>
<rect x="484.3" y="308.0" width="7.3" height="8.7" fill="#bef842"/>
<rect x="484.3" y="316.4" width="7.3" height="8.7" fill="#84f884"/>
<rect x="484.3" y="324.8" width="7.3" height="8.7" fill="#40bac6"/>
<rect x="484.3" y="333.2" width="7.3" height="8.7" fill="#ff1800"/>
<rect x="484.3" y="341.6" width="7.3" height="8.7" fill="#ffb400"/>
<rect x="484.3" y="350.0" width="7.3" height="8.7" fill="#40bac6"/>
<rect x="484.3" y="358.4" width="7.3" height="8.7" fill="#84f884"/>
<rect x="484.3" y="366.8" width="7.3" height="8.7" fill="#56d8aa"/>
<rect x="484.3" y="375.2" width="7.3" height="8.7" fill="#2094e4"/>
<rect x="484.3" y="383.6" width="7.3" height="8.7" fill="#2094e4"/>
<rect x="484.3" y="392.0" width="7.3" height="8.7" fill="#0078f0"/>
<rect x="484.3" y="400.4" width="7.3" height="8.7" fill="#84f884"/>
<rect x="491.3" y="299.6" width="7.4" height="8.7" fill="#56d8aa"/>
<rect x="491.3" y="308.0" width="7.4" height="8.7" fill="#bef842"/>
<rect x="491.3" y="316.4" width="7.4" height="8.7" fill="#ffb400"/>
<rect x="491.3" y="324.8" width="7.4" height="8.7" fill="#ff1800"/>
<rect x="491.3" y="333.2" width="7.4" height="8.7" fill="#bef842"/>
<rect x="491.3" y="341.6" width="7.4" height="8.7" fill="#bef842"/>
<rect x="491.3" y="350.0" width="7.4" height="8.7" fill="#f8f800"/>
<rect x="491.3" y="358.4" width="7.4" height="8.7" fill="#84f884"/>
<rect x="491.3" y="366.8" width="7.4" height="8.7" fill="#40bac6"/>
<rect x="491.3" y="375.2" width="7.4" height="8.7" fill="#0078f0"/>
<rect x="491.3" y="383.6" width="7.4" height="8.7" fill="#40bac6"/>
<rect x="491.3" y="392.0" width="7.4" height="8.7" fill="#0078f0"/>
<rect x="491.3" y="400.4" width="7.4" height="8.7" fill="#45009a"/>
<rect x="498.4" y="299.6" width="7.6" height="8.7" fill="#40bac6"/>
<rect x="498.4" y="308.0" width="7.6" height="8.7" fill="#40bac6"/>
<rect x="498.4" y="316.4" width="7.6" height="8.7" fill="#bef842"/>
<rect x="498.4" y="324.8" width="7.6" height="8.7" fill="#f8f800"/>
<rect x="498.4" y="333.2" width="7.6" height="8.7" fill="#f8f800"/>
<rect x="498.4" y="341.6" width="7.6" height="8.7" fill="#40bac6"/>
<rect x="498.4" y="350.0" width="7.6" height="8.7" fill="#56d8aa"/>
<rect x="498.4" y="358.4" width="7.6" height="8.7" fill="#84f884"/>
<rect x="498.4" y="366.8" width="7.6" height="8.7" fill="#2094e4"/>
<rect x="498.4" y="375.2" width="7.6" height="8.7" fill="#0078f0"/>
<rect x="498.4" y="383.6" width="7.6" height="8.7" fill="#45009a"/>
<rect x="498.4" y="392.0" width="7.6" height="8.7" fill="#8c00c8"/>
<rect x="505.7" y="299.6" width="7.0" height="8.7" fill="#40bac6"/>
<rect x="505.7" y="308.0" width="7.0" height="8.7" fill="#0040c8"/>
<rect x="505.7" y="316.4" width="7.0" height="8.7" fill="#bef842"/>
<rect x="505.7" y="324.8" width="7.0" height="8.7" fill="#2094e4"/>
<rect x="505.7" y="333.2" width="7.0" height="8.7" fill="#0078f0"/>
<rect x="505.7" y="341.6" width="7.0" height="8.7" fill="#56d8aa"/>
<rect x="505.7" y="350.0" width="7.0" height="8.7" fill="#84f884"/>
<rect x="505.7" y="358.4" width="7.0" height="8.7" fill="#84f884"/>
<rect x="505.7" y="366.8" width="7.0" height="8.7" fill="#0078f0"/>
<rect x="505.7" y="375.2" width="7.0" height="8.7" fill="#0078f0"/>
<rect x="505.7" y="383.6" width="7.0" height="8.7" fill="#0078f0"/>
<rect x="505.7" y="392.0" width="7.0" height="8.7" fill="#0078f0"/>
<rect x="512.4" y="299.6" width="8.0" height="8.7" fill="#0040c8"/>
<rect x="512.4" y="308.0" width="8.0" height="8.7" fill="#40bac6"/>
<rect x="512.4" y="316.4" width="8.0" height="8.7" fill="#84f884"/>
<rect x="512.4" y="324.8" width="8.0" height="8.7" fill="#84f884"/>
<rect x="512.4" y="333.2" width="8.0" height="8.7" fill="#84f884"/>
<rect x="512.4" y="341.6" width="8.0" height="8.7" fill="#40bac6"/>
<rect x="512.4" y="350.0" width="8.0" height="8.7" fill="#40bac6"/>
<rect x="512.4" y="358.4" width="8.0" height="8.7" fill="#0078f0"/>
<rect x="512.4" y="366.8" width="8.0" height="8.7" fill="#40bac6"/>
<rect x="512.4" y="375.2" width="8.0" height="8.7" fill="#56d8aa"/>
<rect x="512.4" y="383.6" width="8.0" height="8.7" fill="#0040c8"/>
<rect x="520.1" y="299.6" width="6.7" height="8.7" fill="#40bac6"/>
<rect x="520.1" y="308.0" width="6.7" height="8.7" fill="#2094e4"/>
<rect x="520.1" y="316.4" width="6.7" height="8.7" fill="#f8f800"/>
<rect x="520.1" y="324.8" width="6.7" height="8.7" fill="#56d8aa"/>
<rect x="520.1" y="333.2" width="6.7" height="8.7" fill="#bef842"/>
<rect x="520.1" y="341.6" width="6.7" height="8.7" fill="#84f884"/>
<rect x="520.1" y="350.0" width="6.7" height="8.7" fill="#40bac6"/>
<rect x="520.1" y="358.4" width="6.7" height="8.7" fill="#84f884"/>
<rect x="520.1" y="366.8" width="6.7" height="8.7" fill="#f8f800"/>
<rect x="520.1" y="375.2" width="6.7" height="8.7" fill="#84f884"/>
<rect x="520.1" y="383.6" width="6.7" height="8.7" fill="#40bac6"/>
<rect x="526.5" y="299.6" width="5.2" height="8.7" fill="#0078f0"/>
<rect x="526.5" y="308.0" width="5.2" height="8.7" fill="#84f884"/>
<rect x="526.5" y="316.4" width="5.2" height="8.7" fill="#84f884"/>
<rect x="526.5" y="324.8" width="5.2" height="8.7" fill="#84f884"/>
<rect x="526.5" y="333.2" width="5.2" height="8.7" fill="#40bac6"/>
<rect x="526.5" y="341.6" width="5.2" height="8.7" fill="#40bac6"/>
<rect x="526.5" y="350.0" width="5.2" height="8.7" fill="#56d8aa"/>
<rect x="526.5" y="358.4" width="5.2" height="8.7" fill="#84f884"/>
<rect x="526.5" y="366.8" width="5.2" height="8.7" fill="#0078f0"/>
<rect x="526.5" y="375.2" width="5.2" height="8.7" fill="#2094e4"/>
<rect x="526.5" y="383.6" width="5.2" height="8.7" fill="#f8f800"/>
<rect x="531.4" y="299.6" width="4.9" height="8.7" fill="#bef842"/>
<rect x="531.4" y="308.0" width="4.9" height="8.7" fill="#f8f800"/>
<rect x="531.4" y="316.4" width="4.9" height="8.7" fill="#bef842"/>
<rect x="531.4" y="324.8" width="4.9" height="8.7" fill="#bef842"/>
<rect x="531.4" y="333.2" width="4.9" height="8.7" fill="#bef842"/>
<rect x="531.4" y="341.6" width="4.9" height="8.7" fill="#56d8aa"/>
<rect x="531.4" y="350.0" width="4.9" height="8.7" fill="#56d8aa"/>
<rect x="531.4" y="358.4" width="4.9" height="8.7" fill="#2094e4"/>
<rect x="531.4" y="366.8" width="4.9" height="8.7" fill="#40bac6"/>
<rect x="531.4" y="375.2" width="4.9" height="8.7" fill="#84f884"/>
<rect x="531.4" y="383.6" width="4.9" height="8.7" fill="#56d8aa"/>
<rect x="536.0" y="299.6" width="5.1" height="8.7" fill="#45009a"/>
<rect x="536.0" y="308.0" width="5.1" height="8.7" fill="#000c8c"/>
<rect x="536.0" y="316.4" width="5.1" height="8.7" fill="#56d8aa"/>
<rect x="536.0" y="324.8" width="5.1" height="8.7" fill="#bef842"/>
<rect x="536.0" y="333.2" width="5.1" height="8.7" fill="#f8f800"/>
<rect x="536.0" y="341.6" width="5.1" height="8.7" fill="#bef842"/>
<rect x="536.0" y="350.0" width="5.1" height="8.7" fill="#2094e4"/>
<rect x="536.0" y="358.4" width="5.1" height="8.7" fill="#2094e4"/>
<rect x="536.0" y="366.8" width="5.1" height="8.7" fill="#2094e4"/>
<rect x="536.0" y="375.2" width="5.1" height="8.7" fill="#0040c8"/>
<rect x="540.8" y="299.6" width="7.8" height="8.7" fill="#bef842"/>
<rect x="540.8" y="308.0" width="7.8" height="8.7" fill="#ffb400"/>
<rect x="540.8" y="316.4" width="7.8" height="8.7" fill="#bef842"/>
<rect x="540.8" y="324.8" width="7.8" height="8.7" fill="#bef842"/>
<rect x="540.8" y="333.2" width="7.8" height="8.7" fill="#84f884"/>
<rect x="540.8" y="341.6" width="7.8" height="8.7" fill="#84f884"/>
<rect x="540.8" y="350.0" width="7.8" height="8.7" fill="#f8f800"/>
<rect x="540.8" y="358.4" width="7.8" height="8.7" fill="#bef842"/>
<rect x="540.8" y="366.8" width="7.8" height="8.7" fill="#56d8aa"/>
<rect x="540.8" y="375.2" width="7.8" height="8.7" fill="#000c8c"/>
<rect x="540.8" y="383.6" width="7.8" height="8.7" fill="#0078f0"/>
<rect x="548.3" y="299.6" width="7.1" height="8.7" fill="#84f884"/>
<rect x="548.3" y="308.0" width="7.1" height="8.7" fill="#2094e4"/>
<rect x="548.3" y="316.4" width="7.1" height="8.7" fill="#0078f0"/>
<rect x="548.3" y="324.8" width="7.1" height="8.7" fill="#0078f0"/>
<rect x="548.3" y="333.2" width="7.1" height="8.7" fill="#ffb400"/>
<rect x="548.3" y="341.6" width="7.1" height="8.7" fill="#bef842"/>
<rect x="548.3" y="350.0" width="7.1" height="8.7" fill="#84f884"/>
<rect x="548.3" y="358.4" width="7.1" height="8.7" fill="#0040c8"/>
<rect x="548.3" y="366.8" width="7.1" height="8.7" fill="#45009a"/>
<rect x="555.1" y="299.6" width="7.6" height="8.7" fill="#8c00c8"/>
<rect x="555.1" y="308.0" width="7.6" height="8.7" fill="#000c8c"/>
<rect x="555.1" y="316.4" width="7.6" height="8.7" fill="#0040c8"/>
<rect x="555.1" y="324.8" width="7.6" height="8.7" fill="#0040c8"/>
<rect x="555.1" y="333.2" width="7.6" height="8.7" fill="#0078f0"/>
<rect x="555.1" y="341.6" width="7.6" height="8.7" fill="#0078f0"/>
<rect x="555.1" y="350.0" width="7.6" height="8.7" fill="#0078f0"/>
<rect x="555.1" y="358.4" width="7.6" height="8.7" fill="#0040c8"/>
<rect x="555.1" y="366.8" width="7.6" height="8.7" fill="#2094e4"/>
<rect x="555.1" y="375.2" width="7.6" height="8.7" fill="#56d8aa"/>
<rect x="562.4" y="299.6" width="9.5" height="8.7" fill="#0040c8"/>
<rect x="562.4" y="308.0" width="9.5" height="8.7" fill="#2094e4"/>
<rect x="562.4" y="316.4" width="9.5" height="8.7" fill="#2094e4"/>
<rect x="562.4" y="324.8" width="9.5" height="8.7" fill="#84f884"/>
<rect x="562.4" y="333.2" width="9.5" height="8.7" fill="#84f884"/>
<rect x="562.4" y="341.6" width="9.5" height="8.7" fill="#bef842"/>
<rect x="562.4" y="350.0" width="9.5" height="8.7" fill="#bef842"/>
<rect x="562.4" y="358.4" width="9.5" height="8.7" fill="#84f884"/>
<rect x="562.4" y="366.8" width="9.5" height="8.7" fill="#56d8aa"/>
<rect x="571.6" y="299.6" width="4.6" height="8.7" fill="#0040c8"/>
<rect x="571.6" y="308.0" width="4.6" height="8.7" fill="#0078f0"/>
<rect x="571.6" y="316.4" width="4.6" height="8.7" fill="#56d8aa"/>
<rect x="571.6" y="324.8" width="4.6" height="8.7" fill="#56d8aa"/>
<rect x="571.6" y="333.2" width="4.6" height="8.7" fill="#bef842"/>
<rect x="571.6" y="341.6" width="4.6" height="8.7" fill="#f8f800"/>
<rect x="571.6" y="350.0" width="4.6" height="8.7" fill="#56d8aa"/>
<rect x="571.6" y="358.4" width="4.6" height="8.7" fill="#0078f0"/>
<rect x="571.6" y="366.8" width="4.6" height="8.7" fill="#000c8c"/>
<rect x="575.9" y="299.6" width="8.2" height="8.7" fill="#56d8aa"/>
<rect x="575.9" y="308.0" width="8.2" height="8.7" fill="#0078f0"/>
<rect x="575.9" y="316.4" width="8.2" height="8.7" fill="#2094e4"/>
<rect x="575.9" y="324.8" width="8.2" height="8.7" fill="#0078f0"/>
<rect x="575.9" y="333.2" width="8.2" height="8.7" fill="#56d8aa"/>
<rect x="575.9" y="341.6" width="8.2" height="8.7" fill="#0078f0"/>
<rect x="575.9" y="350.0" width="8.2" height="8.7" fill="#000c8c"/>
<rect x="575.9" y="358.4" width="8.2" height="8.7" fill="#0078f0"/>
<rect x="583.8" y="299.6" width="4.0" height="8.7" fill="#40bac6"/>
<rect x="583.8" y="308.0" width="4.0" height="8.7" fill="#bef842"/>
<rect x="583.8" y="316.4" width="4.0" height="8.7" fill="#56d8aa"/>
<rect x="583.8" y="324.8" width="4.0" height="8.7" fill="#bef842"/>
<rect x="583.8" y="333.2" width="4.0" height="8.7" fill="#f8f800"/>
<rect x="583.8" y="341.6" width="4.0" height="8.7" fill="#84f884"/>
<rect x="583.8" y="350.0" width="4.0" height="8.7" fill="#f8f800"/>
<rect x="583.8" y="358.4" width="4.0" height="8.7" fill="#0040c8"/>
<rect x="587.5" y="299.6" width="5.8" height="8.7" fill="#0040c8"/>
<rect x="587.5" y="308.0" width="5.8" height="8.7" fill="#45009a"/>
<rect x="587.5" y="316.4" width="5.8" height="8.7" fill="#2094e4"/>
<rect x="587.5" y="324.8" width="5.8" height="8.7" fill="#0040c8"/>
<rect x="587.5" y="333.2" width="5.8" height="8.7" fill="#000c8c"/>
<rect x="587.5" y="341.6" width="5.8" height="8.7" fill="#0040c8"/>
<rect x="587.5" y="350.0" width="5.8" height="8.7" fill="#40bac6"/>
<rect x="587.5" y="358.4" width="5.8" height="8.7" fill="#0078f0"/>
<rect x="59.7" y="297.7" width="5.8" height="4.4" fill="#40bac6"/>
<rect x="65.2" y="297.7" width="4.6" height="4.4" fill="#000c8c"/>
<rect x="65.2" y="301.8" width="4.6" height="4.5" fill="#ff00ff"/>
<rect x="69.5" y="297.7" width="7.0" height="4.4" fill="#2094e4"/>
<rect x="69.5" y="301.8" width="7.0" height="4.5" fill="#0078f0"/>
<rect x="69.5" y="306.0" width="7.0" height="4.4" fill="#ff00ff"/>
<rect x="76.2" y="297.7" width="7.6" height="4.4" fill="#0040c8"/>
<rect x="76.2" y="301.8" width="7.6" height="4.5" fill="#ff00ff"/>
<rect x="76.2" y="306.0" width="7.6" height="4.4" fill="#000c8c"/>
<rect x="76.2" y="310.1" width="7.6" height="4.5" fill="#0040c8"/>
<rect x="83.5" y="297.7" width="6.4" height="4.4" fill="#45009a"/>
<rect x="83.5" y="301.8" width="6.4" height="4.5" fill="#000c8c"/>
<rect x="83.5" y="306.0" width="6.4" height="4.4" fill="#84f884"/>
<rect x="83.5" y="310.1" width="6.4" height="4.5" fill="#40bac6"/>
<rect x="83.5" y="314.3" width="6.4" height="4.4" fill="#0078f0"/>
<rect x="83.5" y="318.4" width="6.4" height="4.4" fill="#2094e4"/>
<rect x="89.6" y="297.7" width="12.6" height="4.4" fill="#ff00ff"/>
<rect x="89.6" y="301.8" width="12.6" height="4.5" fill="#ff00ff"/>
<rect x="89.6" y="306.0" width="12.6" height="4.4" fill="#0078f0"/>
<rect x="89.6" y="310.1" width="12.6" height="4.5" fill="#8c00c8"/>
<rect x="89.6" y="314.3" width="12.6" height="4.4" fill="#8c00c8"/>
<rect x="89.6" y="318.4" width="12.6" height="4.4" fill="#000c8c"/>
<rect x="89.6" y="322.6" width="12.6" height="4.5" fill="#45009a"/>
<rect x="89.6" y="326.8" width="12.6" height="4.4" fill="#ff00ff"/>
<rect x="101.9" y="297.7" width="5.0" height="4.4" fill="#0040c8"/>
<rect x="101.9" y="301.8" width="5.0" height="4.5" fill="#56d8aa"/>
<rect x="101.9" y="306.0" width="5.0" height="4.4" fill="#0078f0"/>
<rect x="101.9" y="310.1" width="5.0" height="4.5" fill="#bef842"/>
<rect x="101.9" y="314.3" width="5.0" height="4.4" fill="#0078f0"/>
<rect x="101.9" y="318.4" width="5.0" height="4.4" fill="#8c00c8"/>
<rect x="101.9" y="322.6" width="5.0" height="4.5" fill="#56d8aa"/>
<rect x="101.9" y="326.8" width="5.0" height="4.4" fill="#000c8c"/>
<rect x="101.9" y="330.9" width="5.0" height="4.5" fill="#0078f0"/>
<rect x="593.0" y="297.7" width="9.0" height="4.4" fill="#45009a"/>
<rect x="593.0" y="301.8" width="9.0" height="4.5" fill="#45009a"/>
<rect x="593.0" y="306.0" width="9.0" height="4.4" fill="#0078f0"/>
<rect x="593.0" y="310.1" width="9.0" height="4.5" fill="#2094e4"/>
<rect x="593.0" y="314.3" width="9.0" height="4.4" fill="#0040c8"/>
<rect x="593.0" y="318.4" width="9.0" height="4.4" fill="#0078f0"/>
<rect x="593.0" y="322.6" width="9.0" height="4.5" fill="#0040c8"/>
<rect x="593.0" y="326.8" width="9.0" height="4.4" fill="#0040c8"/>
<rect x="593.0" y="330.9" width="9.0" height="4.5" fill="#ff00ff"/>
<rect x="593.0" y="335.1" width="9.0" height="4.4" fill="#0040c8"/>
<rect x="593.0" y="339.2" width="9.0" height="4.5" fill="#0078f0"/>
<rect x="593.0" y="343.4" width="9.0" height="4.4" fill="#0078f0"/>
<rect x="593.0" y="347.5" width="9.0" height="4.4" fill="#ff00ff"/>
<rect x="593.0" y="351.6" width="9.0" height="4.5" fill="#0040c8"/>
<rect x="593.0" y="355.8" width="9.0" height="4.4" fill="#45009a"/>
<rect x="593.0" y="359.9" width="9.0" height="4.5" fill="#ff00ff"/>
<rect x="601.7" y="297.7" width="10.5" height="4.4" fill="#45009a"/>
<rect x="601.7" y="301.8" width="10.5" height="4.5" fill="#ff00ff"/>
<rect x="601.7" y="306.0" width="10.5" height="4.4" fill="#ff00ff"/>
<rect x="601.7" y="310.1" width="10.5" height="4.5" fill="#0040c8"/>
<rect x="601.7" y="314.3" width="10.5" height="4.4" fill="#45009a"/>
<rect x="601.7" y="318.4" width="10.5" height="4.4" fill="#0078f0"/>
<rect x="601.7" y="322.6" width="10.5" height="4.5" fill="#0040c8"/>
<rect x="601.7" y="326.8" width="10.5" height="4.4" fill="#0040c8"/>
<rect x="601.7" y="330.9" width="10.5" height="4.5" fill="#8c00c8"/>
<rect x="601.7" y="335.1" width="10.5" height="4.4" fill="#0040c8"/>
<rect x="601.7" y="339.2" width="10.5" height="4.5" fill="#0040c8"/>
<rect x="601.7" y="343.4" width="10.5" height="4.4" fill="#0078f0"/>
<rect x="601.7" y="347.5" width="10.5" height="4.4" fill="#bef842"/>
<rect x="601.7" y="351.6" width="10.5" height="4.5" fill="#ff00ff"/>
<rect x="601.7" y="355.8" width="10.5" height="4.4" fill="#0040c8"/>
<rect x="611.9" y="297.7" width="10.7" height="4.4" fill="#ff00ff"/>
<rect x="611.9" y="301.8" width="10.7" height="4.5" fill="#ff00ff"/>
<rect x="611.9" y="306.0" width="10.7" height="4.4" fill="#ff00ff"/>
<rect x="611.9" y="310.1" width="10.7" height="4.5" fill="#8c00c8"/>
<rect x="611.9" y="314.3" width="10.7" height="4.4" fill="#56d8aa"/>
<rect x="611.9" y="318.4" width="10.7" height="4.4" fill="#ff00ff"/>
<rect x="611.9" y="322.6" width="10.7" height="4.5" fill="#8c00c8"/>
<rect x="611.9" y="326.8" width="10.7" height="4.4" fill="#ff00ff"/>
<rect x="611.9" y="330.9" width="10.7" height="4.5" fill="#8c00c8"/>
<rect x="611.9" y="335.1" width="10.7" height="4.4" fill="#000c8c"/>
<rect x="611.9" y="339.2" width="10.7" height="4.5" fill="#2094e4"/>
<rect x="611.9" y="343.4" width="10.7" height="4.4" fill="#45009a"/>
<rect x="622.3" y="297.7" width="8.6" height="4.4" fill="#000c8c"/>
<rect x="622.3" y="301.8" width="8.6" height="4.5" fill="#ff00ff"/>
<rect x="622.3" y="306.0" width="8.6" height="4.4" fill="#ff00ff"/>
<rect x="622.3" y="310.1" width="8.6" height="4.5" fill="#000c8c"/>
<rect x="622.3" y="314.3" width="8.6" height="4.4" fill="#8c00c8"/>
<rect x="622.3" y="318.4" width="8.6" height="4.4" fill="#40bac6"/>
<rect x="622.3" y="322.6" width="8.6" height="4.5" fill="#ff00ff"/>
<rect x="622.3" y="326.8" width="8.6" height="4.4" fill="#ff00ff"/>
<rect x="622.3" y="330.9" width="8.6" height="4.5" fill="#ff00ff"/>
<rect x="622.3" y="335.1" width="8.6" height="4.4" fill="#000c8c"/>
<rect x="630.6" y="297.7" width="8.8" height="4.4" fill="#ff00ff"/>
<rect x="630.6" y="301.8" width="8.8" height="4.5" fill="#0040c8"/>
<rect x="630.6" y="306.0" width="8.8" height="4.4" fill="#ff00ff"/>
<rect x="630.6" y="310.1" width="8.8" height="4.5" fill="#2094e4"/>
<rect x="630.6" y="314.3" width="8.8" height="4.4" fill="#0040c8"/>
<rect x="630.6" y="318.4" width="8.8" height="4.4" fill="#ff00ff"/>
<rect x="630.6" y="322.6" width="8.8" height="4.5" fill="#40bac6"/>
<rect x="639.1" y="297.7" width="10.4" height="4.4" fill="#ff00ff"/>
<rect x="639.1" y="301.8" width="10.4" height="4.5" fill="#ff00ff"/>
<rect x="639.1" y="306.0" width="10.4" height="4.4" fill="#ff00ff"/>
<rect x="639.1" y="310.1" width="10.4" height="4.5" fill="#8c00c8"/>
<rect x="649.2" y="297.7" width="12.5" height="4.4" fill="#ff00ff"/>
<rect x="649.2" y="301.8" width="12.5" height="4.5" fill="#ff00ff"/>
</g>
<path d="M47.2,280.9 L59,280.9 L59,302" fill="none" stroke="#888" stroke-width="1.2"/><path d="M661.8,279.9 L661.8,306" fill="none" stroke="#888" stroke-width="1.2"/>
<line x1="29.0" y1="267.7" x2="681.0" y2="267.7" stroke="#333" stroke-width="1.4"/>
<line x1="681.0" y1="267.7" x2="681.0" y2="451.2" stroke="#555" stroke-width="1.1"/>
<line x1="29.0" y1="267.0" x2="29.0" y2="451.2" stroke="#777" stroke-width="1.3"/>
<line x1="29.0" y1="451.2" x2="681.0" y2="451.2" stroke="#222" stroke-width="1.6"/>
<rect x="548.5" y="391.9" width="130.0" height="55.10000000000002" fill="#fff" stroke="#333" stroke-width="1.1"/>
<defs><linearGradient id="g2" x1="0" x2="1" y1="0" y2="0"><stop offset="0" stop-color="#ff00ff"/><stop offset="0.2" stop-color="#000080"/><stop offset="0.39" stop-color="#0080ff"/><stop offset="0.5" stop-color="#40b4c4"/><stop offset="0.61" stop-color="#80ff80"/><stop offset="0.8" stop-color="#ffff00"/><stop offset="1" stop-color="#ff0000"/></linearGradient></defs>
<rect x="559.7" y="414.5" width="106.89999999999998" height="10.100000000000023" fill="url(#g2)" stroke="#444" stroke-width="0.8"/>
<line x1="559.7" y1="424.6" x2="559.7" y2="429.1" stroke="#555" stroke-width="0.9"/>
<text x="0" y="0" transform="translate(559.7,439.5) scale(0.69,1)" text-anchor="middle" font-size="11" fill="#333" stroke="#333" stroke-width="0.25">0.6</text>
<line x1="586.4" y1="424.6" x2="586.4" y2="429.1" stroke="#555" stroke-width="0.9"/>
<text x="0" y="0" transform="translate(586.4,439.5) scale(0.69,1)" text-anchor="middle" font-size="11" fill="#333" stroke="#333" stroke-width="0.25">0.8</text>
<line x1="613.2" y1="424.6" x2="613.2" y2="429.1" stroke="#555" stroke-width="0.9"/>
<text x="0" y="0" transform="translate(613.2,439.5) scale(0.69,1)" text-anchor="middle" font-size="11" fill="#333" stroke="#333" stroke-width="0.25">1.0</text>
<line x1="639.9" y1="424.6" x2="639.9" y2="429.1" stroke="#555" stroke-width="0.9"/>
<text x="0" y="0" transform="translate(639.9,439.5) scale(0.69,1)" text-anchor="middle" font-size="11" fill="#333" stroke="#333" stroke-width="0.25">1.2</text>
<line x1="666.6" y1="424.6" x2="666.6" y2="429.1" stroke="#555" stroke-width="0.9"/>
<text x="0" y="0" transform="translate(666.6,439.5) scale(0.69,1)" text-anchor="middle" font-size="11" fill="#333" stroke="#333" stroke-width="0.25">1.4</text>
<text x="0" y="0" transform="translate(613.5,406.8) scale(0.69,1)" text-anchor="middle" font-size="11.5" fill="#333" stroke="#333" stroke-width="0.25">Speed (m/s)</text>
<line x1="26.5" y1="272.9" x2="29.0" y2="272.9" stroke="#444" stroke-width="0.9"/>
<text x="0" y="0" transform="translate(25.1,278.1) scale(0.7,1)" text-anchor="end" font-size="10.4" fill="#333" stroke="#333" stroke-width="0.3">0</text>
<line x1="26.5" y1="314.7" x2="29.0" y2="314.7" stroke="#444" stroke-width="0.9"/>
<text x="0" y="0" transform="translate(25.1,319.9) scale(0.7,1)" text-anchor="end" font-size="10.4" fill="#333" stroke="#333" stroke-width="0.3">1</text>
<line x1="26.5" y1="356.5" x2="29.0" y2="356.5" stroke="#444" stroke-width="0.9"/>
<text x="0" y="0" transform="translate(25.1,361.7) scale(0.7,1)" text-anchor="end" font-size="10.4" fill="#333" stroke="#333" stroke-width="0.3">2</text>
<line x1="26.5" y1="398.3" x2="29.0" y2="398.3" stroke="#444" stroke-width="0.9"/>
<text x="0" y="0" transform="translate(25.1,403.5) scale(0.7,1)" text-anchor="end" font-size="10.4" fill="#333" stroke="#333" stroke-width="0.3">3</text>
<line x1="26.5" y1="440.1" x2="29.0" y2="440.1" stroke="#444" stroke-width="0.9"/>
<text x="0" y="0" transform="translate(25.1,445.3) scale(0.7,1)" text-anchor="end" font-size="10.4" fill="#333" stroke="#333" stroke-width="0.3">4</text>
<line x1="661.3" y1="451.2" x2="661.3" y2="454.7" stroke="#444" stroke-width="0.9"/>
<text x="0" y="0" transform="translate(661.3,464.5) scale(0.67,1)" text-anchor="middle" font-size="10" fill="#333" stroke="#333" stroke-width="0.3">0</text>
<line x1="541.7" y1="451.2" x2="541.7" y2="454.7" stroke="#444" stroke-width="0.9"/>
<text x="0" y="0" transform="translate(541.7,464.5) scale(0.67,1)" text-anchor="middle" font-size="10" fill="#333" stroke="#333" stroke-width="0.3">5</text>
<line x1="422.1" y1="451.2" x2="422.1" y2="454.7" stroke="#444" stroke-width="0.9"/>
<text x="0" y="0" transform="translate(422.1,464.5) scale(0.67,1)" text-anchor="middle" font-size="10" fill="#333" stroke="#333" stroke-width="0.3">10</text>
<line x1="302.5" y1="451.2" x2="302.5" y2="454.7" stroke="#444" stroke-width="0.9"/>
<text x="0" y="0" transform="translate(302.5,464.5) scale(0.67,1)" text-anchor="middle" font-size="10" fill="#333" stroke="#333" stroke-width="0.3">15</text>
<line x1="182.9" y1="451.2" x2="182.9" y2="454.7" stroke="#444" stroke-width="0.9"/>
<text x="0" y="0" transform="translate(182.9,464.5) scale(0.67,1)" text-anchor="middle" font-size="10" fill="#333" stroke="#333" stroke-width="0.3">20</text>
<line x1="63.3" y1="451.2" x2="63.3" y2="454.7" stroke="#444" stroke-width="0.9"/>
<text x="0" y="0" transform="translate(63.3,464.5) scale(0.67,1)" text-anchor="middle" font-size="10" fill="#333" stroke="#333" stroke-width="0.3">25</text>
<text x="0" y="0" transform="translate(354.5,480.5) scale(0.69,1)" text-anchor="middle" font-size="10.5" fill="#333" stroke="#333" stroke-width="0.25">Track (m)</text>
<text x="0" y="0" transform="translate(8.6,347.8) rotate(-90)" text-anchor="middle" font-size="8.3" font-weight="bold" textLength="50" lengthAdjust="spacing" fill="#333">Depth (m)</text>
<line x1="0" y1="489.9" x2="685" y2="489.9" stroke="#f0f0f0" stroke-width="1"/>
</svg>
<div class="cap" id="capa" style="top:226.5px;font-size:19.5px;transform:scaleX(0.96);left:0.4px;">(a) Cross-section number 4, Pk8+90</div>
<div class="cap" id="capb" style="top:502px;font-size:19px;transform:scaleX(0.984);left:0.4px;">(b) Cross-section number 0, Pk18+50</div>
</div></body></html>
